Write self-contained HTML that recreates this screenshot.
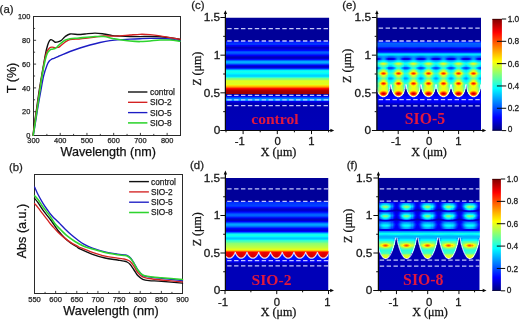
<!DOCTYPE html>
<html><head><meta charset="utf-8"><style>
html,body{margin:0;padding:0;background:#fff;width:520px;height:320px;overflow:hidden}
svg{display:block;filter:blur(0.3px)}
</style></head><body>
<svg width="520" height="320" viewBox="0 0 520 320">
<defs><linearGradient id="g1" gradientUnits="userSpaceOnUse" x1="0" y1="17.5" x2="0" y2="130.5"><stop offset="0%" stop-color="#000099"/><stop offset="19.91%" stop-color="#000099"/><stop offset="20.35%" stop-color="#00009f"/><stop offset="20.8%" stop-color="#0000d2"/><stop offset="21.24%" stop-color="#000dff"/><stop offset="23.45%" stop-color="#003dff"/><stop offset="23.89%" stop-color="#0033ff"/><stop offset="24.78%" stop-color="#0000f9"/><stop offset="25.22%" stop-color="#0000e7"/><stop offset="25.66%" stop-color="#0000e2"/><stop offset="26.55%" stop-color="#0000b9"/><stop offset="26.99%" stop-color="#0000b3"/><stop offset="27.88%" stop-color="#0000d7"/><stop offset="28.76%" stop-color="#0000ec"/><stop offset="29.2%" stop-color="#0005ff"/><stop offset="30.09%" stop-color="#0048ff"/><stop offset="30.53%" stop-color="#005dff"/><stop offset="30.97%" stop-color="#0060ff"/><stop offset="31.86%" stop-color="#004eff"/><stop offset="33.19%" stop-color="#000fff"/><stop offset="33.63%" stop-color="#0000f6"/><stop offset="34.51%" stop-color="#0000ce"/><stop offset="35.4%" stop-color="#0000b9"/><stop offset="35.84%" stop-color="#0000b9"/><stop offset="36.28%" stop-color="#0000c8"/><stop offset="36.73%" stop-color="#0000e5"/><stop offset="37.17%" stop-color="#000dff"/><stop offset="38.5%" stop-color="#008cff"/><stop offset="38.94%" stop-color="#00a7ff"/><stop offset="39.38%" stop-color="#00b2ff"/><stop offset="39.82%" stop-color="#00aeff"/><stop offset="40.27%" stop-color="#009eff"/><stop offset="40.71%" stop-color="#0083ff"/><stop offset="42.04%" stop-color="#0013ff"/><stop offset="42.48%" stop-color="#0000f0"/><stop offset="43.36%" stop-color="#0000c9"/><stop offset="43.81%" stop-color="#0000c8"/><stop offset="44.25%" stop-color="#0000d9"/><stop offset="44.69%" stop-color="#0000fa"/><stop offset="45.13%" stop-color="#0029ff"/><stop offset="46.46%" stop-color="#00cbff"/><stop offset="46.9%" stop-color="#00f4ff"/><stop offset="47.35%" stop-color="#10ffef"/><stop offset="48.23%" stop-color="#17ffe8"/><stop offset="49.56%" stop-color="#00fbff"/><stop offset="50.88%" stop-color="#00d9ff"/><stop offset="51.77%" stop-color="#00d1ff"/><stop offset="52.21%" stop-color="#00deff"/><stop offset="52.65%" stop-color="#00ffff"/><stop offset="53.54%" stop-color="#59ffa6"/><stop offset="53.98%" stop-color="#77ff88"/><stop offset="54.87%" stop-color="#90ff6f"/><stop offset="55.75%" stop-color="#d0ff2f"/><stop offset="56.19%" stop-color="#e4ff1b"/><stop offset="58.85%" stop-color="#dbff24"/><stop offset="59.29%" stop-color="#e5ff1a"/><stop offset="59.73%" stop-color="#fffe00"/><stop offset="60.62%" stop-color="#ffc100"/><stop offset="61.5%" stop-color="#ffa300"/><stop offset="62.39%" stop-color="#ff3100"/><stop offset="62.83%" stop-color="#ff1000"/><stop offset="63.27%" stop-color="#ff0300"/><stop offset="64.16%" stop-color="#b90000"/><stop offset="65.93%" stop-color="#9e0000"/><stop offset="67.7%" stop-color="#9e0000"/><stop offset="68.14%" stop-color="#00009e"/><stop offset="69.47%" stop-color="#0000cd"/><stop offset="69.91%" stop-color="#0005ff"/><stop offset="70.35%" stop-color="#003cff"/><stop offset="71.24%" stop-color="#005aff"/><stop offset="72.57%" stop-color="#00acff"/><stop offset="73.01%" stop-color="#00b1ff"/><stop offset="73.45%" stop-color="#0082ff"/><stop offset="73.89%" stop-color="#002fff"/><stop offset="74.34%" stop-color="#0000ef"/><stop offset="76.11%" stop-color="#0000b3"/><stop offset="100%" stop-color="#0000b8"/></linearGradient>
<linearGradient id="g2" gradientUnits="userSpaceOnUse" x1="0" y1="178" x2="0" y2="290.5"><stop offset="0%" stop-color="#000099"/><stop offset="20%" stop-color="#000099"/><stop offset="20.44%" stop-color="#00009f"/><stop offset="20.89%" stop-color="#0000db"/><stop offset="21.33%" stop-color="#0020ff"/><stop offset="21.78%" stop-color="#002eff"/><stop offset="24.44%" stop-color="#0042ff"/><stop offset="25.33%" stop-color="#0031ff"/><stop offset="26.22%" stop-color="#0007ff"/><stop offset="27.56%" stop-color="#0000c8"/><stop offset="28.44%" stop-color="#0000bd"/><stop offset="29.33%" stop-color="#0000d2"/><stop offset="30.22%" stop-color="#0000fd"/><stop offset="32%" stop-color="#0059ff"/><stop offset="32.89%" stop-color="#006bff"/><stop offset="33.78%" stop-color="#005cff"/><stop offset="35.56%" stop-color="#0000f8"/><stop offset="36.44%" stop-color="#0000cb"/><stop offset="37.33%" stop-color="#0000bd"/><stop offset="37.78%" stop-color="#0000c6"/><stop offset="38.67%" stop-color="#0000f7"/><stop offset="40.44%" stop-color="#0086ff"/><stop offset="41.33%" stop-color="#00a7ff"/><stop offset="41.78%" stop-color="#00a7ff"/><stop offset="42.67%" stop-color="#008dff"/><stop offset="44.89%" stop-color="#0004ff"/><stop offset="46.22%" stop-color="#0000d3"/><stop offset="46.67%" stop-color="#0000d3"/><stop offset="47.11%" stop-color="#0000e3"/><stop offset="47.56%" stop-color="#0004ff"/><stop offset="49.33%" stop-color="#00cdff"/><stop offset="49.78%" stop-color="#00f5ff"/><stop offset="50.22%" stop-color="#10ffef"/><stop offset="50.67%" stop-color="#1affe5"/><stop offset="51.11%" stop-color="#16ffe9"/><stop offset="52%" stop-color="#00fdff"/><stop offset="52.89%" stop-color="#00dcff"/><stop offset="53.78%" stop-color="#00c8ff"/><stop offset="54.22%" stop-color="#00c9ff"/><stop offset="54.67%" stop-color="#00e3ff"/><stop offset="55.11%" stop-color="#0efff1"/><stop offset="55.56%" stop-color="#33ffcc"/><stop offset="56.89%" stop-color="#57ffa8"/><stop offset="58.22%" stop-color="#8eff71"/><stop offset="61.78%" stop-color="#c1ff3e"/><stop offset="63.56%" stop-color="#e5ff1a"/><stop offset="64%" stop-color="#fff600"/><stop offset="64.89%" stop-color="#ff9d00"/><stop offset="65.33%" stop-color="#ff4f00"/><stop offset="65.78%" stop-color="#ff2e00"/><stop offset="66.22%" stop-color="#0000e7"/><stop offset="68%" stop-color="#0003ff"/><stop offset="69.33%" stop-color="#000fff"/><stop offset="71.56%" stop-color="#000fff"/><stop offset="72.89%" stop-color="#0003ff"/><stop offset="74.67%" stop-color="#0000f0"/><stop offset="76%" stop-color="#0000b8"/><stop offset="100%" stop-color="#0000b8"/></linearGradient>
<linearGradient id="g3" gradientUnits="userSpaceOnUse" x1="0" y1="251" x2="0" y2="259.5"><stop offset="0%" stop-color="#ff9d00"/><stop offset="5.88%" stop-color="#ff4f00"/><stop offset="17.65%" stop-color="#ff0000"/><stop offset="52.94%" stop-color="#ed0000"/><stop offset="58.82%" stop-color="#000fff"/><stop offset="100%" stop-color="#000aff"/></linearGradient>
<linearGradient id="g4" gradientUnits="userSpaceOnUse" x1="0" y1="251" x2="0" y2="259.5"><stop offset="0%" stop-color="#ff9d00"/><stop offset="5.88%" stop-color="#ff4f00"/><stop offset="17.65%" stop-color="#f80000"/><stop offset="64.71%" stop-color="#df0000"/><stop offset="70.59%" stop-color="#000fff"/><stop offset="100%" stop-color="#000aff"/></linearGradient>
<linearGradient id="g5" gradientUnits="userSpaceOnUse" x1="0" y1="251" x2="0" y2="259.5"><stop offset="0%" stop-color="#ff9d00"/><stop offset="5.88%" stop-color="#ff4f00"/><stop offset="11.76%" stop-color="#ff1b00"/><stop offset="17.65%" stop-color="#f00000"/><stop offset="76.47%" stop-color="#d20000"/><stop offset="82.35%" stop-color="#000fff"/><stop offset="100%" stop-color="#000aff"/></linearGradient>
<linearGradient id="g6" gradientUnits="userSpaceOnUse" x1="0" y1="251" x2="0" y2="259.5"><stop offset="0%" stop-color="#ff9d00"/><stop offset="5.88%" stop-color="#ff4f00"/><stop offset="11.76%" stop-color="#ff1300"/><stop offset="17.65%" stop-color="#e90000"/><stop offset="82.35%" stop-color="#ca0000"/><stop offset="88.24%" stop-color="#000fff"/><stop offset="100%" stop-color="#000aff"/></linearGradient>
<linearGradient id="g7" gradientUnits="userSpaceOnUse" x1="0" y1="251" x2="0" y2="259.5"><stop offset="0%" stop-color="#ff9d00"/><stop offset="5.88%" stop-color="#ff4f00"/><stop offset="11.76%" stop-color="#ff1000"/><stop offset="17.65%" stop-color="#e50000"/><stop offset="82.35%" stop-color="#c70000"/><stop offset="88.24%" stop-color="#000fff"/><stop offset="100%" stop-color="#000aff"/></linearGradient>
<linearGradient id="g8" gradientUnits="userSpaceOnUse" x1="0" y1="251" x2="0" y2="259.5"><stop offset="0%" stop-color="#ff9d00"/><stop offset="5.88%" stop-color="#ff4f00"/><stop offset="11.76%" stop-color="#ff1300"/><stop offset="17.65%" stop-color="#e90000"/><stop offset="82.35%" stop-color="#ca0000"/><stop offset="88.24%" stop-color="#000fff"/><stop offset="100%" stop-color="#000aff"/></linearGradient>
<linearGradient id="g9" gradientUnits="userSpaceOnUse" x1="0" y1="251" x2="0" y2="259.5"><stop offset="0%" stop-color="#ff9d00"/><stop offset="5.88%" stop-color="#ff4f00"/><stop offset="11.76%" stop-color="#ff1b00"/><stop offset="17.65%" stop-color="#f00000"/><stop offset="76.47%" stop-color="#d20000"/><stop offset="82.35%" stop-color="#000fff"/><stop offset="100%" stop-color="#000aff"/></linearGradient>
<linearGradient id="g10" gradientUnits="userSpaceOnUse" x1="0" y1="251" x2="0" y2="259.5"><stop offset="0%" stop-color="#ff9d00"/><stop offset="5.88%" stop-color="#ff4f00"/><stop offset="17.65%" stop-color="#f80000"/><stop offset="64.71%" stop-color="#df0000"/><stop offset="70.59%" stop-color="#000fff"/><stop offset="100%" stop-color="#000aff"/></linearGradient>
<linearGradient id="g11" gradientUnits="userSpaceOnUse" x1="0" y1="251" x2="0" y2="259.5"><stop offset="0%" stop-color="#ff9d00"/><stop offset="5.88%" stop-color="#ff4f00"/><stop offset="17.65%" stop-color="#ff0000"/><stop offset="52.94%" stop-color="#ed0000"/><stop offset="58.82%" stop-color="#000fff"/><stop offset="100%" stop-color="#000aff"/></linearGradient>
<linearGradient id="g12" gradientUnits="userSpaceOnUse" x1="0" y1="251" x2="0" y2="259.5"><stop offset="0%" stop-color="#ff9d00"/><stop offset="5.88%" stop-color="#ff4f00"/><stop offset="17.65%" stop-color="#ff0300"/><stop offset="35.29%" stop-color="#fd0000"/><stop offset="41.18%" stop-color="#0003ff"/><stop offset="58.82%" stop-color="#000fff"/><stop offset="100%" stop-color="#000aff"/></linearGradient>
<linearGradient id="g13" gradientUnits="userSpaceOnUse" x1="0" y1="251" x2="0" y2="259.5"><stop offset="0%" stop-color="#ff9d00"/><stop offset="5.88%" stop-color="#ff4f00"/><stop offset="11.76%" stop-color="#ff2e00"/><stop offset="17.65%" stop-color="#0000e7"/><stop offset="41.18%" stop-color="#0003ff"/><stop offset="58.82%" stop-color="#000fff"/><stop offset="100%" stop-color="#000aff"/></linearGradient>
<linearGradient id="g14" gradientUnits="userSpaceOnUse" x1="0" y1="251" x2="0" y2="259.5"><stop offset="0%" stop-color="#ff9d00"/><stop offset="5.88%" stop-color="#ff4f00"/><stop offset="17.65%" stop-color="#ff0300"/><stop offset="35.29%" stop-color="#fd0000"/><stop offset="41.18%" stop-color="#0003ff"/><stop offset="58.82%" stop-color="#000fff"/><stop offset="100%" stop-color="#000aff"/></linearGradient>
<linearGradient id="g15" gradientUnits="userSpaceOnUse" x1="0" y1="17.5" x2="0" y2="130.5"><stop offset="0%" stop-color="#000099"/><stop offset="19.91%" stop-color="#000099"/><stop offset="20.35%" stop-color="#00009f"/><stop offset="20.8%" stop-color="#0000d2"/><stop offset="21.24%" stop-color="#000dff"/><stop offset="21.68%" stop-color="#001cff"/><stop offset="22.57%" stop-color="#0053ff"/><stop offset="23.01%" stop-color="#0061ff"/><stop offset="25.66%" stop-color="#004fff"/><stop offset="26.99%" stop-color="#0000fb"/><stop offset="27.88%" stop-color="#0000c9"/><stop offset="28.32%" stop-color="#0000c2"/><stop offset="28.76%" stop-color="#0000cc"/><stop offset="29.65%" stop-color="#0000fa"/><stop offset="30.53%" stop-color="#0014ff"/><stop offset="30.97%" stop-color="#003dff"/><stop offset="31.86%" stop-color="#00adff"/><stop offset="32.3%" stop-color="#00d6ff"/><stop offset="32.74%" stop-color="#00e5ff"/><stop offset="33.19%" stop-color="#00d9ff"/><stop offset="34.51%" stop-color="#006eff"/><stop offset="35.4%" stop-color="#0049ff"/><stop offset="35.84%" stop-color="#000fff"/><stop offset="36.28%" stop-color="#0000d5"/><stop offset="36.73%" stop-color="#0000bd"/><stop offset="37.17%" stop-color="#0000e1"/><stop offset="37.61%" stop-color="#0038ff"/><stop offset="38.05%" stop-color="#008fff"/><stop offset="38.5%" stop-color="#00b2ff"/><stop offset="38.94%" stop-color="#00baff"/><stop offset="40.27%" stop-color="#06fff9"/><stop offset="40.71%" stop-color="#17ffe8"/><stop offset="41.15%" stop-color="#18ffe7"/><stop offset="41.59%" stop-color="#09fff6"/><stop offset="42.48%" stop-color="#00daff"/><stop offset="42.92%" stop-color="#00d1ff"/><stop offset="43.36%" stop-color="#00bbff"/><stop offset="44.25%" stop-color="#004fff"/><stop offset="44.69%" stop-color="#0038ff"/><stop offset="45.13%" stop-color="#0044ff"/><stop offset="45.58%" stop-color="#0066ff"/><stop offset="46.46%" stop-color="#00c2ff"/><stop offset="46.9%" stop-color="#00e3ff"/><stop offset="48.23%" stop-color="#06fff9"/><stop offset="49.12%" stop-color="#28ffd7"/><stop offset="49.56%" stop-color="#2effd1"/><stop offset="50%" stop-color="#28ffd7"/><stop offset="50.88%" stop-color="#06fff9"/><stop offset="51.77%" stop-color="#00f0ff"/><stop offset="52.21%" stop-color="#00e7ff"/><stop offset="53.54%" stop-color="#009dff"/><stop offset="53.98%" stop-color="#0094ff"/><stop offset="54.42%" stop-color="#009dff"/><stop offset="55.75%" stop-color="#00e7ff"/><stop offset="57.08%" stop-color="#06fff9"/><stop offset="57.96%" stop-color="#28ffd7"/><stop offset="59.29%" stop-color="#38ffc7"/><stop offset="59.73%" stop-color="#000095"/><stop offset="65.04%" stop-color="#0000ae"/><stop offset="67.7%" stop-color="#0000e0"/><stop offset="69.03%" stop-color="#0000e8"/><stop offset="70.35%" stop-color="#0005ff"/><stop offset="71.24%" stop-color="#000fff"/><stop offset="73.45%" stop-color="#0000fc"/><stop offset="75.22%" stop-color="#0000f0"/><stop offset="76.99%" stop-color="#0000b8"/><stop offset="100%" stop-color="#0000b8"/></linearGradient>
<linearGradient id="g16" gradientUnits="userSpaceOnUse" x1="0" y1="46.5" x2="0" y2="98.5"><stop offset="0%" stop-color="#004fff"/><stop offset="2.88%" stop-color="#0000fc"/><stop offset="4.81%" stop-color="#0000c9"/><stop offset="5.77%" stop-color="#0000c2"/><stop offset="6.73%" stop-color="#0000cc"/><stop offset="8.65%" stop-color="#0000fa"/><stop offset="9.62%" stop-color="#0005ff"/><stop offset="10.58%" stop-color="#0014ff"/><stop offset="11.54%" stop-color="#003dff"/><stop offset="13.46%" stop-color="#00adff"/><stop offset="14.42%" stop-color="#00d6ff"/><stop offset="15.38%" stop-color="#00e5ff"/><stop offset="16.35%" stop-color="#00d9ff"/><stop offset="19.23%" stop-color="#006fff"/><stop offset="21.15%" stop-color="#004aff"/><stop offset="22.12%" stop-color="#0011ff"/><stop offset="23.08%" stop-color="#0000d6"/><stop offset="24.04%" stop-color="#0000be"/><stop offset="25%" stop-color="#0000e2"/><stop offset="25.96%" stop-color="#0039ff"/><stop offset="26.92%" stop-color="#0090ff"/><stop offset="27.88%" stop-color="#00b3ff"/><stop offset="28.85%" stop-color="#00bbff"/><stop offset="30.77%" stop-color="#00eeff"/><stop offset="31.73%" stop-color="#0afff5"/><stop offset="32.69%" stop-color="#1bffe4"/><stop offset="33.65%" stop-color="#1dffe2"/><stop offset="35.58%" stop-color="#00f5ff"/><stop offset="36.54%" stop-color="#00dfff"/><stop offset="37.5%" stop-color="#00d7ff"/><stop offset="38.46%" stop-color="#00c0ff"/><stop offset="40.38%" stop-color="#0053ff"/><stop offset="41.35%" stop-color="#003dff"/><stop offset="42.31%" stop-color="#0049ff"/><stop offset="43.27%" stop-color="#006bff"/><stop offset="45.19%" stop-color="#00c7ff"/><stop offset="46.15%" stop-color="#00e9ff"/><stop offset="48.08%" stop-color="#00fbff"/><stop offset="50.96%" stop-color="#2effd1"/><stop offset="51.92%" stop-color="#34ffcb"/><stop offset="52.88%" stop-color="#2effd1"/><stop offset="55.77%" stop-color="#00fbff"/><stop offset="56.73%" stop-color="#00f5ff"/><stop offset="57.69%" stop-color="#00edff"/><stop offset="60.58%" stop-color="#00a5ff"/><stop offset="61.54%" stop-color="#009cff"/><stop offset="62.5%" stop-color="#00a5ff"/><stop offset="65.38%" stop-color="#00ecff"/><stop offset="67.31%" stop-color="#00faff"/><stop offset="70.19%" stop-color="#2dffd2"/><stop offset="73.08%" stop-color="#3dffc2"/><stop offset="74.04%" stop-color="#00edff"/><stop offset="76.92%" stop-color="#00fcff"/><stop offset="78.85%" stop-color="#1dffe2"/><stop offset="80.77%" stop-color="#1effe1"/><stop offset="81.73%" stop-color="#0000a7"/><stop offset="85.58%" stop-color="#0000ae"/><stop offset="91.35%" stop-color="#0000e0"/><stop offset="94.23%" stop-color="#0000e8"/><stop offset="97.12%" stop-color="#0005ff"/><stop offset="100%" stop-color="#000eff"/></linearGradient>
<linearGradient id="g17" gradientUnits="userSpaceOnUse" x1="0" y1="46.5" x2="0" y2="98.5"><stop offset="0%" stop-color="#004fff"/><stop offset="0.96%" stop-color="#003bff"/><stop offset="2.88%" stop-color="#0000fc"/><stop offset="4.81%" stop-color="#0000cb"/><stop offset="5.77%" stop-color="#0000c3"/><stop offset="6.73%" stop-color="#0000cd"/><stop offset="8.65%" stop-color="#0000fb"/><stop offset="9.62%" stop-color="#0005ff"/><stop offset="10.58%" stop-color="#0014ff"/><stop offset="11.54%" stop-color="#003dff"/><stop offset="13.46%" stop-color="#00adff"/><stop offset="14.42%" stop-color="#00d6ff"/><stop offset="15.38%" stop-color="#00e5ff"/><stop offset="16.35%" stop-color="#00d9ff"/><stop offset="19.23%" stop-color="#0072ff"/><stop offset="21.15%" stop-color="#004eff"/><stop offset="22.12%" stop-color="#0016ff"/><stop offset="23.08%" stop-color="#0000dd"/><stop offset="24.04%" stop-color="#0000c5"/><stop offset="25%" stop-color="#0000e8"/><stop offset="25.96%" stop-color="#003eff"/><stop offset="26.92%" stop-color="#0093ff"/><stop offset="27.88%" stop-color="#00b6ff"/><stop offset="28.85%" stop-color="#00bfff"/><stop offset="30.77%" stop-color="#00f8ff"/><stop offset="31.73%" stop-color="#17ffe8"/><stop offset="32.69%" stop-color="#2affd5"/><stop offset="33.65%" stop-color="#2cffd3"/><stop offset="35.58%" stop-color="#05fffa"/><stop offset="37.5%" stop-color="#00e6ff"/><stop offset="38.46%" stop-color="#00d0ff"/><stop offset="40.38%" stop-color="#0063ff"/><stop offset="41.35%" stop-color="#004dff"/><stop offset="42.31%" stop-color="#0059ff"/><stop offset="43.27%" stop-color="#007bff"/><stop offset="45.19%" stop-color="#00d8ff"/><stop offset="46.15%" stop-color="#00faff"/><stop offset="47.12%" stop-color="#07fff8"/><stop offset="48.08%" stop-color="#0efff1"/><stop offset="50.96%" stop-color="#43ffbc"/><stop offset="51.92%" stop-color="#49ffb6"/><stop offset="52.88%" stop-color="#43ffbc"/><stop offset="55.77%" stop-color="#0efff1"/><stop offset="57.69%" stop-color="#00ffff"/><stop offset="60.58%" stop-color="#00bdff"/><stop offset="61.54%" stop-color="#00b5ff"/><stop offset="62.5%" stop-color="#00bcff"/><stop offset="65.38%" stop-color="#00fdff"/><stop offset="67.31%" stop-color="#0cfff3"/><stop offset="70.19%" stop-color="#41ffbe"/><stop offset="73.08%" stop-color="#4effb1"/><stop offset="74.04%" stop-color="#1fffe0"/><stop offset="76.92%" stop-color="#2cffd3"/><stop offset="78.85%" stop-color="#4cffb3"/><stop offset="79.81%" stop-color="#51ffae"/><stop offset="86.54%" stop-color="#41ffbe"/><stop offset="87.5%" stop-color="#0000bd"/><stop offset="91.35%" stop-color="#0000e0"/><stop offset="94.23%" stop-color="#0000e8"/><stop offset="97.12%" stop-color="#0005ff"/><stop offset="100%" stop-color="#000eff"/></linearGradient>
<linearGradient id="g18" gradientUnits="userSpaceOnUse" x1="0" y1="46.5" x2="0" y2="98.5"><stop offset="0%" stop-color="#0050ff"/><stop offset="0.96%" stop-color="#003bff"/><stop offset="2.88%" stop-color="#0000fd"/><stop offset="4.81%" stop-color="#0000cc"/><stop offset="5.77%" stop-color="#0000c5"/><stop offset="6.73%" stop-color="#0000ce"/><stop offset="8.65%" stop-color="#0000fb"/><stop offset="9.62%" stop-color="#0005ff"/><stop offset="10.58%" stop-color="#0014ff"/><stop offset="11.54%" stop-color="#003dff"/><stop offset="13.46%" stop-color="#00adff"/><stop offset="14.42%" stop-color="#00d6ff"/><stop offset="15.38%" stop-color="#00e5ff"/><stop offset="16.35%" stop-color="#00daff"/><stop offset="19.23%" stop-color="#0078ff"/><stop offset="21.15%" stop-color="#0057ff"/><stop offset="22.12%" stop-color="#0022ff"/><stop offset="23.08%" stop-color="#0000ed"/><stop offset="24.04%" stop-color="#0000d8"/><stop offset="25%" stop-color="#0000f9"/><stop offset="26.92%" stop-color="#009bff"/><stop offset="27.88%" stop-color="#00bdff"/><stop offset="28.85%" stop-color="#00c7ff"/><stop offset="30.77%" stop-color="#0afff5"/><stop offset="31.73%" stop-color="#2dffd2"/><stop offset="32.69%" stop-color="#43ffbc"/><stop offset="33.65%" stop-color="#46ffb9"/><stop offset="36.54%" stop-color="#07fff8"/><stop offset="37.5%" stop-color="#00fdff"/><stop offset="38.46%" stop-color="#00e8ff"/><stop offset="40.38%" stop-color="#007fff"/><stop offset="41.35%" stop-color="#006aff"/><stop offset="42.31%" stop-color="#0076ff"/><stop offset="43.27%" stop-color="#0098ff"/><stop offset="45.19%" stop-color="#00f5ff"/><stop offset="46.15%" stop-color="#18ffe7"/><stop offset="48.08%" stop-color="#2cffd3"/><stop offset="50.96%" stop-color="#6dff92"/><stop offset="51.92%" stop-color="#75ff8a"/><stop offset="52.88%" stop-color="#6dff92"/><stop offset="55.77%" stop-color="#2cffd3"/><stop offset="57.69%" stop-color="#1dffe2"/><stop offset="58.65%" stop-color="#0bfff4"/><stop offset="59.62%" stop-color="#00f3ff"/><stop offset="61.54%" stop-color="#00d9ff"/><stop offset="63.46%" stop-color="#00f2ff"/><stop offset="64.42%" stop-color="#09fff6"/><stop offset="65.38%" stop-color="#1bffe4"/><stop offset="67.31%" stop-color="#2affd5"/><stop offset="70.19%" stop-color="#6bff94"/><stop offset="71.15%" stop-color="#73ff8c"/><stop offset="73.08%" stop-color="#73ff8c"/><stop offset="74.04%" stop-color="#60ff9f"/><stop offset="75.96%" stop-color="#5effa1"/><stop offset="79.81%" stop-color="#85ff7a"/><stop offset="84.62%" stop-color="#7fff80"/><stop offset="88.46%" stop-color="#9cff63"/><stop offset="90.38%" stop-color="#99ff66"/><stop offset="91.35%" stop-color="#0000e0"/><stop offset="94.23%" stop-color="#0000e8"/><stop offset="97.12%" stop-color="#0005ff"/><stop offset="100%" stop-color="#000eff"/></linearGradient>
<linearGradient id="g19" gradientUnits="userSpaceOnUse" x1="0" y1="46.5" x2="0" y2="98.5"><stop offset="0%" stop-color="#0050ff"/><stop offset="0.96%" stop-color="#003cff"/><stop offset="2.88%" stop-color="#0000fe"/><stop offset="4.81%" stop-color="#0000ce"/><stop offset="5.77%" stop-color="#0000c7"/><stop offset="6.73%" stop-color="#0000d0"/><stop offset="8.65%" stop-color="#0000fb"/><stop offset="9.62%" stop-color="#0005ff"/><stop offset="10.58%" stop-color="#0014ff"/><stop offset="11.54%" stop-color="#003dff"/><stop offset="13.46%" stop-color="#00adff"/><stop offset="14.42%" stop-color="#00d6ff"/><stop offset="15.38%" stop-color="#00e5ff"/><stop offset="16.35%" stop-color="#00dbff"/><stop offset="19.23%" stop-color="#0080ff"/><stop offset="21.15%" stop-color="#0063ff"/><stop offset="23.08%" stop-color="#000dff"/><stop offset="24.04%" stop-color="#0000fa"/><stop offset="25%" stop-color="#0019ff"/><stop offset="26.92%" stop-color="#00a9ff"/><stop offset="27.88%" stop-color="#00c7ff"/><stop offset="28.85%" stop-color="#00d3ff"/><stop offset="29.81%" stop-color="#00f5ff"/><stop offset="30.77%" stop-color="#23ffdc"/><stop offset="31.73%" stop-color="#4cffb3"/><stop offset="32.69%" stop-color="#67ff98"/><stop offset="33.65%" stop-color="#69ff96"/><stop offset="34.62%" stop-color="#58ffa7"/><stop offset="36.54%" stop-color="#23ffdc"/><stop offset="38.46%" stop-color="#06fff9"/><stop offset="40.38%" stop-color="#00a7ff"/><stop offset="41.35%" stop-color="#0094ff"/><stop offset="42.31%" stop-color="#00a0ff"/><stop offset="43.27%" stop-color="#00c2ff"/><stop offset="44.23%" stop-color="#00f0ff"/><stop offset="45.19%" stop-color="#1fffe0"/><stop offset="46.15%" stop-color="#40ffbf"/><stop offset="48.08%" stop-color="#57ffa8"/><stop offset="50.96%" stop-color="#b2ff4d"/><stop offset="51.92%" stop-color="#bdff42"/><stop offset="52.88%" stop-color="#b2ff4d"/><stop offset="55.77%" stop-color="#57ffa8"/><stop offset="57.69%" stop-color="#46ffb9"/><stop offset="60.58%" stop-color="#0cfff3"/><stop offset="61.54%" stop-color="#05fffa"/><stop offset="62.5%" stop-color="#0cfff3"/><stop offset="65.38%" stop-color="#46ffb9"/><stop offset="67.31%" stop-color="#57ffa8"/><stop offset="70.19%" stop-color="#b2ff4d"/><stop offset="71.15%" stop-color="#bdff42"/><stop offset="75.96%" stop-color="#94ff6b"/><stop offset="78.85%" stop-color="#aeff51"/><stop offset="84.62%" stop-color="#c0ff3f"/><stop offset="88.46%" stop-color="#fff800"/><stop offset="89.42%" stop-color="#ffe900"/><stop offset="90.38%" stop-color="#ffe800"/><stop offset="91.35%" stop-color="#fff900"/><stop offset="92.31%" stop-color="#e0ff1f"/><stop offset="93.27%" stop-color="#0000e6"/><stop offset="97.12%" stop-color="#0005ff"/><stop offset="100%" stop-color="#000eff"/></linearGradient>
<linearGradient id="g20" gradientUnits="userSpaceOnUse" x1="0" y1="46.5" x2="0" y2="98.5"><stop offset="0%" stop-color="#0050ff"/><stop offset="0.96%" stop-color="#003cff"/><stop offset="2.88%" stop-color="#0001ff"/><stop offset="4.81%" stop-color="#0000d0"/><stop offset="5.77%" stop-color="#0000c9"/><stop offset="6.73%" stop-color="#0000d2"/><stop offset="8.65%" stop-color="#0000fb"/><stop offset="9.62%" stop-color="#0005ff"/><stop offset="10.58%" stop-color="#0014ff"/><stop offset="11.54%" stop-color="#003dff"/><stop offset="13.46%" stop-color="#00adff"/><stop offset="14.42%" stop-color="#00d6ff"/><stop offset="15.38%" stop-color="#00e5ff"/><stop offset="16.35%" stop-color="#00dcff"/><stop offset="19.23%" stop-color="#008aff"/><stop offset="21.15%" stop-color="#0073ff"/><stop offset="23.08%" stop-color="#0037ff"/><stop offset="24.04%" stop-color="#002bff"/><stop offset="25%" stop-color="#0043ff"/><stop offset="26.92%" stop-color="#00bbff"/><stop offset="28.85%" stop-color="#00e3ff"/><stop offset="29.81%" stop-color="#0bfff4"/><stop offset="31.73%" stop-color="#71ff8e"/><stop offset="32.69%" stop-color="#90ff6f"/><stop offset="33.65%" stop-color="#93ff6c"/><stop offset="34.62%" stop-color="#7fff80"/><stop offset="36.54%" stop-color="#41ffbe"/><stop offset="38.46%" stop-color="#25ffda"/><stop offset="39.42%" stop-color="#00feff"/><stop offset="40.38%" stop-color="#00d7ff"/><stop offset="41.35%" stop-color="#00c7ff"/><stop offset="42.31%" stop-color="#00d3ff"/><stop offset="43.27%" stop-color="#00f4ff"/><stop offset="44.23%" stop-color="#21ffde"/><stop offset="46.15%" stop-color="#6eff91"/><stop offset="48.08%" stop-color="#8aff75"/><stop offset="50%" stop-color="#e2ff1d"/><stop offset="50.96%" stop-color="#fff400"/><stop offset="51.92%" stop-color="#ffe500"/><stop offset="52.88%" stop-color="#fff400"/><stop offset="53.85%" stop-color="#e2ff1d"/><stop offset="55.77%" stop-color="#8aff75"/><stop offset="57.69%" stop-color="#73ff8c"/><stop offset="60.58%" stop-color="#37ffc8"/><stop offset="61.54%" stop-color="#30ffcf"/><stop offset="62.5%" stop-color="#38ffc7"/><stop offset="65.38%" stop-color="#78ff87"/><stop offset="67.31%" stop-color="#8fff70"/><stop offset="69.23%" stop-color="#e8ff17"/><stop offset="70.19%" stop-color="#ffef00"/><stop offset="71.15%" stop-color="#ffdf00"/><stop offset="72.12%" stop-color="#ffe900"/><stop offset="73.08%" stop-color="#fdff02"/><stop offset="75%" stop-color="#c6ff39"/><stop offset="75.96%" stop-color="#bdff42"/><stop offset="82.69%" stop-color="#ccff33"/><stop offset="84.62%" stop-color="#e0ff1f"/><stop offset="85.58%" stop-color="#f6ff09"/><stop offset="86.54%" stop-color="#ffe900"/><stop offset="89.42%" stop-color="#ff7600"/><stop offset="90.38%" stop-color="#ff6300"/><stop offset="91.35%" stop-color="#ff7000"/><stop offset="92.31%" stop-color="#ff9700"/><stop offset="93.27%" stop-color="#ffd200"/><stop offset="94.23%" stop-color="#dfff20"/><stop offset="95.19%" stop-color="#0000f0"/><stop offset="97.12%" stop-color="#0005ff"/><stop offset="100%" stop-color="#000eff"/></linearGradient>
<linearGradient id="g21" gradientUnits="userSpaceOnUse" x1="0" y1="46.5" x2="0" y2="98.5"><stop offset="0%" stop-color="#0050ff"/><stop offset="0.96%" stop-color="#003cff"/><stop offset="2.88%" stop-color="#0002ff"/><stop offset="4.81%" stop-color="#0000d1"/><stop offset="5.77%" stop-color="#0000cb"/><stop offset="6.73%" stop-color="#0000d3"/><stop offset="8.65%" stop-color="#0000fc"/><stop offset="9.62%" stop-color="#0005ff"/><stop offset="10.58%" stop-color="#0014ff"/><stop offset="11.54%" stop-color="#003dff"/><stop offset="13.46%" stop-color="#00adff"/><stop offset="14.42%" stop-color="#00d6ff"/><stop offset="15.38%" stop-color="#00e5ff"/><stop offset="16.35%" stop-color="#00ddff"/><stop offset="19.23%" stop-color="#0093ff"/><stop offset="24.04%" stop-color="#005eff"/><stop offset="25%" stop-color="#0071ff"/><stop offset="26.92%" stop-color="#00ceff"/><stop offset="28.85%" stop-color="#00f2ff"/><stop offset="29.81%" stop-color="#21ffde"/><stop offset="31.73%" stop-color="#94ff6b"/><stop offset="32.69%" stop-color="#b7ff48"/><stop offset="33.65%" stop-color="#bbff44"/><stop offset="34.62%" stop-color="#a3ff5c"/><stop offset="36.54%" stop-color="#5affa5"/><stop offset="38.46%" stop-color="#40ffbf"/><stop offset="40.38%" stop-color="#07fff8"/><stop offset="41.35%" stop-color="#00faff"/><stop offset="42.31%" stop-color="#06fff9"/><stop offset="46.15%" stop-color="#9bff64"/><stop offset="48.08%" stop-color="#baff45"/><stop offset="49.04%" stop-color="#efff10"/><stop offset="50%" stop-color="#ffcf00"/><stop offset="50.96%" stop-color="#ff9a00"/><stop offset="51.92%" stop-color="#ff8600"/><stop offset="52.88%" stop-color="#ff9a00"/><stop offset="53.85%" stop-color="#ffcf00"/><stop offset="54.81%" stop-color="#efff10"/><stop offset="55.77%" stop-color="#baff45"/><stop offset="56.73%" stop-color="#a6ff59"/><stop offset="57.69%" stop-color="#9eff61"/><stop offset="60.58%" stop-color="#5cffa3"/><stop offset="61.54%" stop-color="#54ffab"/><stop offset="62.5%" stop-color="#5dffa2"/><stop offset="65.38%" stop-color="#a9ff56"/><stop offset="67.31%" stop-color="#c6ff39"/><stop offset="68.27%" stop-color="#fbff04"/><stop offset="70.19%" stop-color="#ff8e00"/><stop offset="71.15%" stop-color="#ff7a00"/><stop offset="72.12%" stop-color="#ff8900"/><stop offset="74.04%" stop-color="#ffe200"/><stop offset="75%" stop-color="#f4ff0b"/><stop offset="75.96%" stop-color="#e5ff1a"/><stop offset="79.81%" stop-color="#d7ff28"/><stop offset="82.69%" stop-color="#deff21"/><stop offset="84.62%" stop-color="#f8ff07"/><stop offset="85.58%" stop-color="#ffea00"/><stop offset="86.54%" stop-color="#ffc200"/><stop offset="89.42%" stop-color="#ff2f00"/><stop offset="90.38%" stop-color="#ff1600"/><stop offset="91.35%" stop-color="#ff1900"/><stop offset="92.31%" stop-color="#ff3600"/><stop offset="94.23%" stop-color="#ffa000"/><stop offset="95.19%" stop-color="#ffff00"/><stop offset="96.15%" stop-color="#0000fa"/><stop offset="100%" stop-color="#000eff"/></linearGradient>
<linearGradient id="g22" gradientUnits="userSpaceOnUse" x1="0" y1="46.5" x2="0" y2="98.5"><stop offset="0%" stop-color="#0050ff"/><stop offset="0.96%" stop-color="#003dff"/><stop offset="2.88%" stop-color="#0002ff"/><stop offset="4.81%" stop-color="#0000d2"/><stop offset="5.77%" stop-color="#0000cc"/><stop offset="6.73%" stop-color="#0000d4"/><stop offset="8.65%" stop-color="#0000fc"/><stop offset="9.62%" stop-color="#0005ff"/><stop offset="10.58%" stop-color="#0014ff"/><stop offset="11.54%" stop-color="#003dff"/><stop offset="13.46%" stop-color="#00adff"/><stop offset="14.42%" stop-color="#00d6ff"/><stop offset="15.38%" stop-color="#00e5ff"/><stop offset="16.35%" stop-color="#00ddff"/><stop offset="19.23%" stop-color="#0099ff"/><stop offset="24.04%" stop-color="#0085ff"/><stop offset="25%" stop-color="#0094ff"/><stop offset="26.92%" stop-color="#00ddff"/><stop offset="28.85%" stop-color="#00feff"/><stop offset="29.81%" stop-color="#30ffcf"/><stop offset="31.73%" stop-color="#aeff51"/><stop offset="32.69%" stop-color="#d4ff2b"/><stop offset="33.65%" stop-color="#d8ff27"/><stop offset="34.62%" stop-color="#beff41"/><stop offset="36.54%" stop-color="#6bff94"/><stop offset="38.46%" stop-color="#53ffac"/><stop offset="40.38%" stop-color="#29ffd6"/><stop offset="41.35%" stop-color="#20ffdf"/><stop offset="42.31%" stop-color="#2bffd4"/><stop offset="43.27%" stop-color="#49ffb6"/><stop offset="45.19%" stop-color="#9cff63"/><stop offset="46.15%" stop-color="#baff45"/><stop offset="47.12%" stop-color="#c6ff39"/><stop offset="48.08%" stop-color="#ddff22"/><stop offset="49.04%" stop-color="#ffe200"/><stop offset="50%" stop-color="#ff9500"/><stop offset="50.96%" stop-color="#ff5600"/><stop offset="51.92%" stop-color="#ff3e00"/><stop offset="52.88%" stop-color="#ff5600"/><stop offset="53.85%" stop-color="#ff9500"/><stop offset="54.81%" stop-color="#ffe200"/><stop offset="55.77%" stop-color="#ddff22"/><stop offset="56.73%" stop-color="#c6ff39"/><stop offset="57.69%" stop-color="#bdff42"/><stop offset="60.58%" stop-color="#75ff8a"/><stop offset="61.54%" stop-color="#6dff92"/><stop offset="62.5%" stop-color="#77ff88"/><stop offset="65.38%" stop-color="#cdff32"/><stop offset="66.35%" stop-color="#d8ff27"/><stop offset="67.31%" stop-color="#f0ff0f"/><stop offset="68.27%" stop-color="#ffd000"/><stop offset="69.23%" stop-color="#ff8300"/><stop offset="70.19%" stop-color="#ff4400"/><stop offset="71.15%" stop-color="#ff2c00"/><stop offset="72.12%" stop-color="#ff4000"/><stop offset="75%" stop-color="#ffe700"/><stop offset="75.96%" stop-color="#fffb00"/><stop offset="76.92%" stop-color="#feff01"/><stop offset="79.81%" stop-color="#e2ff1d"/><stop offset="81.73%" stop-color="#e5ff1a"/><stop offset="83.65%" stop-color="#f5ff0a"/><stop offset="84.62%" stop-color="#fff600"/><stop offset="85.58%" stop-color="#ffd500"/><stop offset="86.54%" stop-color="#ffa700"/><stop offset="88.46%" stop-color="#ff2f00"/><stop offset="89.42%" stop-color="#fa0000"/><stop offset="90.38%" stop-color="#de0000"/><stop offset="91.35%" stop-color="#e10000"/><stop offset="92.31%" stop-color="#ff0400"/><stop offset="95.19%" stop-color="#ffb100"/><stop offset="96.15%" stop-color="#fcff03"/><stop offset="97.12%" stop-color="#0005ff"/><stop offset="100%" stop-color="#000eff"/></linearGradient>
<linearGradient id="g23" gradientUnits="userSpaceOnUse" x1="0" y1="46.5" x2="0" y2="98.5"><stop offset="0%" stop-color="#0050ff"/><stop offset="0.96%" stop-color="#003dff"/><stop offset="2.88%" stop-color="#0003ff"/><stop offset="4.81%" stop-color="#0000d3"/><stop offset="5.77%" stop-color="#0000cc"/><stop offset="6.73%" stop-color="#0000d4"/><stop offset="8.65%" stop-color="#0000fc"/><stop offset="9.62%" stop-color="#0005ff"/><stop offset="10.58%" stop-color="#0014ff"/><stop offset="11.54%" stop-color="#003dff"/><stop offset="13.46%" stop-color="#00adff"/><stop offset="14.42%" stop-color="#00d6ff"/><stop offset="15.38%" stop-color="#00e5ff"/><stop offset="16.35%" stop-color="#00deff"/><stop offset="19.23%" stop-color="#009cff"/><stop offset="20.19%" stop-color="#0094ff"/><stop offset="24.04%" stop-color="#0094ff"/><stop offset="25%" stop-color="#00a1ff"/><stop offset="26.92%" stop-color="#00e2ff"/><stop offset="28.85%" stop-color="#03fffc"/><stop offset="29.81%" stop-color="#36ffc9"/><stop offset="31.73%" stop-color="#b7ff48"/><stop offset="32.69%" stop-color="#dfff20"/><stop offset="33.65%" stop-color="#e3ff1c"/><stop offset="34.62%" stop-color="#c7ff38"/><stop offset="36.54%" stop-color="#71ff8e"/><stop offset="41.35%" stop-color="#2effd1"/><stop offset="42.31%" stop-color="#39ffc6"/><stop offset="43.27%" stop-color="#57ffa8"/><stop offset="45.19%" stop-color="#a8ff57"/><stop offset="46.15%" stop-color="#c6ff39"/><stop offset="47.12%" stop-color="#d1ff2e"/><stop offset="48.08%" stop-color="#eaff15"/><stop offset="49.04%" stop-color="#ffd100"/><stop offset="50%" stop-color="#ff7f00"/><stop offset="50.96%" stop-color="#ff3d00"/><stop offset="51.92%" stop-color="#ff2400"/><stop offset="52.88%" stop-color="#ff3d00"/><stop offset="53.85%" stop-color="#ff7f00"/><stop offset="54.81%" stop-color="#ffd100"/><stop offset="55.77%" stop-color="#eaff15"/><stop offset="56.73%" stop-color="#d1ff2e"/><stop offset="57.69%" stop-color="#c8ff37"/><stop offset="60.58%" stop-color="#7eff81"/><stop offset="61.54%" stop-color="#75ff8a"/><stop offset="62.5%" stop-color="#80ff7f"/><stop offset="65.38%" stop-color="#dbff24"/><stop offset="66.35%" stop-color="#e5ff1a"/><stop offset="67.31%" stop-color="#ffff00"/><stop offset="70.19%" stop-color="#ff2900"/><stop offset="71.15%" stop-color="#ff0f00"/><stop offset="72.12%" stop-color="#ff2500"/><stop offset="75%" stop-color="#ffda00"/><stop offset="75.96%" stop-color="#fff000"/><stop offset="77.88%" stop-color="#faff05"/><stop offset="79.81%" stop-color="#e6ff19"/><stop offset="81.73%" stop-color="#e9ff16"/><stop offset="83.65%" stop-color="#f9ff06"/><stop offset="84.62%" stop-color="#fff000"/><stop offset="85.58%" stop-color="#ffce00"/><stop offset="86.54%" stop-color="#ff9d00"/><stop offset="88.46%" stop-color="#ff1f00"/><stop offset="89.42%" stop-color="#e70000"/><stop offset="90.38%" stop-color="#ca0000"/><stop offset="91.35%" stop-color="#cd0000"/><stop offset="92.31%" stop-color="#f10000"/><stop offset="93.27%" stop-color="#ff2b00"/><stop offset="95.19%" stop-color="#ffa800"/><stop offset="96.15%" stop-color="#ffd600"/><stop offset="97.12%" stop-color="#0005ff"/><stop offset="100%" stop-color="#000eff"/></linearGradient>
<linearGradient id="g24" gradientUnits="userSpaceOnUse" x1="0" y1="46.5" x2="0" y2="98.5"><stop offset="0%" stop-color="#0050ff"/><stop offset="0.96%" stop-color="#003dff"/><stop offset="2.88%" stop-color="#0002ff"/><stop offset="4.81%" stop-color="#0000d2"/><stop offset="5.77%" stop-color="#0000cc"/><stop offset="6.73%" stop-color="#0000d4"/><stop offset="8.65%" stop-color="#0000fc"/><stop offset="9.62%" stop-color="#0005ff"/><stop offset="10.58%" stop-color="#0014ff"/><stop offset="11.54%" stop-color="#003dff"/><stop offset="13.46%" stop-color="#00adff"/><stop offset="14.42%" stop-color="#00d6ff"/><stop offset="15.38%" stop-color="#00e5ff"/><stop offset="16.35%" stop-color="#00ddff"/><stop offset="19.23%" stop-color="#0099ff"/><stop offset="24.04%" stop-color="#0085ff"/><stop offset="25%" stop-color="#0094ff"/><stop offset="26.92%" stop-color="#00ddff"/><stop offset="28.85%" stop-color="#00feff"/><stop offset="29.81%" stop-color="#30ffcf"/><stop offset="31.73%" stop-color="#aeff51"/><stop offset="32.69%" stop-color="#d4ff2b"/><stop offset="33.65%" stop-color="#d8ff27"/><stop offset="34.62%" stop-color="#beff41"/><stop offset="36.54%" stop-color="#6bff94"/><stop offset="38.46%" stop-color="#53ffac"/><stop offset="40.38%" stop-color="#29ffd6"/><stop offset="41.35%" stop-color="#20ffdf"/><stop offset="42.31%" stop-color="#2bffd4"/><stop offset="43.27%" stop-color="#49ffb6"/><stop offset="45.19%" stop-color="#9cff63"/><stop offset="46.15%" stop-color="#baff45"/><stop offset="47.12%" stop-color="#c6ff39"/><stop offset="48.08%" stop-color="#ddff22"/><stop offset="49.04%" stop-color="#ffe200"/><stop offset="50%" stop-color="#ff9500"/><stop offset="50.96%" stop-color="#ff5600"/><stop offset="51.92%" stop-color="#ff3e00"/><stop offset="52.88%" stop-color="#ff5600"/><stop offset="53.85%" stop-color="#ff9500"/><stop offset="54.81%" stop-color="#ffe200"/><stop offset="55.77%" stop-color="#ddff22"/><stop offset="56.73%" stop-color="#c6ff39"/><stop offset="57.69%" stop-color="#bdff42"/><stop offset="60.58%" stop-color="#75ff8a"/><stop offset="61.54%" stop-color="#6dff92"/><stop offset="62.5%" stop-color="#77ff88"/><stop offset="65.38%" stop-color="#cdff32"/><stop offset="66.35%" stop-color="#d8ff27"/><stop offset="67.31%" stop-color="#f0ff0f"/><stop offset="68.27%" stop-color="#ffd000"/><stop offset="69.23%" stop-color="#ff8300"/><stop offset="70.19%" stop-color="#ff4400"/><stop offset="71.15%" stop-color="#ff2c00"/><stop offset="72.12%" stop-color="#ff4000"/><stop offset="75%" stop-color="#ffe700"/><stop offset="75.96%" stop-color="#fffb00"/><stop offset="76.92%" stop-color="#feff01"/><stop offset="79.81%" stop-color="#e2ff1d"/><stop offset="81.73%" stop-color="#e5ff1a"/><stop offset="83.65%" stop-color="#f5ff0a"/><stop offset="84.62%" stop-color="#fff600"/><stop offset="85.58%" stop-color="#ffd500"/><stop offset="86.54%" stop-color="#ffa700"/><stop offset="88.46%" stop-color="#ff2f00"/><stop offset="89.42%" stop-color="#fa0000"/><stop offset="90.38%" stop-color="#de0000"/><stop offset="91.35%" stop-color="#e10000"/><stop offset="92.31%" stop-color="#ff0400"/><stop offset="95.19%" stop-color="#ffb100"/><stop offset="96.15%" stop-color="#fcff03"/><stop offset="97.12%" stop-color="#0005ff"/><stop offset="100%" stop-color="#000eff"/></linearGradient>
<linearGradient id="g25" gradientUnits="userSpaceOnUse" x1="0" y1="46.5" x2="0" y2="98.5"><stop offset="0%" stop-color="#0050ff"/><stop offset="0.96%" stop-color="#003cff"/><stop offset="2.88%" stop-color="#0002ff"/><stop offset="4.81%" stop-color="#0000d1"/><stop offset="5.77%" stop-color="#0000cb"/><stop offset="6.73%" stop-color="#0000d3"/><stop offset="8.65%" stop-color="#0000fc"/><stop offset="9.62%" stop-color="#0005ff"/><stop offset="10.58%" stop-color="#0014ff"/><stop offset="11.54%" stop-color="#003dff"/><stop offset="13.46%" stop-color="#00adff"/><stop offset="14.42%" stop-color="#00d6ff"/><stop offset="15.38%" stop-color="#00e5ff"/><stop offset="16.35%" stop-color="#00ddff"/><stop offset="19.23%" stop-color="#0093ff"/><stop offset="24.04%" stop-color="#005eff"/><stop offset="25%" stop-color="#0071ff"/><stop offset="26.92%" stop-color="#00ceff"/><stop offset="28.85%" stop-color="#00f2ff"/><stop offset="29.81%" stop-color="#21ffde"/><stop offset="31.73%" stop-color="#94ff6b"/><stop offset="32.69%" stop-color="#b7ff48"/><stop offset="33.65%" stop-color="#bbff44"/><stop offset="34.62%" stop-color="#a3ff5c"/><stop offset="36.54%" stop-color="#5affa5"/><stop offset="38.46%" stop-color="#40ffbf"/><stop offset="40.38%" stop-color="#07fff8"/><stop offset="41.35%" stop-color="#00faff"/><stop offset="42.31%" stop-color="#06fff9"/><stop offset="46.15%" stop-color="#9bff64"/><stop offset="48.08%" stop-color="#baff45"/><stop offset="49.04%" stop-color="#efff10"/><stop offset="50%" stop-color="#ffcf00"/><stop offset="50.96%" stop-color="#ff9a00"/><stop offset="51.92%" stop-color="#ff8600"/><stop offset="52.88%" stop-color="#ff9a00"/><stop offset="53.85%" stop-color="#ffcf00"/><stop offset="54.81%" stop-color="#efff10"/><stop offset="55.77%" stop-color="#baff45"/><stop offset="56.73%" stop-color="#a6ff59"/><stop offset="57.69%" stop-color="#9eff61"/><stop offset="60.58%" stop-color="#5cffa3"/><stop offset="61.54%" stop-color="#54ffab"/><stop offset="62.5%" stop-color="#5dffa2"/><stop offset="65.38%" stop-color="#a9ff56"/><stop offset="67.31%" stop-color="#c6ff39"/><stop offset="68.27%" stop-color="#fbff04"/><stop offset="70.19%" stop-color="#ff8e00"/><stop offset="71.15%" stop-color="#ff7a00"/><stop offset="72.12%" stop-color="#ff8900"/><stop offset="74.04%" stop-color="#ffe200"/><stop offset="75%" stop-color="#f4ff0b"/><stop offset="75.96%" stop-color="#e5ff1a"/><stop offset="79.81%" stop-color="#d7ff28"/><stop offset="82.69%" stop-color="#deff21"/><stop offset="84.62%" stop-color="#f8ff07"/><stop offset="85.58%" stop-color="#ffea00"/><stop offset="86.54%" stop-color="#ffc200"/><stop offset="89.42%" stop-color="#ff2f00"/><stop offset="90.38%" stop-color="#ff1600"/><stop offset="91.35%" stop-color="#ff1900"/><stop offset="92.31%" stop-color="#ff3600"/><stop offset="94.23%" stop-color="#ffa000"/><stop offset="95.19%" stop-color="#ffff00"/><stop offset="96.15%" stop-color="#0000fa"/><stop offset="100%" stop-color="#000eff"/></linearGradient>
<linearGradient id="g26" gradientUnits="userSpaceOnUse" x1="0" y1="46.5" x2="0" y2="98.5"><stop offset="0%" stop-color="#0050ff"/><stop offset="0.96%" stop-color="#003cff"/><stop offset="2.88%" stop-color="#0001ff"/><stop offset="4.81%" stop-color="#0000d0"/><stop offset="5.77%" stop-color="#0000c9"/><stop offset="6.73%" stop-color="#0000d2"/><stop offset="8.65%" stop-color="#0000fb"/><stop offset="9.62%" stop-color="#0005ff"/><stop offset="10.58%" stop-color="#0014ff"/><stop offset="11.54%" stop-color="#003dff"/><stop offset="13.46%" stop-color="#00adff"/><stop offset="14.42%" stop-color="#00d6ff"/><stop offset="15.38%" stop-color="#00e5ff"/><stop offset="16.35%" stop-color="#00dcff"/><stop offset="19.23%" stop-color="#008aff"/><stop offset="21.15%" stop-color="#0073ff"/><stop offset="23.08%" stop-color="#0037ff"/><stop offset="24.04%" stop-color="#002bff"/><stop offset="25%" stop-color="#0043ff"/><stop offset="26.92%" stop-color="#00bbff"/><stop offset="28.85%" stop-color="#00e3ff"/><stop offset="29.81%" stop-color="#0bfff4"/><stop offset="31.73%" stop-color="#71ff8e"/><stop offset="32.69%" stop-color="#90ff6f"/><stop offset="33.65%" stop-color="#93ff6c"/><stop offset="34.62%" stop-color="#7fff80"/><stop offset="36.54%" stop-color="#41ffbe"/><stop offset="38.46%" stop-color="#25ffda"/><stop offset="39.42%" stop-color="#00feff"/><stop offset="40.38%" stop-color="#00d7ff"/><stop offset="41.35%" stop-color="#00c7ff"/><stop offset="42.31%" stop-color="#00d3ff"/><stop offset="43.27%" stop-color="#00f4ff"/><stop offset="44.23%" stop-color="#21ffde"/><stop offset="46.15%" stop-color="#6eff91"/><stop offset="48.08%" stop-color="#8aff75"/><stop offset="50%" stop-color="#e2ff1d"/><stop offset="50.96%" stop-color="#fff400"/><stop offset="51.92%" stop-color="#ffe500"/><stop offset="52.88%" stop-color="#fff400"/><stop offset="53.85%" stop-color="#e2ff1d"/><stop offset="55.77%" stop-color="#8aff75"/><stop offset="57.69%" stop-color="#73ff8c"/><stop offset="60.58%" stop-color="#37ffc8"/><stop offset="61.54%" stop-color="#30ffcf"/><stop offset="62.5%" stop-color="#38ffc7"/><stop offset="65.38%" stop-color="#78ff87"/><stop offset="67.31%" stop-color="#8fff70"/><stop offset="69.23%" stop-color="#e8ff17"/><stop offset="70.19%" stop-color="#ffef00"/><stop offset="71.15%" stop-color="#ffdf00"/><stop offset="72.12%" stop-color="#ffe900"/><stop offset="73.08%" stop-color="#fdff02"/><stop offset="75%" stop-color="#c6ff39"/><stop offset="75.96%" stop-color="#bdff42"/><stop offset="82.69%" stop-color="#ccff33"/><stop offset="84.62%" stop-color="#e0ff1f"/><stop offset="85.58%" stop-color="#f6ff09"/><stop offset="86.54%" stop-color="#ffe900"/><stop offset="89.42%" stop-color="#ff7600"/><stop offset="90.38%" stop-color="#ff6300"/><stop offset="91.35%" stop-color="#ff7000"/><stop offset="92.31%" stop-color="#ff9700"/><stop offset="93.27%" stop-color="#ffd200"/><stop offset="94.23%" stop-color="#dfff20"/><stop offset="95.19%" stop-color="#0000f0"/><stop offset="97.12%" stop-color="#0005ff"/><stop offset="100%" stop-color="#000eff"/></linearGradient>
<linearGradient id="g27" gradientUnits="userSpaceOnUse" x1="0" y1="46.5" x2="0" y2="98.5"><stop offset="0%" stop-color="#0050ff"/><stop offset="0.96%" stop-color="#003cff"/><stop offset="2.88%" stop-color="#0000fe"/><stop offset="4.81%" stop-color="#0000ce"/><stop offset="5.77%" stop-color="#0000c7"/><stop offset="6.73%" stop-color="#0000d0"/><stop offset="8.65%" stop-color="#0000fb"/><stop offset="9.62%" stop-color="#0005ff"/><stop offset="10.58%" stop-color="#0014ff"/><stop offset="11.54%" stop-color="#003dff"/><stop offset="13.46%" stop-color="#00adff"/><stop offset="14.42%" stop-color="#00d6ff"/><stop offset="15.38%" stop-color="#00e5ff"/><stop offset="16.35%" stop-color="#00dbff"/><stop offset="19.23%" stop-color="#0080ff"/><stop offset="21.15%" stop-color="#0063ff"/><stop offset="23.08%" stop-color="#000dff"/><stop offset="24.04%" stop-color="#0000fa"/><stop offset="25%" stop-color="#0019ff"/><stop offset="26.92%" stop-color="#00a9ff"/><stop offset="27.88%" stop-color="#00c7ff"/><stop offset="28.85%" stop-color="#00d3ff"/><stop offset="29.81%" stop-color="#00f5ff"/><stop offset="30.77%" stop-color="#23ffdc"/><stop offset="31.73%" stop-color="#4cffb3"/><stop offset="32.69%" stop-color="#67ff98"/><stop offset="33.65%" stop-color="#69ff96"/><stop offset="34.62%" stop-color="#58ffa7"/><stop offset="36.54%" stop-color="#23ffdc"/><stop offset="38.46%" stop-color="#06fff9"/><stop offset="40.38%" stop-color="#00a7ff"/><stop offset="41.35%" stop-color="#0094ff"/><stop offset="42.31%" stop-color="#00a0ff"/><stop offset="43.27%" stop-color="#00c2ff"/><stop offset="44.23%" stop-color="#00f0ff"/><stop offset="45.19%" stop-color="#1fffe0"/><stop offset="46.15%" stop-color="#40ffbf"/><stop offset="48.08%" stop-color="#57ffa8"/><stop offset="50.96%" stop-color="#b2ff4d"/><stop offset="51.92%" stop-color="#bdff42"/><stop offset="52.88%" stop-color="#b2ff4d"/><stop offset="55.77%" stop-color="#57ffa8"/><stop offset="57.69%" stop-color="#46ffb9"/><stop offset="60.58%" stop-color="#0cfff3"/><stop offset="61.54%" stop-color="#05fffa"/><stop offset="62.5%" stop-color="#0cfff3"/><stop offset="65.38%" stop-color="#46ffb9"/><stop offset="67.31%" stop-color="#57ffa8"/><stop offset="70.19%" stop-color="#b2ff4d"/><stop offset="71.15%" stop-color="#bdff42"/><stop offset="75.96%" stop-color="#94ff6b"/><stop offset="78.85%" stop-color="#aeff51"/><stop offset="84.62%" stop-color="#c0ff3f"/><stop offset="88.46%" stop-color="#fff800"/><stop offset="89.42%" stop-color="#ffe900"/><stop offset="90.38%" stop-color="#ffe800"/><stop offset="91.35%" stop-color="#fff900"/><stop offset="92.31%" stop-color="#e0ff1f"/><stop offset="93.27%" stop-color="#0000e6"/><stop offset="97.12%" stop-color="#0005ff"/><stop offset="100%" stop-color="#000eff"/></linearGradient>
<linearGradient id="g28" gradientUnits="userSpaceOnUse" x1="0" y1="46.5" x2="0" y2="98.5"><stop offset="0%" stop-color="#004fff"/><stop offset="0.96%" stop-color="#003bff"/><stop offset="2.88%" stop-color="#0000fc"/><stop offset="4.81%" stop-color="#0000cb"/><stop offset="5.77%" stop-color="#0000c3"/><stop offset="6.73%" stop-color="#0000cd"/><stop offset="8.65%" stop-color="#0000fb"/><stop offset="9.62%" stop-color="#0005ff"/><stop offset="10.58%" stop-color="#0014ff"/><stop offset="11.54%" stop-color="#003dff"/><stop offset="13.46%" stop-color="#00adff"/><stop offset="14.42%" stop-color="#00d6ff"/><stop offset="15.38%" stop-color="#00e5ff"/><stop offset="16.35%" stop-color="#00d9ff"/><stop offset="19.23%" stop-color="#0072ff"/><stop offset="21.15%" stop-color="#004eff"/><stop offset="22.12%" stop-color="#0016ff"/><stop offset="23.08%" stop-color="#0000dd"/><stop offset="24.04%" stop-color="#0000c5"/><stop offset="25%" stop-color="#0000e8"/><stop offset="25.96%" stop-color="#003eff"/><stop offset="26.92%" stop-color="#0093ff"/><stop offset="27.88%" stop-color="#00b6ff"/><stop offset="28.85%" stop-color="#00bfff"/><stop offset="30.77%" stop-color="#00f8ff"/><stop offset="31.73%" stop-color="#17ffe8"/><stop offset="32.69%" stop-color="#2affd5"/><stop offset="33.65%" stop-color="#2cffd3"/><stop offset="35.58%" stop-color="#05fffa"/><stop offset="37.5%" stop-color="#00e6ff"/><stop offset="38.46%" stop-color="#00d0ff"/><stop offset="40.38%" stop-color="#0063ff"/><stop offset="41.35%" stop-color="#004dff"/><stop offset="42.31%" stop-color="#0059ff"/><stop offset="43.27%" stop-color="#007bff"/><stop offset="45.19%" stop-color="#00d8ff"/><stop offset="46.15%" stop-color="#00faff"/><stop offset="47.12%" stop-color="#07fff8"/><stop offset="48.08%" stop-color="#0efff1"/><stop offset="50.96%" stop-color="#43ffbc"/><stop offset="51.92%" stop-color="#49ffb6"/><stop offset="52.88%" stop-color="#43ffbc"/><stop offset="55.77%" stop-color="#0efff1"/><stop offset="57.69%" stop-color="#00ffff"/><stop offset="60.58%" stop-color="#00bdff"/><stop offset="61.54%" stop-color="#00b5ff"/><stop offset="62.5%" stop-color="#00bcff"/><stop offset="65.38%" stop-color="#00fdff"/><stop offset="67.31%" stop-color="#0cfff3"/><stop offset="70.19%" stop-color="#41ffbe"/><stop offset="73.08%" stop-color="#4effb1"/><stop offset="74.04%" stop-color="#1fffe0"/><stop offset="76.92%" stop-color="#2cffd3"/><stop offset="78.85%" stop-color="#4cffb3"/><stop offset="79.81%" stop-color="#51ffae"/><stop offset="86.54%" stop-color="#41ffbe"/><stop offset="87.5%" stop-color="#0000bd"/><stop offset="91.35%" stop-color="#0000e0"/><stop offset="94.23%" stop-color="#0000e8"/><stop offset="97.12%" stop-color="#0005ff"/><stop offset="100%" stop-color="#000eff"/></linearGradient>
<linearGradient id="g29" gradientUnits="userSpaceOnUse" x1="0" y1="46.5" x2="0" y2="98.5"><stop offset="0%" stop-color="#004fff"/><stop offset="2.88%" stop-color="#0000fc"/><stop offset="4.81%" stop-color="#0000c9"/><stop offset="5.77%" stop-color="#0000c2"/><stop offset="6.73%" stop-color="#0000cc"/><stop offset="8.65%" stop-color="#0000fa"/><stop offset="9.62%" stop-color="#0005ff"/><stop offset="10.58%" stop-color="#0014ff"/><stop offset="11.54%" stop-color="#003dff"/><stop offset="13.46%" stop-color="#00adff"/><stop offset="14.42%" stop-color="#00d6ff"/><stop offset="15.38%" stop-color="#00e5ff"/><stop offset="16.35%" stop-color="#00d9ff"/><stop offset="19.23%" stop-color="#006fff"/><stop offset="21.15%" stop-color="#004aff"/><stop offset="22.12%" stop-color="#0011ff"/><stop offset="23.08%" stop-color="#0000d6"/><stop offset="24.04%" stop-color="#0000be"/><stop offset="25%" stop-color="#0000e2"/><stop offset="25.96%" stop-color="#0039ff"/><stop offset="26.92%" stop-color="#0090ff"/><stop offset="27.88%" stop-color="#00b3ff"/><stop offset="28.85%" stop-color="#00bbff"/><stop offset="30.77%" stop-color="#00eeff"/><stop offset="31.73%" stop-color="#0afff5"/><stop offset="32.69%" stop-color="#1bffe4"/><stop offset="33.65%" stop-color="#1dffe2"/><stop offset="35.58%" stop-color="#00f5ff"/><stop offset="36.54%" stop-color="#00dfff"/><stop offset="37.5%" stop-color="#00d7ff"/><stop offset="38.46%" stop-color="#00c0ff"/><stop offset="40.38%" stop-color="#0053ff"/><stop offset="41.35%" stop-color="#003dff"/><stop offset="42.31%" stop-color="#0049ff"/><stop offset="43.27%" stop-color="#006bff"/><stop offset="45.19%" stop-color="#00c7ff"/><stop offset="46.15%" stop-color="#00e9ff"/><stop offset="48.08%" stop-color="#00fbff"/><stop offset="50.96%" stop-color="#2effd1"/><stop offset="51.92%" stop-color="#34ffcb"/><stop offset="52.88%" stop-color="#2effd1"/><stop offset="55.77%" stop-color="#00fbff"/><stop offset="56.73%" stop-color="#00f5ff"/><stop offset="57.69%" stop-color="#00edff"/><stop offset="60.58%" stop-color="#00a5ff"/><stop offset="61.54%" stop-color="#009cff"/><stop offset="62.5%" stop-color="#00a5ff"/><stop offset="65.38%" stop-color="#00ecff"/><stop offset="67.31%" stop-color="#00faff"/><stop offset="70.19%" stop-color="#2dffd2"/><stop offset="73.08%" stop-color="#3dffc2"/><stop offset="74.04%" stop-color="#00edff"/><stop offset="76.92%" stop-color="#00fcff"/><stop offset="78.85%" stop-color="#1dffe2"/><stop offset="80.77%" stop-color="#1effe1"/><stop offset="81.73%" stop-color="#0000a7"/><stop offset="85.58%" stop-color="#0000ae"/><stop offset="91.35%" stop-color="#0000e0"/><stop offset="94.23%" stop-color="#0000e8"/><stop offset="97.12%" stop-color="#0005ff"/><stop offset="100%" stop-color="#000eff"/></linearGradient>
<linearGradient id="g30" gradientUnits="userSpaceOnUse" x1="0" y1="46.5" x2="0" y2="98.5"><stop offset="0%" stop-color="#004fff"/><stop offset="2.88%" stop-color="#0000fb"/><stop offset="4.81%" stop-color="#0000c9"/><stop offset="5.77%" stop-color="#0000c2"/><stop offset="6.73%" stop-color="#0000cc"/><stop offset="8.65%" stop-color="#0000fa"/><stop offset="9.62%" stop-color="#0005ff"/><stop offset="10.58%" stop-color="#0014ff"/><stop offset="11.54%" stop-color="#003dff"/><stop offset="13.46%" stop-color="#00adff"/><stop offset="14.42%" stop-color="#00d6ff"/><stop offset="15.38%" stop-color="#00e5ff"/><stop offset="16.35%" stop-color="#00d9ff"/><stop offset="19.23%" stop-color="#006eff"/><stop offset="21.15%" stop-color="#0049ff"/><stop offset="22.12%" stop-color="#000fff"/><stop offset="23.08%" stop-color="#0000d5"/><stop offset="24.04%" stop-color="#0000bd"/><stop offset="25%" stop-color="#0000e1"/><stop offset="25.96%" stop-color="#0038ff"/><stop offset="26.92%" stop-color="#008fff"/><stop offset="27.88%" stop-color="#00b2ff"/><stop offset="28.85%" stop-color="#00baff"/><stop offset="31.73%" stop-color="#06fff9"/><stop offset="32.69%" stop-color="#17ffe8"/><stop offset="33.65%" stop-color="#18ffe7"/><stop offset="34.62%" stop-color="#09fff6"/><stop offset="36.54%" stop-color="#00daff"/><stop offset="37.5%" stop-color="#00d1ff"/><stop offset="38.46%" stop-color="#00bbff"/><stop offset="40.38%" stop-color="#004fff"/><stop offset="41.35%" stop-color="#0038ff"/><stop offset="42.31%" stop-color="#0044ff"/><stop offset="43.27%" stop-color="#0066ff"/><stop offset="45.19%" stop-color="#00c2ff"/><stop offset="46.15%" stop-color="#00e3ff"/><stop offset="49.04%" stop-color="#06fff9"/><stop offset="50.96%" stop-color="#28ffd7"/><stop offset="51.92%" stop-color="#2effd1"/><stop offset="52.88%" stop-color="#28ffd7"/><stop offset="54.81%" stop-color="#06fff9"/><stop offset="56.73%" stop-color="#00f0ff"/><stop offset="57.69%" stop-color="#00e7ff"/><stop offset="60.58%" stop-color="#009dff"/><stop offset="61.54%" stop-color="#0094ff"/><stop offset="62.5%" stop-color="#009dff"/><stop offset="65.38%" stop-color="#00e7ff"/><stop offset="68.27%" stop-color="#06fff9"/><stop offset="70.19%" stop-color="#28ffd7"/><stop offset="73.08%" stop-color="#38ffc7"/><stop offset="74.04%" stop-color="#000095"/><stop offset="84.62%" stop-color="#0000aa"/><stop offset="91.35%" stop-color="#0000e0"/><stop offset="94.23%" stop-color="#0000e8"/><stop offset="97.12%" stop-color="#0005ff"/><stop offset="100%" stop-color="#000eff"/></linearGradient>
<linearGradient id="g31" gradientUnits="userSpaceOnUse" x1="0" y1="46.5" x2="0" y2="98.5"><stop offset="0%" stop-color="#0050ff"/><stop offset="0.96%" stop-color="#003bff"/><stop offset="2.88%" stop-color="#0000fd"/><stop offset="4.81%" stop-color="#0000cc"/><stop offset="5.77%" stop-color="#0000c5"/><stop offset="6.73%" stop-color="#0000ce"/><stop offset="8.65%" stop-color="#0000fb"/><stop offset="9.62%" stop-color="#0005ff"/><stop offset="10.58%" stop-color="#0014ff"/><stop offset="11.54%" stop-color="#003dff"/><stop offset="13.46%" stop-color="#00adff"/><stop offset="14.42%" stop-color="#00d6ff"/><stop offset="15.38%" stop-color="#00e5ff"/><stop offset="16.35%" stop-color="#00daff"/><stop offset="19.23%" stop-color="#0078ff"/><stop offset="21.15%" stop-color="#0057ff"/><stop offset="22.12%" stop-color="#0022ff"/><stop offset="23.08%" stop-color="#0000ed"/><stop offset="24.04%" stop-color="#0000d8"/><stop offset="25%" stop-color="#0000f9"/><stop offset="26.92%" stop-color="#009bff"/><stop offset="27.88%" stop-color="#00bdff"/><stop offset="28.85%" stop-color="#00c7ff"/><stop offset="30.77%" stop-color="#0afff5"/><stop offset="31.73%" stop-color="#2dffd2"/><stop offset="32.69%" stop-color="#43ffbc"/><stop offset="33.65%" stop-color="#46ffb9"/><stop offset="36.54%" stop-color="#07fff8"/><stop offset="37.5%" stop-color="#00fdff"/><stop offset="38.46%" stop-color="#00e8ff"/><stop offset="40.38%" stop-color="#007fff"/><stop offset="41.35%" stop-color="#006aff"/><stop offset="42.31%" stop-color="#0076ff"/><stop offset="43.27%" stop-color="#0098ff"/><stop offset="45.19%" stop-color="#00f5ff"/><stop offset="46.15%" stop-color="#18ffe7"/><stop offset="48.08%" stop-color="#2cffd3"/><stop offset="50.96%" stop-color="#6dff92"/><stop offset="51.92%" stop-color="#75ff8a"/><stop offset="52.88%" stop-color="#6dff92"/><stop offset="55.77%" stop-color="#2cffd3"/><stop offset="57.69%" stop-color="#1dffe2"/><stop offset="58.65%" stop-color="#0bfff4"/><stop offset="59.62%" stop-color="#00f3ff"/><stop offset="61.54%" stop-color="#00d9ff"/><stop offset="63.46%" stop-color="#00f2ff"/><stop offset="64.42%" stop-color="#09fff6"/><stop offset="65.38%" stop-color="#1bffe4"/><stop offset="67.31%" stop-color="#2affd5"/><stop offset="70.19%" stop-color="#6bff94"/><stop offset="71.15%" stop-color="#73ff8c"/><stop offset="73.08%" stop-color="#73ff8c"/><stop offset="74.04%" stop-color="#60ff9f"/><stop offset="75.96%" stop-color="#5effa1"/><stop offset="79.81%" stop-color="#85ff7a"/><stop offset="84.62%" stop-color="#7fff80"/><stop offset="88.46%" stop-color="#9cff63"/><stop offset="90.38%" stop-color="#99ff66"/><stop offset="91.35%" stop-color="#0000e0"/><stop offset="94.23%" stop-color="#0000e8"/><stop offset="97.12%" stop-color="#0005ff"/><stop offset="100%" stop-color="#000eff"/></linearGradient>
<linearGradient id="cb32" x1="0" y1="0" x2="0" y2="1"><stop offset="0" stop-color="#800000"/><stop offset="0.12" stop-color="#ff0000"/><stop offset="0.38" stop-color="#ffff00"/><stop offset="0.62" stop-color="#00ffff"/><stop offset="0.88" stop-color="#0000ff"/><stop offset="1" stop-color="#000080"/></linearGradient>
<linearGradient id="g33" gradientUnits="userSpaceOnUse" x1="0" y1="177.8" x2="0" y2="290.5"><stop offset="0%" stop-color="#000099"/><stop offset="19.52%" stop-color="#000099"/><stop offset="21.74%" stop-color="#0000db"/><stop offset="24.84%" stop-color="#0000f0"/><stop offset="27.06%" stop-color="#0000db"/><stop offset="28.39%" stop-color="#0000b5"/><stop offset="28.84%" stop-color="#0000b4"/><stop offset="30.17%" stop-color="#0000db"/><stop offset="33.27%" stop-color="#0000ef"/><stop offset="35.49%" stop-color="#0000da"/><stop offset="36.82%" stop-color="#0000b3"/><stop offset="37.27%" stop-color="#0000b8"/><stop offset="38.15%" stop-color="#0000e0"/><stop offset="40.82%" stop-color="#0003ff"/><stop offset="42.15%" stop-color="#0000ff"/><stop offset="45.7%" stop-color="#0000e6"/><stop offset="46.58%" stop-color="#0000f2"/><stop offset="47.03%" stop-color="#0032ff"/><stop offset="47.47%" stop-color="#007dff"/><stop offset="48.36%" stop-color="#00b6ff"/><stop offset="48.8%" stop-color="#00ecff"/><stop offset="49.25%" stop-color="#15ffea"/><stop offset="49.69%" stop-color="#17ffe8"/><stop offset="50.13%" stop-color="#0afff5"/><stop offset="50.58%" stop-color="#00f3ff"/><stop offset="51.91%" stop-color="#00afff"/><stop offset="52.35%" stop-color="#00a8ff"/><stop offset="52.8%" stop-color="#00b0ff"/><stop offset="53.24%" stop-color="#000094"/><stop offset="70.54%" stop-color="#0000b7"/><stop offset="99.82%" stop-color="#0000b8"/></linearGradient>
<linearGradient id="g34" gradientUnits="userSpaceOnUse" x1="0" y1="202" x2="0" y2="260"><stop offset="0%" stop-color="#0000c7"/><stop offset="0.86%" stop-color="#0000fc"/><stop offset="1.72%" stop-color="#0019ff"/><stop offset="6.9%" stop-color="#004fff"/><stop offset="7.76%" stop-color="#004eff"/><stop offset="10.34%" stop-color="#0027ff"/><stop offset="12.07%" stop-color="#0018ff"/><stop offset="12.93%" stop-color="#0000f9"/><stop offset="13.79%" stop-color="#0000d0"/><stop offset="14.66%" stop-color="#0000b7"/><stop offset="15.52%" stop-color="#0000bf"/><stop offset="17.24%" stop-color="#000bff"/><stop offset="23.28%" stop-color="#004dff"/><stop offset="28.45%" stop-color="#0015ff"/><stop offset="29.31%" stop-color="#0000ee"/><stop offset="30.17%" stop-color="#0000c4"/><stop offset="31.03%" stop-color="#0000b6"/><stop offset="31.9%" stop-color="#0000cc"/><stop offset="32.76%" stop-color="#0000f9"/><stop offset="33.62%" stop-color="#001cff"/><stop offset="35.34%" stop-color="#0028ff"/><stop offset="37.93%" stop-color="#004dff"/><stop offset="39.66%" stop-color="#0058ff"/><stop offset="43.1%" stop-color="#0031ff"/><stop offset="44.83%" stop-color="#0027ff"/><stop offset="45.69%" stop-color="#0015ff"/><stop offset="46.55%" stop-color="#0000fa"/><stop offset="48.28%" stop-color="#0000dc"/><stop offset="49.14%" stop-color="#0000fe"/><stop offset="50.86%" stop-color="#0091ff"/><stop offset="51.72%" stop-color="#00a2ff"/><stop offset="52.59%" stop-color="#00c9ff"/><stop offset="53.45%" stop-color="#00fdff"/><stop offset="54.31%" stop-color="#15ffea"/><stop offset="56.03%" stop-color="#00feff"/><stop offset="58.62%" stop-color="#00b7ff"/><stop offset="60.34%" stop-color="#00aaff"/><stop offset="61.21%" stop-color="#00b7ff"/><stop offset="62.07%" stop-color="#00aeff"/><stop offset="62.93%" stop-color="#00b6ff"/><stop offset="64.66%" stop-color="#00deff"/><stop offset="66.38%" stop-color="#00efff"/><stop offset="67.24%" stop-color="#0cfff3"/><stop offset="68.1%" stop-color="#28ffd7"/><stop offset="70.69%" stop-color="#42ffbd"/><stop offset="73.28%" stop-color="#72ff8d"/><stop offset="75%" stop-color="#7dff82"/><stop offset="76.72%" stop-color="#5cffa3"/><stop offset="79.31%" stop-color="#0efff1"/><stop offset="80.17%" stop-color="#0000a8"/><stop offset="100%" stop-color="#0000b8"/></linearGradient>
<linearGradient id="g35" gradientUnits="userSpaceOnUse" x1="0" y1="202" x2="0" y2="260"><stop offset="0%" stop-color="#0000bf"/><stop offset="0.86%" stop-color="#0000fc"/><stop offset="1.72%" stop-color="#003bff"/><stop offset="3.45%" stop-color="#004bff"/><stop offset="6.03%" stop-color="#0080ff"/><stop offset="7.76%" stop-color="#008eff"/><stop offset="8.62%" stop-color="#0084ff"/><stop offset="11.21%" stop-color="#004cff"/><stop offset="12.07%" stop-color="#0046ff"/><stop offset="12.93%" stop-color="#0028ff"/><stop offset="13.79%" stop-color="#0000ef"/><stop offset="14.66%" stop-color="#0000c1"/><stop offset="15.52%" stop-color="#0000bc"/><stop offset="16.38%" stop-color="#0000e3"/><stop offset="17.24%" stop-color="#001cff"/><stop offset="18.1%" stop-color="#003cff"/><stop offset="19.83%" stop-color="#004cff"/><stop offset="22.41%" stop-color="#007fff"/><stop offset="23.28%" stop-color="#0087ff"/><stop offset="24.14%" stop-color="#0086ff"/><stop offset="26.72%" stop-color="#0057ff"/><stop offset="28.45%" stop-color="#0045ff"/><stop offset="29.31%" stop-color="#001bff"/><stop offset="30.17%" stop-color="#0000dd"/><stop offset="31.03%" stop-color="#0000ba"/><stop offset="31.9%" stop-color="#0000c8"/><stop offset="32.76%" stop-color="#0000fc"/><stop offset="33.62%" stop-color="#0031ff"/><stop offset="38.79%" stop-color="#0081ff"/><stop offset="39.66%" stop-color="#0087ff"/><stop offset="40.52%" stop-color="#0084ff"/><stop offset="43.1%" stop-color="#0059ff"/><stop offset="44.83%" stop-color="#004aff"/><stop offset="45.69%" stop-color="#0037ff"/><stop offset="46.55%" stop-color="#0011ff"/><stop offset="47.41%" stop-color="#0000e4"/><stop offset="48.28%" stop-color="#0000d6"/><stop offset="49.14%" stop-color="#0000fa"/><stop offset="50.86%" stop-color="#0091ff"/><stop offset="51.72%" stop-color="#00a2ff"/><stop offset="52.59%" stop-color="#00c8ff"/><stop offset="53.45%" stop-color="#00fbff"/><stop offset="54.31%" stop-color="#12ffed"/><stop offset="56.03%" stop-color="#00fbff"/><stop offset="58.62%" stop-color="#00b7ff"/><stop offset="60.34%" stop-color="#00aaff"/><stop offset="62.93%" stop-color="#00c6ff"/><stop offset="64.66%" stop-color="#00f1ff"/><stop offset="65.52%" stop-color="#00fbff"/><stop offset="66.38%" stop-color="#08fff7"/><stop offset="68.1%" stop-color="#46ffb9"/><stop offset="70.69%" stop-color="#68ff97"/><stop offset="73.28%" stop-color="#a1ff5e"/><stop offset="75%" stop-color="#afff50"/><stop offset="75.86%" stop-color="#a5ff5a"/><stop offset="79.31%" stop-color="#3bffc4"/><stop offset="81.9%" stop-color="#01fffe"/><stop offset="83.62%" stop-color="#00dcff"/><stop offset="84.48%" stop-color="#00d6ff"/><stop offset="85.34%" stop-color="#0000b2"/><stop offset="100%" stop-color="#0000b8"/></linearGradient>
<linearGradient id="g36" gradientUnits="userSpaceOnUse" x1="0" y1="202" x2="0" y2="260"><stop offset="0%" stop-color="#0000bd"/><stop offset="0.86%" stop-color="#0000ef"/><stop offset="1.72%" stop-color="#0050ff"/><stop offset="3.45%" stop-color="#006fff"/><stop offset="6.03%" stop-color="#00b7ff"/><stop offset="7.76%" stop-color="#00d1ff"/><stop offset="8.62%" stop-color="#00caff"/><stop offset="11.21%" stop-color="#0080ff"/><stop offset="12.07%" stop-color="#0075ff"/><stop offset="12.93%" stop-color="#005dff"/><stop offset="13.79%" stop-color="#0019ff"/><stop offset="14.66%" stop-color="#0000d5"/><stop offset="15.52%" stop-color="#0000bd"/><stop offset="16.38%" stop-color="#0000e0"/><stop offset="17.24%" stop-color="#0025ff"/><stop offset="18.1%" stop-color="#0059ff"/><stop offset="19.83%" stop-color="#006fff"/><stop offset="22.41%" stop-color="#00b5ff"/><stop offset="23.28%" stop-color="#00c4ff"/><stop offset="24.14%" stop-color="#00c6ff"/><stop offset="25%" stop-color="#00bbff"/><stop offset="27.59%" stop-color="#007bff"/><stop offset="28.45%" stop-color="#0075ff"/><stop offset="29.31%" stop-color="#004eff"/><stop offset="30.17%" stop-color="#0002ff"/><stop offset="31.03%" stop-color="#0000c5"/><stop offset="31.9%" stop-color="#0000c4"/><stop offset="32.76%" stop-color="#0000f9"/><stop offset="33.62%" stop-color="#003eff"/><stop offset="34.48%" stop-color="#0061ff"/><stop offset="36.21%" stop-color="#0071ff"/><stop offset="38.79%" stop-color="#00a8ff"/><stop offset="39.66%" stop-color="#00b1ff"/><stop offset="41.38%" stop-color="#00a7ff"/><stop offset="43.97%" stop-color="#0072ff"/><stop offset="45.69%" stop-color="#005cff"/><stop offset="46.55%" stop-color="#002fff"/><stop offset="47.41%" stop-color="#0000e4"/><stop offset="48.28%" stop-color="#0000d1"/><stop offset="49.14%" stop-color="#0000f6"/><stop offset="50.86%" stop-color="#0090ff"/><stop offset="51.72%" stop-color="#00a2ff"/><stop offset="52.59%" stop-color="#00c7ff"/><stop offset="53.45%" stop-color="#00f8ff"/><stop offset="54.31%" stop-color="#0ffff0"/><stop offset="56.03%" stop-color="#00f9ff"/><stop offset="58.62%" stop-color="#00b6ff"/><stop offset="60.34%" stop-color="#00aaff"/><stop offset="62.93%" stop-color="#00c6ff"/><stop offset="64.66%" stop-color="#00f1ff"/><stop offset="65.52%" stop-color="#00fbff"/><stop offset="66.38%" stop-color="#09fff6"/><stop offset="68.1%" stop-color="#47ffb8"/><stop offset="70.69%" stop-color="#74ff8b"/><stop offset="73.28%" stop-color="#c0ff3f"/><stop offset="75%" stop-color="#daff25"/><stop offset="75.86%" stop-color="#d3ff2c"/><stop offset="76.72%" stop-color="#bdff42"/><stop offset="79.31%" stop-color="#6aff95"/><stop offset="82.76%" stop-color="#17ffe8"/><stop offset="84.48%" stop-color="#05fffa"/><stop offset="87.93%" stop-color="#00faff"/><stop offset="88.79%" stop-color="#0000b3"/><stop offset="100%" stop-color="#0000b8"/></linearGradient>
<linearGradient id="g37" gradientUnits="userSpaceOnUse" x1="0" y1="202" x2="0" y2="260"><stop offset="0%" stop-color="#0000bc"/><stop offset="0.86%" stop-color="#0000df"/><stop offset="1.72%" stop-color="#0055ff"/><stop offset="2.59%" stop-color="#0080ff"/><stop offset="3.45%" stop-color="#008cff"/><stop offset="6.03%" stop-color="#00e9ff"/><stop offset="6.9%" stop-color="#05fffa"/><stop offset="7.76%" stop-color="#12ffed"/><stop offset="9.48%" stop-color="#00f7ff"/><stop offset="11.21%" stop-color="#00b5ff"/><stop offset="12.93%" stop-color="#0092ff"/><stop offset="13.79%" stop-color="#0049ff"/><stop offset="14.66%" stop-color="#0000f0"/><stop offset="15.52%" stop-color="#0000c3"/><stop offset="16.38%" stop-color="#0000db"/><stop offset="17.24%" stop-color="#0026ff"/><stop offset="18.1%" stop-color="#006cff"/><stop offset="19.83%" stop-color="#008cff"/><stop offset="23.28%" stop-color="#00fcff"/><stop offset="25%" stop-color="#00f9ff"/><stop offset="27.59%" stop-color="#00aaff"/><stop offset="28.45%" stop-color="#009fff"/><stop offset="29.31%" stop-color="#0081ff"/><stop offset="30.17%" stop-color="#002bff"/><stop offset="31.03%" stop-color="#0000d8"/><stop offset="31.9%" stop-color="#0000c4"/><stop offset="32.76%" stop-color="#0000f4"/><stop offset="33.62%" stop-color="#0042ff"/><stop offset="34.48%" stop-color="#0076ff"/><stop offset="36.21%" stop-color="#0089ff"/><stop offset="38.79%" stop-color="#00c6ff"/><stop offset="40.52%" stop-color="#00d5ff"/><stop offset="41.38%" stop-color="#00ccff"/><stop offset="43.97%" stop-color="#0091ff"/><stop offset="45.69%" stop-color="#007dff"/><stop offset="46.55%" stop-color="#004dff"/><stop offset="47.41%" stop-color="#0000e3"/><stop offset="48.28%" stop-color="#0000cd"/><stop offset="49.14%" stop-color="#0000f2"/><stop offset="50%" stop-color="#0048ff"/><stop offset="50.86%" stop-color="#0090ff"/><stop offset="51.72%" stop-color="#00a2ff"/><stop offset="53.45%" stop-color="#00f5ff"/><stop offset="54.31%" stop-color="#0cfff3"/><stop offset="56.03%" stop-color="#00f6ff"/><stop offset="58.62%" stop-color="#00b6ff"/><stop offset="60.34%" stop-color="#00aaff"/><stop offset="62.93%" stop-color="#00c6ff"/><stop offset="64.66%" stop-color="#00f2ff"/><stop offset="66.38%" stop-color="#0afff5"/><stop offset="68.1%" stop-color="#49ffb6"/><stop offset="70.69%" stop-color="#7dff82"/><stop offset="73.28%" stop-color="#dbff24"/><stop offset="74.14%" stop-color="#f2ff0d"/><stop offset="75%" stop-color="#fcff03"/><stop offset="75.86%" stop-color="#f4ff0b"/><stop offset="76.72%" stop-color="#daff25"/><stop offset="79.31%" stop-color="#77ff88"/><stop offset="82.76%" stop-color="#2fffd0"/><stop offset="83.62%" stop-color="#27ffd8"/><stop offset="86.21%" stop-color="#35ffca"/><stop offset="88.79%" stop-color="#34ffcb"/><stop offset="91.38%" stop-color="#7fff80"/><stop offset="92.24%" stop-color="#0000b5"/><stop offset="100%" stop-color="#0000b8"/></linearGradient>
<linearGradient id="g38" gradientUnits="userSpaceOnUse" x1="0" y1="202" x2="0" y2="260"><stop offset="0%" stop-color="#0000ba"/><stop offset="0.86%" stop-color="#0000d0"/><stop offset="1.72%" stop-color="#004fff"/><stop offset="2.59%" stop-color="#0097ff"/><stop offset="3.45%" stop-color="#00a2ff"/><stop offset="5.17%" stop-color="#00e7ff"/><stop offset="6.03%" stop-color="#12ffed"/><stop offset="6.9%" stop-color="#35ffca"/><stop offset="7.76%" stop-color="#4affb5"/><stop offset="8.62%" stop-color="#4affb5"/><stop offset="9.48%" stop-color="#33ffcc"/><stop offset="10.34%" stop-color="#0efff1"/><stop offset="11.21%" stop-color="#00e6ff"/><stop offset="12.93%" stop-color="#00c1ff"/><stop offset="13.79%" stop-color="#0077ff"/><stop offset="14.66%" stop-color="#0010ff"/><stop offset="15.52%" stop-color="#0000cc"/><stop offset="16.38%" stop-color="#0000d8"/><stop offset="17.24%" stop-color="#0023ff"/><stop offset="18.1%" stop-color="#0076ff"/><stop offset="18.97%" stop-color="#0097ff"/><stop offset="19.83%" stop-color="#00a2ff"/><stop offset="21.55%" stop-color="#00e5ff"/><stop offset="22.41%" stop-color="#0dfff2"/><stop offset="23.28%" stop-color="#2bffd4"/><stop offset="24.14%" stop-color="#37ffc8"/><stop offset="25%" stop-color="#30ffcf"/><stop offset="25.86%" stop-color="#16ffe9"/><stop offset="26.72%" stop-color="#00f2ff"/><stop offset="27.59%" stop-color="#00d3ff"/><stop offset="29.31%" stop-color="#00adff"/><stop offset="30.17%" stop-color="#0054ff"/><stop offset="31.03%" stop-color="#0000ef"/><stop offset="31.9%" stop-color="#0000c8"/><stop offset="32.76%" stop-color="#0000ef"/><stop offset="33.62%" stop-color="#0041ff"/><stop offset="34.48%" stop-color="#0082ff"/><stop offset="36.21%" stop-color="#0098ff"/><stop offset="39.66%" stop-color="#00e9ff"/><stop offset="40.52%" stop-color="#00eeff"/><stop offset="41.38%" stop-color="#00e6ff"/><stop offset="43.97%" stop-color="#00aaff"/><stop offset="45.69%" stop-color="#0096ff"/><stop offset="46.55%" stop-color="#0067ff"/><stop offset="47.41%" stop-color="#0000e3"/><stop offset="48.28%" stop-color="#0000ca"/><stop offset="49.14%" stop-color="#0000f0"/><stop offset="50%" stop-color="#0047ff"/><stop offset="50.86%" stop-color="#0090ff"/><stop offset="51.72%" stop-color="#00a2ff"/><stop offset="53.45%" stop-color="#00f3ff"/><stop offset="54.31%" stop-color="#09fff6"/><stop offset="55.17%" stop-color="#04fffb"/><stop offset="56.03%" stop-color="#00f4ff"/><stop offset="58.62%" stop-color="#00b6ff"/><stop offset="60.34%" stop-color="#00aaff"/><stop offset="62.93%" stop-color="#00c6ff"/><stop offset="64.66%" stop-color="#00f2ff"/><stop offset="65.52%" stop-color="#00fcff"/><stop offset="66.38%" stop-color="#0afff5"/><stop offset="68.1%" stop-color="#4bffb4"/><stop offset="69.83%" stop-color="#6dff92"/><stop offset="70.69%" stop-color="#87ff78"/><stop offset="73.28%" stop-color="#ffff00"/><stop offset="74.14%" stop-color="#ffde00"/><stop offset="75%" stop-color="#ffd000"/><stop offset="75.86%" stop-color="#ffda00"/><stop offset="76.72%" stop-color="#fffb00"/><stop offset="79.31%" stop-color="#84ff7b"/><stop offset="81.9%" stop-color="#43ffbc"/><stop offset="83.62%" stop-color="#28ffd7"/><stop offset="87.93%" stop-color="#42ffbd"/><stop offset="88.79%" stop-color="#50ffaf"/><stop offset="91.38%" stop-color="#bfff40"/><stop offset="92.24%" stop-color="#beff41"/><stop offset="93.97%" stop-color="#9bff64"/><stop offset="94.83%" stop-color="#0000b7"/><stop offset="100%" stop-color="#0000b8"/></linearGradient>
<linearGradient id="g39" gradientUnits="userSpaceOnUse" x1="0" y1="202" x2="0" y2="260"><stop offset="0%" stop-color="#0000b8"/><stop offset="0.86%" stop-color="#0000c7"/><stop offset="1.72%" stop-color="#0044ff"/><stop offset="2.59%" stop-color="#00a6ff"/><stop offset="3.45%" stop-color="#00b1ff"/><stop offset="4.31%" stop-color="#00cfff"/><stop offset="5.17%" stop-color="#00fcff"/><stop offset="6.03%" stop-color="#2fffd0"/><stop offset="6.9%" stop-color="#59ffa6"/><stop offset="7.76%" stop-color="#73ff8c"/><stop offset="8.62%" stop-color="#77ff88"/><stop offset="9.48%" stop-color="#62ff9d"/><stop offset="11.21%" stop-color="#0ffff0"/><stop offset="12.07%" stop-color="#00f0ff"/><stop offset="12.93%" stop-color="#00e5ff"/><stop offset="13.79%" stop-color="#009dff"/><stop offset="14.66%" stop-color="#002bff"/><stop offset="15.52%" stop-color="#0000d8"/><stop offset="16.38%" stop-color="#0000d7"/><stop offset="17.24%" stop-color="#0020ff"/><stop offset="18.1%" stop-color="#007aff"/><stop offset="18.97%" stop-color="#00a7ff"/><stop offset="19.83%" stop-color="#00b1ff"/><stop offset="20.69%" stop-color="#00cfff"/><stop offset="21.55%" stop-color="#00faff"/><stop offset="22.41%" stop-color="#28ffd7"/><stop offset="23.28%" stop-color="#4cffb3"/><stop offset="24.14%" stop-color="#5effa1"/><stop offset="25%" stop-color="#59ffa6"/><stop offset="26.72%" stop-color="#19ffe6"/><stop offset="27.59%" stop-color="#00f3ff"/><stop offset="29.31%" stop-color="#00cdff"/><stop offset="30.17%" stop-color="#0075ff"/><stop offset="31.03%" stop-color="#0005ff"/><stop offset="31.9%" stop-color="#0000cd"/><stop offset="32.76%" stop-color="#0000eb"/><stop offset="33.62%" stop-color="#003dff"/><stop offset="34.48%" stop-color="#0086ff"/><stop offset="36.21%" stop-color="#00a1ff"/><stop offset="39.66%" stop-color="#00f5ff"/><stop offset="40.52%" stop-color="#00fcff"/><stop offset="41.38%" stop-color="#00f6ff"/><stop offset="43.97%" stop-color="#00baff"/><stop offset="45.69%" stop-color="#00a6ff"/><stop offset="46.55%" stop-color="#007bff"/><stop offset="47.41%" stop-color="#0000e3"/><stop offset="48.28%" stop-color="#0000c8"/><stop offset="49.14%" stop-color="#0000ee"/><stop offset="50%" stop-color="#0046ff"/><stop offset="50.86%" stop-color="#0090ff"/><stop offset="51.72%" stop-color="#00a2ff"/><stop offset="53.45%" stop-color="#00f1ff"/><stop offset="54.31%" stop-color="#07fff8"/><stop offset="55.17%" stop-color="#02fffd"/><stop offset="56.03%" stop-color="#00f2ff"/><stop offset="58.62%" stop-color="#00b5ff"/><stop offset="60.34%" stop-color="#00aaff"/><stop offset="62.93%" stop-color="#00c6ff"/><stop offset="64.66%" stop-color="#00f2ff"/><stop offset="65.52%" stop-color="#00fcff"/><stop offset="66.38%" stop-color="#0bfff4"/><stop offset="68.1%" stop-color="#4dffb2"/><stop offset="69.83%" stop-color="#73ff8c"/><stop offset="70.69%" stop-color="#93ff6c"/><stop offset="72.41%" stop-color="#f4ff0b"/><stop offset="74.14%" stop-color="#ffa800"/><stop offset="75%" stop-color="#ff9500"/><stop offset="75.86%" stop-color="#ffa200"/><stop offset="76.72%" stop-color="#ffcc00"/><stop offset="77.59%" stop-color="#f8ff07"/><stop offset="78.45%" stop-color="#bfff40"/><stop offset="79.31%" stop-color="#92ff6d"/><stop offset="81.9%" stop-color="#45ffba"/><stop offset="83.62%" stop-color="#28ffd7"/><stop offset="87.93%" stop-color="#42ffbd"/><stop offset="88.79%" stop-color="#50ffaf"/><stop offset="91.38%" stop-color="#c3ff3c"/><stop offset="92.24%" stop-color="#d1ff2e"/><stop offset="94.83%" stop-color="#e1ff1e"/><stop offset="95.69%" stop-color="#c4ff3b"/><stop offset="96.55%" stop-color="#0000b7"/><stop offset="100%" stop-color="#0000b8"/></linearGradient>
<linearGradient id="g40" gradientUnits="userSpaceOnUse" x1="0" y1="202" x2="0" y2="260"><stop offset="0%" stop-color="#0000b7"/><stop offset="0.86%" stop-color="#0000c2"/><stop offset="1.72%" stop-color="#003bff"/><stop offset="2.59%" stop-color="#00adff"/><stop offset="3.45%" stop-color="#00b8ff"/><stop offset="5.17%" stop-color="#09fff6"/><stop offset="6.9%" stop-color="#6eff91"/><stop offset="7.76%" stop-color="#8dff72"/><stop offset="8.62%" stop-color="#94ff6b"/><stop offset="9.48%" stop-color="#7fff80"/><stop offset="11.21%" stop-color="#28ffd7"/><stop offset="12.07%" stop-color="#07fff8"/><stop offset="12.93%" stop-color="#00fbff"/><stop offset="13.79%" stop-color="#00b6ff"/><stop offset="14.66%" stop-color="#003fff"/><stop offset="15.52%" stop-color="#0000e0"/><stop offset="16.38%" stop-color="#0000d8"/><stop offset="17.24%" stop-color="#001dff"/><stop offset="18.1%" stop-color="#007aff"/><stop offset="18.97%" stop-color="#00aeff"/><stop offset="19.83%" stop-color="#00b8ff"/><stop offset="21.55%" stop-color="#06fff9"/><stop offset="23.28%" stop-color="#60ff9f"/><stop offset="24.14%" stop-color="#75ff8a"/><stop offset="25%" stop-color="#72ff8d"/><stop offset="25.86%" stop-color="#58ffa7"/><stop offset="27.59%" stop-color="#09fff6"/><stop offset="29.31%" stop-color="#00e1ff"/><stop offset="30.17%" stop-color="#008aff"/><stop offset="31.03%" stop-color="#0014ff"/><stop offset="31.9%" stop-color="#0000d1"/><stop offset="32.76%" stop-color="#0000e9"/><stop offset="33.62%" stop-color="#0039ff"/><stop offset="34.48%" stop-color="#0086ff"/><stop offset="37.07%" stop-color="#00b8ff"/><stop offset="39.66%" stop-color="#00faff"/><stop offset="40.52%" stop-color="#03fffc"/><stop offset="41.38%" stop-color="#00feff"/><stop offset="43.97%" stop-color="#00c3ff"/><stop offset="45.69%" stop-color="#00afff"/><stop offset="46.55%" stop-color="#0086ff"/><stop offset="47.41%" stop-color="#0000e3"/><stop offset="48.28%" stop-color="#0000c7"/><stop offset="49.14%" stop-color="#0000ed"/><stop offset="50%" stop-color="#0046ff"/><stop offset="50.86%" stop-color="#0090ff"/><stop offset="51.72%" stop-color="#00a2ff"/><stop offset="53.45%" stop-color="#00f0ff"/><stop offset="54.31%" stop-color="#06fff9"/><stop offset="55.17%" stop-color="#00ffff"/><stop offset="56.03%" stop-color="#00f1ff"/><stop offset="58.62%" stop-color="#00b5ff"/><stop offset="60.34%" stop-color="#00aaff"/><stop offset="62.93%" stop-color="#00c6ff"/><stop offset="64.66%" stop-color="#00f2ff"/><stop offset="65.52%" stop-color="#00fcff"/><stop offset="66.38%" stop-color="#0bfff4"/><stop offset="68.1%" stop-color="#4effb1"/><stop offset="69.83%" stop-color="#78ff87"/><stop offset="70.69%" stop-color="#9bff64"/><stop offset="71.55%" stop-color="#ceff31"/><stop offset="72.41%" stop-color="#fff000"/><stop offset="73.28%" stop-color="#ffaf00"/><stop offset="74.14%" stop-color="#ff7a00"/><stop offset="75%" stop-color="#ff6200"/><stop offset="75.86%" stop-color="#ff7000"/><stop offset="76.72%" stop-color="#ffa300"/><stop offset="77.59%" stop-color="#ffe800"/><stop offset="78.45%" stop-color="#d2ff2d"/><stop offset="79.31%" stop-color="#9dff62"/><stop offset="80.17%" stop-color="#7dff82"/><stop offset="81.9%" stop-color="#46ffb9"/><stop offset="83.62%" stop-color="#29ffd6"/><stop offset="87.93%" stop-color="#42ffbd"/><stop offset="88.79%" stop-color="#50ffaf"/><stop offset="91.38%" stop-color="#c3ff3c"/><stop offset="96.55%" stop-color="#f6ff09"/><stop offset="97.41%" stop-color="#0000b8"/><stop offset="100%" stop-color="#0000b8"/></linearGradient>
<linearGradient id="g41" gradientUnits="userSpaceOnUse" x1="0" y1="202" x2="0" y2="260"><stop offset="0%" stop-color="#0000b7"/><stop offset="0.86%" stop-color="#0000c1"/><stop offset="1.72%" stop-color="#0038ff"/><stop offset="2.59%" stop-color="#00aeff"/><stop offset="3.45%" stop-color="#00bbff"/><stop offset="4.31%" stop-color="#00dbff"/><stop offset="5.17%" stop-color="#0dfff2"/><stop offset="6.9%" stop-color="#76ff89"/><stop offset="7.76%" stop-color="#96ff69"/><stop offset="8.62%" stop-color="#9dff62"/><stop offset="9.48%" stop-color="#89ff76"/><stop offset="11.21%" stop-color="#31ffce"/><stop offset="12.07%" stop-color="#0ffff0"/><stop offset="12.93%" stop-color="#03fffc"/><stop offset="13.79%" stop-color="#00bfff"/><stop offset="14.66%" stop-color="#0046ff"/><stop offset="15.52%" stop-color="#0000e4"/><stop offset="16.38%" stop-color="#0000d8"/><stop offset="17.24%" stop-color="#001cff"/><stop offset="18.1%" stop-color="#007aff"/><stop offset="18.97%" stop-color="#00b1ff"/><stop offset="19.83%" stop-color="#00bbff"/><stop offset="21.55%" stop-color="#0afff5"/><stop offset="23.28%" stop-color="#67ff98"/><stop offset="24.14%" stop-color="#7dff82"/><stop offset="25%" stop-color="#7bff84"/><stop offset="25.86%" stop-color="#61ff9e"/><stop offset="27.59%" stop-color="#10ffef"/><stop offset="28.45%" stop-color="#00f4ff"/><stop offset="29.31%" stop-color="#00e7ff"/><stop offset="30.17%" stop-color="#0092ff"/><stop offset="31.03%" stop-color="#0019ff"/><stop offset="31.9%" stop-color="#0000d3"/><stop offset="32.76%" stop-color="#0000e9"/><stop offset="33.62%" stop-color="#0038ff"/><stop offset="34.48%" stop-color="#0086ff"/><stop offset="35.34%" stop-color="#009eff"/><stop offset="37.07%" stop-color="#00b9ff"/><stop offset="39.66%" stop-color="#00fcff"/><stop offset="41.38%" stop-color="#01fffe"/><stop offset="43.97%" stop-color="#00c6ff"/><stop offset="45.69%" stop-color="#00b1ff"/><stop offset="46.55%" stop-color="#008aff"/><stop offset="47.41%" stop-color="#0000e4"/><stop offset="48.28%" stop-color="#0000c7"/><stop offset="49.14%" stop-color="#0000ed"/><stop offset="50%" stop-color="#0046ff"/><stop offset="50.86%" stop-color="#0090ff"/><stop offset="51.72%" stop-color="#00a2ff"/><stop offset="53.45%" stop-color="#00f0ff"/><stop offset="54.31%" stop-color="#05fffa"/><stop offset="55.17%" stop-color="#00ffff"/><stop offset="56.03%" stop-color="#00f1ff"/><stop offset="58.62%" stop-color="#00b5ff"/><stop offset="60.34%" stop-color="#00aaff"/><stop offset="62.93%" stop-color="#00c6ff"/><stop offset="64.66%" stop-color="#00f2ff"/><stop offset="65.52%" stop-color="#00fcff"/><stop offset="66.38%" stop-color="#0bfff4"/><stop offset="68.1%" stop-color="#4fffb0"/><stop offset="69.83%" stop-color="#7aff85"/><stop offset="70.69%" stop-color="#9fff60"/><stop offset="71.55%" stop-color="#d5ff2a"/><stop offset="72.41%" stop-color="#ffe600"/><stop offset="73.28%" stop-color="#ffa000"/><stop offset="74.14%" stop-color="#ff6700"/><stop offset="75%" stop-color="#ff4d00"/><stop offset="75.86%" stop-color="#ff5d00"/><stop offset="76.72%" stop-color="#ff9200"/><stop offset="77.59%" stop-color="#ffdc00"/><stop offset="78.45%" stop-color="#daff25"/><stop offset="79.31%" stop-color="#a2ff5d"/><stop offset="80.17%" stop-color="#7fff80"/><stop offset="81.9%" stop-color="#47ffb8"/><stop offset="83.62%" stop-color="#29ffd6"/><stop offset="87.93%" stop-color="#42ffbd"/><stop offset="88.79%" stop-color="#50ffaf"/><stop offset="91.38%" stop-color="#c3ff3c"/><stop offset="97.41%" stop-color="#faff05"/><stop offset="98.28%" stop-color="#0000b8"/><stop offset="100%" stop-color="#0000b8"/></linearGradient>
<linearGradient id="g42" gradientUnits="userSpaceOnUse" x1="0" y1="202" x2="0" y2="260"><stop offset="0%" stop-color="#0000b7"/><stop offset="0.86%" stop-color="#0000c2"/><stop offset="1.72%" stop-color="#003bff"/><stop offset="2.59%" stop-color="#00adff"/><stop offset="3.45%" stop-color="#00b8ff"/><stop offset="5.17%" stop-color="#09fff6"/><stop offset="6.9%" stop-color="#6eff91"/><stop offset="7.76%" stop-color="#8dff72"/><stop offset="8.62%" stop-color="#94ff6b"/><stop offset="9.48%" stop-color="#7fff80"/><stop offset="11.21%" stop-color="#28ffd7"/><stop offset="12.07%" stop-color="#07fff8"/><stop offset="12.93%" stop-color="#00fbff"/><stop offset="13.79%" stop-color="#00b6ff"/><stop offset="14.66%" stop-color="#003fff"/><stop offset="15.52%" stop-color="#0000e0"/><stop offset="16.38%" stop-color="#0000d8"/><stop offset="17.24%" stop-color="#001dff"/><stop offset="18.1%" stop-color="#007aff"/><stop offset="18.97%" stop-color="#00aeff"/><stop offset="19.83%" stop-color="#00b8ff"/><stop offset="21.55%" stop-color="#06fff9"/><stop offset="23.28%" stop-color="#60ff9f"/><stop offset="24.14%" stop-color="#75ff8a"/><stop offset="25%" stop-color="#72ff8d"/><stop offset="25.86%" stop-color="#58ffa7"/><stop offset="27.59%" stop-color="#09fff6"/><stop offset="29.31%" stop-color="#00e1ff"/><stop offset="30.17%" stop-color="#008aff"/><stop offset="31.03%" stop-color="#0014ff"/><stop offset="31.9%" stop-color="#0000d1"/><stop offset="32.76%" stop-color="#0000e9"/><stop offset="33.62%" stop-color="#0039ff"/><stop offset="34.48%" stop-color="#0086ff"/><stop offset="37.07%" stop-color="#00b8ff"/><stop offset="39.66%" stop-color="#00faff"/><stop offset="40.52%" stop-color="#03fffc"/><stop offset="41.38%" stop-color="#00feff"/><stop offset="43.97%" stop-color="#00c3ff"/><stop offset="45.69%" stop-color="#00afff"/><stop offset="46.55%" stop-color="#0086ff"/><stop offset="47.41%" stop-color="#0000e3"/><stop offset="48.28%" stop-color="#0000c7"/><stop offset="49.14%" stop-color="#0000ed"/><stop offset="50%" stop-color="#0046ff"/><stop offset="50.86%" stop-color="#0090ff"/><stop offset="51.72%" stop-color="#00a2ff"/><stop offset="53.45%" stop-color="#00f0ff"/><stop offset="54.31%" stop-color="#06fff9"/><stop offset="55.17%" stop-color="#00ffff"/><stop offset="56.03%" stop-color="#00f1ff"/><stop offset="58.62%" stop-color="#00b5ff"/><stop offset="60.34%" stop-color="#00aaff"/><stop offset="62.93%" stop-color="#00c6ff"/><stop offset="64.66%" stop-color="#00f2ff"/><stop offset="65.52%" stop-color="#00fcff"/><stop offset="66.38%" stop-color="#0bfff4"/><stop offset="68.1%" stop-color="#4effb1"/><stop offset="69.83%" stop-color="#78ff87"/><stop offset="70.69%" stop-color="#9bff64"/><stop offset="71.55%" stop-color="#ceff31"/><stop offset="72.41%" stop-color="#fff000"/><stop offset="73.28%" stop-color="#ffaf00"/><stop offset="74.14%" stop-color="#ff7a00"/><stop offset="75%" stop-color="#ff6200"/><stop offset="75.86%" stop-color="#ff7000"/><stop offset="76.72%" stop-color="#ffa300"/><stop offset="77.59%" stop-color="#ffe800"/><stop offset="78.45%" stop-color="#d2ff2d"/><stop offset="79.31%" stop-color="#9dff62"/><stop offset="80.17%" stop-color="#7dff82"/><stop offset="81.9%" stop-color="#46ffb9"/><stop offset="83.62%" stop-color="#29ffd6"/><stop offset="87.93%" stop-color="#42ffbd"/><stop offset="88.79%" stop-color="#50ffaf"/><stop offset="91.38%" stop-color="#c3ff3c"/><stop offset="96.55%" stop-color="#f6ff09"/><stop offset="97.41%" stop-color="#0000b8"/><stop offset="100%" stop-color="#0000b8"/></linearGradient>
<linearGradient id="g43" gradientUnits="userSpaceOnUse" x1="0" y1="202" x2="0" y2="260"><stop offset="0%" stop-color="#0000b8"/><stop offset="0.86%" stop-color="#0000c7"/><stop offset="1.72%" stop-color="#0044ff"/><stop offset="2.59%" stop-color="#00a6ff"/><stop offset="3.45%" stop-color="#00b1ff"/><stop offset="4.31%" stop-color="#00cfff"/><stop offset="5.17%" stop-color="#00fcff"/><stop offset="6.03%" stop-color="#2fffd0"/><stop offset="6.9%" stop-color="#59ffa6"/><stop offset="7.76%" stop-color="#73ff8c"/><stop offset="8.62%" stop-color="#77ff88"/><stop offset="9.48%" stop-color="#62ff9d"/><stop offset="11.21%" stop-color="#0ffff0"/><stop offset="12.07%" stop-color="#00f0ff"/><stop offset="12.93%" stop-color="#00e5ff"/><stop offset="13.79%" stop-color="#009dff"/><stop offset="14.66%" stop-color="#002bff"/><stop offset="15.52%" stop-color="#0000d8"/><stop offset="16.38%" stop-color="#0000d7"/><stop offset="17.24%" stop-color="#0020ff"/><stop offset="18.1%" stop-color="#007aff"/><stop offset="18.97%" stop-color="#00a7ff"/><stop offset="19.83%" stop-color="#00b1ff"/><stop offset="20.69%" stop-color="#00cfff"/><stop offset="21.55%" stop-color="#00faff"/><stop offset="22.41%" stop-color="#28ffd7"/><stop offset="23.28%" stop-color="#4cffb3"/><stop offset="24.14%" stop-color="#5effa1"/><stop offset="25%" stop-color="#59ffa6"/><stop offset="26.72%" stop-color="#19ffe6"/><stop offset="27.59%" stop-color="#00f3ff"/><stop offset="29.31%" stop-color="#00cdff"/><stop offset="30.17%" stop-color="#0075ff"/><stop offset="31.03%" stop-color="#0005ff"/><stop offset="31.9%" stop-color="#0000cd"/><stop offset="32.76%" stop-color="#0000eb"/><stop offset="33.62%" stop-color="#003dff"/><stop offset="34.48%" stop-color="#0086ff"/><stop offset="36.21%" stop-color="#00a1ff"/><stop offset="39.66%" stop-color="#00f5ff"/><stop offset="40.52%" stop-color="#00fcff"/><stop offset="41.38%" stop-color="#00f6ff"/><stop offset="43.97%" stop-color="#00baff"/><stop offset="45.69%" stop-color="#00a6ff"/><stop offset="46.55%" stop-color="#007bff"/><stop offset="47.41%" stop-color="#0000e3"/><stop offset="48.28%" stop-color="#0000c8"/><stop offset="49.14%" stop-color="#0000ee"/><stop offset="50%" stop-color="#0046ff"/><stop offset="50.86%" stop-color="#0090ff"/><stop offset="51.72%" stop-color="#00a2ff"/><stop offset="53.45%" stop-color="#00f1ff"/><stop offset="54.31%" stop-color="#07fff8"/><stop offset="55.17%" stop-color="#02fffd"/><stop offset="56.03%" stop-color="#00f2ff"/><stop offset="58.62%" stop-color="#00b5ff"/><stop offset="60.34%" stop-color="#00aaff"/><stop offset="62.93%" stop-color="#00c6ff"/><stop offset="64.66%" stop-color="#00f2ff"/><stop offset="65.52%" stop-color="#00fcff"/><stop offset="66.38%" stop-color="#0bfff4"/><stop offset="68.1%" stop-color="#4dffb2"/><stop offset="69.83%" stop-color="#73ff8c"/><stop offset="70.69%" stop-color="#93ff6c"/><stop offset="72.41%" stop-color="#f4ff0b"/><stop offset="74.14%" stop-color="#ffa800"/><stop offset="75%" stop-color="#ff9500"/><stop offset="75.86%" stop-color="#ffa200"/><stop offset="76.72%" stop-color="#ffcc00"/><stop offset="77.59%" stop-color="#f8ff07"/><stop offset="78.45%" stop-color="#bfff40"/><stop offset="79.31%" stop-color="#92ff6d"/><stop offset="81.9%" stop-color="#45ffba"/><stop offset="83.62%" stop-color="#28ffd7"/><stop offset="87.93%" stop-color="#42ffbd"/><stop offset="88.79%" stop-color="#50ffaf"/><stop offset="91.38%" stop-color="#c3ff3c"/><stop offset="92.24%" stop-color="#d1ff2e"/><stop offset="94.83%" stop-color="#e1ff1e"/><stop offset="95.69%" stop-color="#c4ff3b"/><stop offset="96.55%" stop-color="#0000b7"/><stop offset="100%" stop-color="#0000b8"/></linearGradient>
<linearGradient id="g44" gradientUnits="userSpaceOnUse" x1="0" y1="202" x2="0" y2="260"><stop offset="0%" stop-color="#0000ba"/><stop offset="0.86%" stop-color="#0000d0"/><stop offset="1.72%" stop-color="#004fff"/><stop offset="2.59%" stop-color="#0097ff"/><stop offset="3.45%" stop-color="#00a2ff"/><stop offset="5.17%" stop-color="#00e7ff"/><stop offset="6.03%" stop-color="#12ffed"/><stop offset="6.9%" stop-color="#35ffca"/><stop offset="7.76%" stop-color="#4affb5"/><stop offset="8.62%" stop-color="#4affb5"/><stop offset="9.48%" stop-color="#33ffcc"/><stop offset="10.34%" stop-color="#0efff1"/><stop offset="11.21%" stop-color="#00e6ff"/><stop offset="12.93%" stop-color="#00c1ff"/><stop offset="13.79%" stop-color="#0077ff"/><stop offset="14.66%" stop-color="#0010ff"/><stop offset="15.52%" stop-color="#0000cc"/><stop offset="16.38%" stop-color="#0000d8"/><stop offset="17.24%" stop-color="#0023ff"/><stop offset="18.1%" stop-color="#0076ff"/><stop offset="18.97%" stop-color="#0097ff"/><stop offset="19.83%" stop-color="#00a2ff"/><stop offset="21.55%" stop-color="#00e5ff"/><stop offset="22.41%" stop-color="#0dfff2"/><stop offset="23.28%" stop-color="#2bffd4"/><stop offset="24.14%" stop-color="#37ffc8"/><stop offset="25%" stop-color="#30ffcf"/><stop offset="25.86%" stop-color="#16ffe9"/><stop offset="26.72%" stop-color="#00f2ff"/><stop offset="27.59%" stop-color="#00d3ff"/><stop offset="29.31%" stop-color="#00adff"/><stop offset="30.17%" stop-color="#0054ff"/><stop offset="31.03%" stop-color="#0000ef"/><stop offset="31.9%" stop-color="#0000c8"/><stop offset="32.76%" stop-color="#0000ef"/><stop offset="33.62%" stop-color="#0041ff"/><stop offset="34.48%" stop-color="#0082ff"/><stop offset="36.21%" stop-color="#0098ff"/><stop offset="39.66%" stop-color="#00e9ff"/><stop offset="40.52%" stop-color="#00eeff"/><stop offset="41.38%" stop-color="#00e6ff"/><stop offset="43.97%" stop-color="#00aaff"/><stop offset="45.69%" stop-color="#0096ff"/><stop offset="46.55%" stop-color="#0067ff"/><stop offset="47.41%" stop-color="#0000e3"/><stop offset="48.28%" stop-color="#0000ca"/><stop offset="49.14%" stop-color="#0000f0"/><stop offset="50%" stop-color="#0047ff"/><stop offset="50.86%" stop-color="#0090ff"/><stop offset="51.72%" stop-color="#00a2ff"/><stop offset="53.45%" stop-color="#00f3ff"/><stop offset="54.31%" stop-color="#09fff6"/><stop offset="55.17%" stop-color="#04fffb"/><stop offset="56.03%" stop-color="#00f4ff"/><stop offset="58.62%" stop-color="#00b6ff"/><stop offset="60.34%" stop-color="#00aaff"/><stop offset="62.93%" stop-color="#00c6ff"/><stop offset="64.66%" stop-color="#00f2ff"/><stop offset="65.52%" stop-color="#00fcff"/><stop offset="66.38%" stop-color="#0afff5"/><stop offset="68.1%" stop-color="#4bffb4"/><stop offset="69.83%" stop-color="#6dff92"/><stop offset="70.69%" stop-color="#87ff78"/><stop offset="73.28%" stop-color="#ffff00"/><stop offset="74.14%" stop-color="#ffde00"/><stop offset="75%" stop-color="#ffd000"/><stop offset="75.86%" stop-color="#ffda00"/><stop offset="76.72%" stop-color="#fffb00"/><stop offset="79.31%" stop-color="#84ff7b"/><stop offset="81.9%" stop-color="#43ffbc"/><stop offset="83.62%" stop-color="#28ffd7"/><stop offset="87.93%" stop-color="#42ffbd"/><stop offset="88.79%" stop-color="#50ffaf"/><stop offset="91.38%" stop-color="#bfff40"/><stop offset="92.24%" stop-color="#beff41"/><stop offset="93.97%" stop-color="#9bff64"/><stop offset="94.83%" stop-color="#0000b7"/><stop offset="100%" stop-color="#0000b8"/></linearGradient>
<linearGradient id="g45" gradientUnits="userSpaceOnUse" x1="0" y1="202" x2="0" y2="260"><stop offset="0%" stop-color="#0000bc"/><stop offset="0.86%" stop-color="#0000df"/><stop offset="1.72%" stop-color="#0055ff"/><stop offset="2.59%" stop-color="#0080ff"/><stop offset="3.45%" stop-color="#008cff"/><stop offset="6.03%" stop-color="#00e9ff"/><stop offset="6.9%" stop-color="#05fffa"/><stop offset="7.76%" stop-color="#12ffed"/><stop offset="9.48%" stop-color="#00f7ff"/><stop offset="11.21%" stop-color="#00b5ff"/><stop offset="12.93%" stop-color="#0092ff"/><stop offset="13.79%" stop-color="#0049ff"/><stop offset="14.66%" stop-color="#0000f0"/><stop offset="15.52%" stop-color="#0000c3"/><stop offset="16.38%" stop-color="#0000db"/><stop offset="17.24%" stop-color="#0026ff"/><stop offset="18.1%" stop-color="#006cff"/><stop offset="19.83%" stop-color="#008cff"/><stop offset="23.28%" stop-color="#00fcff"/><stop offset="25%" stop-color="#00f9ff"/><stop offset="27.59%" stop-color="#00aaff"/><stop offset="28.45%" stop-color="#009fff"/><stop offset="29.31%" stop-color="#0081ff"/><stop offset="30.17%" stop-color="#002bff"/><stop offset="31.03%" stop-color="#0000d8"/><stop offset="31.9%" stop-color="#0000c4"/><stop offset="32.76%" stop-color="#0000f4"/><stop offset="33.62%" stop-color="#0042ff"/><stop offset="34.48%" stop-color="#0076ff"/><stop offset="36.21%" stop-color="#0089ff"/><stop offset="38.79%" stop-color="#00c6ff"/><stop offset="40.52%" stop-color="#00d5ff"/><stop offset="41.38%" stop-color="#00ccff"/><stop offset="43.97%" stop-color="#0091ff"/><stop offset="45.69%" stop-color="#007dff"/><stop offset="46.55%" stop-color="#004dff"/><stop offset="47.41%" stop-color="#0000e3"/><stop offset="48.28%" stop-color="#0000cd"/><stop offset="49.14%" stop-color="#0000f2"/><stop offset="50%" stop-color="#0048ff"/><stop offset="50.86%" stop-color="#0090ff"/><stop offset="51.72%" stop-color="#00a2ff"/><stop offset="53.45%" stop-color="#00f5ff"/><stop offset="54.31%" stop-color="#0cfff3"/><stop offset="56.03%" stop-color="#00f6ff"/><stop offset="58.62%" stop-color="#00b6ff"/><stop offset="60.34%" stop-color="#00aaff"/><stop offset="62.93%" stop-color="#00c6ff"/><stop offset="64.66%" stop-color="#00f2ff"/><stop offset="66.38%" stop-color="#0afff5"/><stop offset="68.1%" stop-color="#49ffb6"/><stop offset="70.69%" stop-color="#7dff82"/><stop offset="73.28%" stop-color="#dbff24"/><stop offset="74.14%" stop-color="#f2ff0d"/><stop offset="75%" stop-color="#fcff03"/><stop offset="75.86%" stop-color="#f4ff0b"/><stop offset="76.72%" stop-color="#daff25"/><stop offset="79.31%" stop-color="#77ff88"/><stop offset="82.76%" stop-color="#2fffd0"/><stop offset="83.62%" stop-color="#27ffd8"/><stop offset="86.21%" stop-color="#35ffca"/><stop offset="88.79%" stop-color="#34ffcb"/><stop offset="91.38%" stop-color="#7fff80"/><stop offset="92.24%" stop-color="#0000b5"/><stop offset="100%" stop-color="#0000b8"/></linearGradient>
<linearGradient id="g46" gradientUnits="userSpaceOnUse" x1="0" y1="202" x2="0" y2="260"><stop offset="0%" stop-color="#0000bd"/><stop offset="0.86%" stop-color="#0000ef"/><stop offset="1.72%" stop-color="#0050ff"/><stop offset="3.45%" stop-color="#006fff"/><stop offset="6.03%" stop-color="#00b7ff"/><stop offset="7.76%" stop-color="#00d1ff"/><stop offset="8.62%" stop-color="#00caff"/><stop offset="11.21%" stop-color="#0080ff"/><stop offset="12.07%" stop-color="#0075ff"/><stop offset="12.93%" stop-color="#005dff"/><stop offset="13.79%" stop-color="#0019ff"/><stop offset="14.66%" stop-color="#0000d5"/><stop offset="15.52%" stop-color="#0000bd"/><stop offset="16.38%" stop-color="#0000e0"/><stop offset="17.24%" stop-color="#0025ff"/><stop offset="18.1%" stop-color="#0059ff"/><stop offset="19.83%" stop-color="#006fff"/><stop offset="22.41%" stop-color="#00b5ff"/><stop offset="23.28%" stop-color="#00c4ff"/><stop offset="24.14%" stop-color="#00c6ff"/><stop offset="25%" stop-color="#00bbff"/><stop offset="27.59%" stop-color="#007bff"/><stop offset="28.45%" stop-color="#0075ff"/><stop offset="29.31%" stop-color="#004eff"/><stop offset="30.17%" stop-color="#0002ff"/><stop offset="31.03%" stop-color="#0000c5"/><stop offset="31.9%" stop-color="#0000c4"/><stop offset="32.76%" stop-color="#0000f9"/><stop offset="33.62%" stop-color="#003eff"/><stop offset="34.48%" stop-color="#0061ff"/><stop offset="36.21%" stop-color="#0071ff"/><stop offset="38.79%" stop-color="#00a8ff"/><stop offset="39.66%" stop-color="#00b1ff"/><stop offset="41.38%" stop-color="#00a7ff"/><stop offset="43.97%" stop-color="#0072ff"/><stop offset="45.69%" stop-color="#005cff"/><stop offset="46.55%" stop-color="#002fff"/><stop offset="47.41%" stop-color="#0000e4"/><stop offset="48.28%" stop-color="#0000d1"/><stop offset="49.14%" stop-color="#0000f6"/><stop offset="50.86%" stop-color="#0090ff"/><stop offset="51.72%" stop-color="#00a2ff"/><stop offset="52.59%" stop-color="#00c7ff"/><stop offset="53.45%" stop-color="#00f8ff"/><stop offset="54.31%" stop-color="#0ffff0"/><stop offset="56.03%" stop-color="#00f9ff"/><stop offset="58.62%" stop-color="#00b6ff"/><stop offset="60.34%" stop-color="#00aaff"/><stop offset="62.93%" stop-color="#00c6ff"/><stop offset="64.66%" stop-color="#00f1ff"/><stop offset="65.52%" stop-color="#00fbff"/><stop offset="66.38%" stop-color="#09fff6"/><stop offset="68.1%" stop-color="#47ffb8"/><stop offset="70.69%" stop-color="#74ff8b"/><stop offset="73.28%" stop-color="#c0ff3f"/><stop offset="75%" stop-color="#daff25"/><stop offset="75.86%" stop-color="#d3ff2c"/><stop offset="76.72%" stop-color="#bdff42"/><stop offset="79.31%" stop-color="#6aff95"/><stop offset="82.76%" stop-color="#17ffe8"/><stop offset="84.48%" stop-color="#05fffa"/><stop offset="87.93%" stop-color="#00faff"/><stop offset="88.79%" stop-color="#0000b3"/><stop offset="100%" stop-color="#0000b8"/></linearGradient>
<linearGradient id="g47" gradientUnits="userSpaceOnUse" x1="0" y1="202" x2="0" y2="260"><stop offset="0%" stop-color="#0000bf"/><stop offset="0.86%" stop-color="#0000fc"/><stop offset="1.72%" stop-color="#003bff"/><stop offset="3.45%" stop-color="#004bff"/><stop offset="6.03%" stop-color="#0080ff"/><stop offset="7.76%" stop-color="#008eff"/><stop offset="8.62%" stop-color="#0084ff"/><stop offset="11.21%" stop-color="#004cff"/><stop offset="12.07%" stop-color="#0046ff"/><stop offset="12.93%" stop-color="#0028ff"/><stop offset="13.79%" stop-color="#0000ef"/><stop offset="14.66%" stop-color="#0000c1"/><stop offset="15.52%" stop-color="#0000bc"/><stop offset="16.38%" stop-color="#0000e3"/><stop offset="17.24%" stop-color="#001cff"/><stop offset="18.1%" stop-color="#003cff"/><stop offset="19.83%" stop-color="#004cff"/><stop offset="22.41%" stop-color="#007fff"/><stop offset="23.28%" stop-color="#0087ff"/><stop offset="24.14%" stop-color="#0086ff"/><stop offset="26.72%" stop-color="#0057ff"/><stop offset="28.45%" stop-color="#0045ff"/><stop offset="29.31%" stop-color="#001bff"/><stop offset="30.17%" stop-color="#0000dd"/><stop offset="31.03%" stop-color="#0000ba"/><stop offset="31.9%" stop-color="#0000c8"/><stop offset="32.76%" stop-color="#0000fc"/><stop offset="33.62%" stop-color="#0031ff"/><stop offset="38.79%" stop-color="#0081ff"/><stop offset="39.66%" stop-color="#0087ff"/><stop offset="40.52%" stop-color="#0084ff"/><stop offset="43.1%" stop-color="#0059ff"/><stop offset="44.83%" stop-color="#004aff"/><stop offset="45.69%" stop-color="#0037ff"/><stop offset="46.55%" stop-color="#0011ff"/><stop offset="47.41%" stop-color="#0000e4"/><stop offset="48.28%" stop-color="#0000d6"/><stop offset="49.14%" stop-color="#0000fa"/><stop offset="50.86%" stop-color="#0091ff"/><stop offset="51.72%" stop-color="#00a2ff"/><stop offset="52.59%" stop-color="#00c8ff"/><stop offset="53.45%" stop-color="#00fbff"/><stop offset="54.31%" stop-color="#12ffed"/><stop offset="56.03%" stop-color="#00fbff"/><stop offset="58.62%" stop-color="#00b7ff"/><stop offset="60.34%" stop-color="#00aaff"/><stop offset="62.93%" stop-color="#00c6ff"/><stop offset="64.66%" stop-color="#00f1ff"/><stop offset="65.52%" stop-color="#00fbff"/><stop offset="66.38%" stop-color="#08fff7"/><stop offset="68.1%" stop-color="#46ffb9"/><stop offset="70.69%" stop-color="#68ff97"/><stop offset="73.28%" stop-color="#a1ff5e"/><stop offset="75%" stop-color="#afff50"/><stop offset="75.86%" stop-color="#a5ff5a"/><stop offset="79.31%" stop-color="#3bffc4"/><stop offset="81.9%" stop-color="#01fffe"/><stop offset="83.62%" stop-color="#00dcff"/><stop offset="84.48%" stop-color="#00d6ff"/><stop offset="85.34%" stop-color="#0000b2"/><stop offset="100%" stop-color="#0000b8"/></linearGradient>
<linearGradient id="g48" gradientUnits="userSpaceOnUse" x1="0" y1="202" x2="0" y2="260"><stop offset="0%" stop-color="#0000c7"/><stop offset="0.86%" stop-color="#0000fc"/><stop offset="1.72%" stop-color="#0019ff"/><stop offset="6.9%" stop-color="#004fff"/><stop offset="7.76%" stop-color="#004eff"/><stop offset="10.34%" stop-color="#0027ff"/><stop offset="12.07%" stop-color="#0018ff"/><stop offset="12.93%" stop-color="#0000f9"/><stop offset="13.79%" stop-color="#0000d0"/><stop offset="14.66%" stop-color="#0000b7"/><stop offset="15.52%" stop-color="#0000bf"/><stop offset="17.24%" stop-color="#000bff"/><stop offset="23.28%" stop-color="#004dff"/><stop offset="28.45%" stop-color="#0015ff"/><stop offset="29.31%" stop-color="#0000ee"/><stop offset="30.17%" stop-color="#0000c4"/><stop offset="31.03%" stop-color="#0000b6"/><stop offset="31.9%" stop-color="#0000cc"/><stop offset="32.76%" stop-color="#0000f9"/><stop offset="33.62%" stop-color="#001cff"/><stop offset="35.34%" stop-color="#0028ff"/><stop offset="37.93%" stop-color="#004dff"/><stop offset="39.66%" stop-color="#0058ff"/><stop offset="43.1%" stop-color="#0031ff"/><stop offset="44.83%" stop-color="#0027ff"/><stop offset="45.69%" stop-color="#0015ff"/><stop offset="46.55%" stop-color="#0000fa"/><stop offset="48.28%" stop-color="#0000dc"/><stop offset="49.14%" stop-color="#0000fe"/><stop offset="50.86%" stop-color="#0091ff"/><stop offset="51.72%" stop-color="#00a2ff"/><stop offset="52.59%" stop-color="#00c9ff"/><stop offset="53.45%" stop-color="#00fdff"/><stop offset="54.31%" stop-color="#15ffea"/><stop offset="56.03%" stop-color="#00feff"/><stop offset="58.62%" stop-color="#00b7ff"/><stop offset="60.34%" stop-color="#00aaff"/><stop offset="61.21%" stop-color="#00b7ff"/><stop offset="62.07%" stop-color="#00aeff"/><stop offset="62.93%" stop-color="#00b6ff"/><stop offset="64.66%" stop-color="#00deff"/><stop offset="66.38%" stop-color="#00efff"/><stop offset="67.24%" stop-color="#0cfff3"/><stop offset="68.1%" stop-color="#28ffd7"/><stop offset="70.69%" stop-color="#42ffbd"/><stop offset="73.28%" stop-color="#72ff8d"/><stop offset="75%" stop-color="#7dff82"/><stop offset="76.72%" stop-color="#5cffa3"/><stop offset="79.31%" stop-color="#0efff1"/><stop offset="80.17%" stop-color="#0000a8"/><stop offset="100%" stop-color="#0000b8"/></linearGradient>
<linearGradient id="g49" gradientUnits="userSpaceOnUse" x1="0" y1="202" x2="0" y2="260"><stop offset="0%" stop-color="#0000ce"/><stop offset="0.86%" stop-color="#0000f1"/><stop offset="1.72%" stop-color="#0000f9"/><stop offset="6.9%" stop-color="#001dff"/><stop offset="10.34%" stop-color="#0000fe"/><stop offset="12.07%" stop-color="#0000f1"/><stop offset="13.79%" stop-color="#0000be"/><stop offset="14.66%" stop-color="#0000b4"/><stop offset="15.52%" stop-color="#0000c1"/><stop offset="17.24%" stop-color="#0000f5"/><stop offset="18.97%" stop-color="#0000fd"/><stop offset="23.28%" stop-color="#001cff"/><stop offset="25.86%" stop-color="#0006ff"/><stop offset="27.59%" stop-color="#0000fb"/><stop offset="28.45%" stop-color="#0000ed"/><stop offset="30.17%" stop-color="#0000b8"/><stop offset="31.03%" stop-color="#0000b7"/><stop offset="32.76%" stop-color="#0000f0"/><stop offset="33.62%" stop-color="#0002ff"/><stop offset="35.34%" stop-color="#000bff"/><stop offset="37.93%" stop-color="#0027ff"/><stop offset="39.66%" stop-color="#002dff"/><stop offset="44.83%" stop-color="#0008ff"/><stop offset="45.69%" stop-color="#0000fb"/><stop offset="48.28%" stop-color="#0000e1"/><stop offset="49.14%" stop-color="#0003ff"/><stop offset="50.86%" stop-color="#0091ff"/><stop offset="51.72%" stop-color="#00a2ff"/><stop offset="52.59%" stop-color="#00caff"/><stop offset="53.45%" stop-color="#00ffff"/><stop offset="54.31%" stop-color="#18ffe7"/><stop offset="56.03%" stop-color="#00ffff"/><stop offset="58.62%" stop-color="#00b8ff"/><stop offset="59.48%" stop-color="#00abff"/><stop offset="60.34%" stop-color="#00aaff"/><stop offset="61.21%" stop-color="#00b7ff"/><stop offset="62.07%" stop-color="#0091ff"/><stop offset="62.93%" stop-color="#0098ff"/><stop offset="64.66%" stop-color="#00c0ff"/><stop offset="66.38%" stop-color="#00d0ff"/><stop offset="68.1%" stop-color="#07fff8"/><stop offset="70.69%" stop-color="#1dffe2"/><stop offset="73.28%" stop-color="#47ffb8"/><stop offset="74.14%" stop-color="#00009e"/><stop offset="84.48%" stop-color="#0000b1"/><stop offset="100%" stop-color="#0000b8"/></linearGradient>
<linearGradient id="g50" gradientUnits="userSpaceOnUse" x1="0" y1="202" x2="0" y2="260"><stop offset="0%" stop-color="#0000d0"/><stop offset="0.86%" stop-color="#0000e2"/><stop offset="6.9%" stop-color="#0000fb"/><stop offset="11.21%" stop-color="#0000e3"/><stop offset="13.79%" stop-color="#0000b5"/><stop offset="14.66%" stop-color="#0000b4"/><stop offset="17.24%" stop-color="#0000e3"/><stop offset="23.28%" stop-color="#0000fa"/><stop offset="27.59%" stop-color="#0000e2"/><stop offset="30.17%" stop-color="#0000b3"/><stop offset="31.03%" stop-color="#0000ba"/><stop offset="32.76%" stop-color="#0000e7"/><stop offset="36.21%" stop-color="#0000fe"/><stop offset="38.79%" stop-color="#0010ff"/><stop offset="42.24%" stop-color="#0000fc"/><stop offset="48.28%" stop-color="#0000e4"/><stop offset="49.14%" stop-color="#0006ff"/><stop offset="50.86%" stop-color="#0092ff"/><stop offset="51.72%" stop-color="#00a2ff"/><stop offset="52.59%" stop-color="#00caff"/><stop offset="53.45%" stop-color="#01fffe"/><stop offset="54.31%" stop-color="#19ffe6"/><stop offset="56.03%" stop-color="#02fffd"/><stop offset="58.62%" stop-color="#00b8ff"/><stop offset="59.48%" stop-color="#00abff"/><stop offset="60.34%" stop-color="#00aaff"/><stop offset="61.21%" stop-color="#00b7ff"/><stop offset="62.07%" stop-color="#0074ff"/><stop offset="62.93%" stop-color="#007bff"/><stop offset="64.66%" stop-color="#00a2ff"/><stop offset="65.52%" stop-color="#000096"/><stop offset="84.48%" stop-color="#0000b1"/><stop offset="100%" stop-color="#0000b8"/></linearGradient>
<linearGradient id="g51" gradientUnits="userSpaceOnUse" x1="0" y1="202" x2="0" y2="260"><stop offset="0%" stop-color="#0000d4"/><stop offset="6.9%" stop-color="#0000ef"/><stop offset="11.21%" stop-color="#0000d9"/><stop offset="13.79%" stop-color="#0000b3"/><stop offset="14.66%" stop-color="#0000b7"/><stop offset="16.38%" stop-color="#0000d7"/><stop offset="22.41%" stop-color="#0000f0"/><stop offset="27.59%" stop-color="#0000d7"/><stop offset="29.31%" stop-color="#0000b7"/><stop offset="30.17%" stop-color="#0000b3"/><stop offset="32.76%" stop-color="#0000e4"/><stop offset="37.07%" stop-color="#0000ff"/><stop offset="40.52%" stop-color="#0000fd"/><stop offset="48.28%" stop-color="#0000e6"/><stop offset="49.14%" stop-color="#0007ff"/><stop offset="50.86%" stop-color="#0092ff"/><stop offset="51.72%" stop-color="#00a2ff"/><stop offset="52.59%" stop-color="#00cbff"/><stop offset="53.45%" stop-color="#01fffe"/><stop offset="54.31%" stop-color="#1affe5"/><stop offset="56.03%" stop-color="#02fffd"/><stop offset="58.62%" stop-color="#00b8ff"/><stop offset="59.48%" stop-color="#00abff"/><stop offset="60.34%" stop-color="#00aaff"/><stop offset="61.21%" stop-color="#00b7ff"/><stop offset="62.07%" stop-color="#000094"/><stop offset="75.86%" stop-color="#00009f"/><stop offset="84.48%" stop-color="#0000b1"/><stop offset="100%" stop-color="#0000b8"/></linearGradient>
<linearGradient id="g52" gradientUnits="userSpaceOnUse" x1="0" y1="202" x2="0" y2="260"><stop offset="0%" stop-color="#0000d0"/><stop offset="0.86%" stop-color="#0000e2"/><stop offset="6.9%" stop-color="#0000fb"/><stop offset="11.21%" stop-color="#0000e3"/><stop offset="13.79%" stop-color="#0000b5"/><stop offset="14.66%" stop-color="#0000b4"/><stop offset="17.24%" stop-color="#0000e3"/><stop offset="23.28%" stop-color="#0000fa"/><stop offset="27.59%" stop-color="#0000e2"/><stop offset="30.17%" stop-color="#0000b3"/><stop offset="31.03%" stop-color="#0000ba"/><stop offset="32.76%" stop-color="#0000e7"/><stop offset="36.21%" stop-color="#0000fe"/><stop offset="38.79%" stop-color="#0010ff"/><stop offset="42.24%" stop-color="#0000fc"/><stop offset="48.28%" stop-color="#0000e4"/><stop offset="49.14%" stop-color="#0006ff"/><stop offset="50.86%" stop-color="#0092ff"/><stop offset="51.72%" stop-color="#00a2ff"/><stop offset="52.59%" stop-color="#00caff"/><stop offset="53.45%" stop-color="#01fffe"/><stop offset="54.31%" stop-color="#19ffe6"/><stop offset="56.03%" stop-color="#02fffd"/><stop offset="58.62%" stop-color="#00b8ff"/><stop offset="59.48%" stop-color="#00abff"/><stop offset="60.34%" stop-color="#00aaff"/><stop offset="61.21%" stop-color="#00b7ff"/><stop offset="62.07%" stop-color="#0074ff"/><stop offset="62.93%" stop-color="#007bff"/><stop offset="64.66%" stop-color="#00a2ff"/><stop offset="65.52%" stop-color="#000096"/><stop offset="84.48%" stop-color="#0000b1"/><stop offset="100%" stop-color="#0000b8"/></linearGradient>
<linearGradient id="g53" gradientUnits="userSpaceOnUse" x1="0" y1="202" x2="0" y2="260"><stop offset="0%" stop-color="#0000ce"/><stop offset="0.86%" stop-color="#0000f1"/><stop offset="1.72%" stop-color="#0000f9"/><stop offset="6.9%" stop-color="#001dff"/><stop offset="10.34%" stop-color="#0000fe"/><stop offset="12.07%" stop-color="#0000f1"/><stop offset="13.79%" stop-color="#0000be"/><stop offset="14.66%" stop-color="#0000b4"/><stop offset="15.52%" stop-color="#0000c1"/><stop offset="17.24%" stop-color="#0000f5"/><stop offset="18.97%" stop-color="#0000fd"/><stop offset="23.28%" stop-color="#001cff"/><stop offset="25.86%" stop-color="#0006ff"/><stop offset="27.59%" stop-color="#0000fb"/><stop offset="28.45%" stop-color="#0000ed"/><stop offset="30.17%" stop-color="#0000b8"/><stop offset="31.03%" stop-color="#0000b7"/><stop offset="32.76%" stop-color="#0000f0"/><stop offset="33.62%" stop-color="#0002ff"/><stop offset="35.34%" stop-color="#000bff"/><stop offset="37.93%" stop-color="#0027ff"/><stop offset="39.66%" stop-color="#002dff"/><stop offset="44.83%" stop-color="#0008ff"/><stop offset="45.69%" stop-color="#0000fb"/><stop offset="48.28%" stop-color="#0000e1"/><stop offset="49.14%" stop-color="#0003ff"/><stop offset="50.86%" stop-color="#0091ff"/><stop offset="51.72%" stop-color="#00a2ff"/><stop offset="52.59%" stop-color="#00caff"/><stop offset="53.45%" stop-color="#00ffff"/><stop offset="54.31%" stop-color="#18ffe7"/><stop offset="56.03%" stop-color="#00ffff"/><stop offset="58.62%" stop-color="#00b8ff"/><stop offset="59.48%" stop-color="#00abff"/><stop offset="60.34%" stop-color="#00aaff"/><stop offset="61.21%" stop-color="#00b7ff"/><stop offset="62.07%" stop-color="#0091ff"/><stop offset="62.93%" stop-color="#0098ff"/><stop offset="64.66%" stop-color="#00c0ff"/><stop offset="66.38%" stop-color="#00d0ff"/><stop offset="68.1%" stop-color="#07fff8"/><stop offset="70.69%" stop-color="#1dffe2"/><stop offset="73.28%" stop-color="#47ffb8"/><stop offset="74.14%" stop-color="#00009e"/><stop offset="84.48%" stop-color="#0000b1"/><stop offset="100%" stop-color="#0000b8"/></linearGradient>
<linearGradient id="cb54" x1="0" y1="0" x2="0" y2="1"><stop offset="0" stop-color="#800000"/><stop offset="0.12" stop-color="#ff0000"/><stop offset="0.38" stop-color="#ffff00"/><stop offset="0.62" stop-color="#00ffff"/><stop offset="0.88" stop-color="#0000ff"/><stop offset="1" stop-color="#000080"/></linearGradient></defs>
<rect width="520" height="320" fill="#fff"/>
<rect x="33.5" y="16.5" width="147" height="119" fill="none" stroke="#2a2a2a" stroke-width="1"/>
<line x1="46.86" y1="135.5" x2="46.86" y2="133.9" stroke="#2a2a2a" stroke-width="0.9" />
<line x1="60.23" y1="135.5" x2="60.23" y2="132.9" stroke="#2a2a2a" stroke-width="0.9" />
<line x1="73.59" y1="135.5" x2="73.59" y2="133.9" stroke="#2a2a2a" stroke-width="0.9" />
<line x1="86.95" y1="135.5" x2="86.95" y2="132.9" stroke="#2a2a2a" stroke-width="0.9" />
<line x1="100.32" y1="135.5" x2="100.32" y2="133.9" stroke="#2a2a2a" stroke-width="0.9" />
<line x1="113.68" y1="135.5" x2="113.68" y2="132.9" stroke="#2a2a2a" stroke-width="0.9" />
<line x1="127.05" y1="135.5" x2="127.05" y2="133.9" stroke="#2a2a2a" stroke-width="0.9" />
<line x1="140.41" y1="135.5" x2="140.41" y2="132.9" stroke="#2a2a2a" stroke-width="0.9" />
<line x1="153.77" y1="135.5" x2="153.77" y2="133.9" stroke="#2a2a2a" stroke-width="0.9" />
<line x1="167.14" y1="135.5" x2="167.14" y2="132.9" stroke="#2a2a2a" stroke-width="0.9" />
<line x1="33.5" y1="123.6" x2="35.1" y2="123.6" stroke="#2a2a2a" stroke-width="0.9" />
<line x1="33.5" y1="111.7" x2="36.1" y2="111.7" stroke="#2a2a2a" stroke-width="0.9" />
<line x1="33.5" y1="99.8" x2="35.1" y2="99.8" stroke="#2a2a2a" stroke-width="0.9" />
<line x1="33.5" y1="87.9" x2="36.1" y2="87.9" stroke="#2a2a2a" stroke-width="0.9" />
<line x1="33.5" y1="76" x2="35.1" y2="76" stroke="#2a2a2a" stroke-width="0.9" />
<line x1="33.5" y1="64.1" x2="36.1" y2="64.1" stroke="#2a2a2a" stroke-width="0.9" />
<line x1="33.5" y1="52.2" x2="35.1" y2="52.2" stroke="#2a2a2a" stroke-width="0.9" />
<line x1="33.5" y1="40.3" x2="36.1" y2="40.3" stroke="#2a2a2a" stroke-width="0.9" />
<line x1="33.5" y1="28.4" x2="35.1" y2="28.4" stroke="#2a2a2a" stroke-width="0.9" />
<text x="33.5" y="143.4" font-size="7.4" text-anchor="middle" font-family='"Liberation Sans", sans-serif' font-weight="normal" fill="#222"  stroke="#222" stroke-width="0.25">300</text>
<text x="60.23" y="143.4" font-size="7.4" text-anchor="middle" font-family='"Liberation Sans", sans-serif' font-weight="normal" fill="#222"  stroke="#222" stroke-width="0.25">400</text>
<text x="86.95" y="143.4" font-size="7.4" text-anchor="middle" font-family='"Liberation Sans", sans-serif' font-weight="normal" fill="#222"  stroke="#222" stroke-width="0.25">500</text>
<text x="113.68" y="143.4" font-size="7.4" text-anchor="middle" font-family='"Liberation Sans", sans-serif' font-weight="normal" fill="#222"  stroke="#222" stroke-width="0.25">600</text>
<text x="140.41" y="143.4" font-size="7.4" text-anchor="middle" font-family='"Liberation Sans", sans-serif' font-weight="normal" fill="#222"  stroke="#222" stroke-width="0.25">700</text>
<text x="167.14" y="143.4" font-size="7.4" text-anchor="middle" font-family='"Liberation Sans", sans-serif' font-weight="normal" fill="#222"  stroke="#222" stroke-width="0.25">800</text>
<text x="30.3" y="138.1" font-size="7.4" text-anchor="end" font-family='"Liberation Sans", sans-serif' font-weight="normal" fill="#222"  stroke="#222" stroke-width="0.25">0</text>
<text x="30.3" y="114.3" font-size="7.4" text-anchor="end" font-family='"Liberation Sans", sans-serif' font-weight="normal" fill="#222"  stroke="#222" stroke-width="0.25">20</text>
<text x="30.3" y="90.5" font-size="7.4" text-anchor="end" font-family='"Liberation Sans", sans-serif' font-weight="normal" fill="#222"  stroke="#222" stroke-width="0.25">40</text>
<text x="30.3" y="66.7" font-size="7.4" text-anchor="end" font-family='"Liberation Sans", sans-serif' font-weight="normal" fill="#222"  stroke="#222" stroke-width="0.25">60</text>
<text x="30.3" y="42.9" font-size="7.4" text-anchor="end" font-family='"Liberation Sans", sans-serif' font-weight="normal" fill="#222"  stroke="#222" stroke-width="0.25">80</text>
<text x="30.3" y="19.1" font-size="7.4" text-anchor="end" font-family='"Liberation Sans", sans-serif' font-weight="normal" fill="#222"  stroke="#222" stroke-width="0.25">100</text>
<text x="-0.4" y="12.5" font-size="11.4" text-anchor="start" font-family='"Liberation Sans", sans-serif' font-weight="normal" fill="#222"  stroke="#222" stroke-width="0.25">(a)</text>
<text x="108.2" y="155.7" font-size="12.6" text-anchor="middle" font-family='"Liberation Sans", sans-serif' font-weight="normal" fill="#111"  stroke="#111" stroke-width="0.25">Wavelength (nm)</text>
<text x="0" y="0" font-size="12.6" font-family='"Liberation Sans", sans-serif' fill="#111" stroke="#111" stroke-width="0.25" text-anchor="middle" transform="translate(15.6 78) rotate(-90)">T (%)</text>
<g fill="none" stroke-linejoin="round" stroke-linecap="round">
<path d="M33 135.3C33.3 132.92 34.13 125.88 34.8 121C35.47 116.12 36.27 111.08 37 106C37.73 100.92 38.43 95.5 39.2 90.5C39.97 85.5 40.73 81.08 41.6 76C42.47 70.92 43.57 64.5 44.4 60C45.23 55.5 45.9 51.92 46.6 49C47.3 46.08 47.91 44.05 48.6 42.5C49.29 40.95 50.02 40.02 50.75 39.7C51.48 39.38 52.27 40.18 53 40.6C53.73 41.02 54.27 42 55.1 42.2C55.93 42.4 56.93 42.13 58 41.8C59.07 41.47 60.33 41.05 61.5 40.2C62.67 39.35 63.58 37.73 65 36.7C66.42 35.67 67.71 34.37 70 34C72.29 33.63 76.25 34.5 78.75 34.5C81.25 34.5 82.29 34.23 85 34C87.71 33.77 91.88 33.1 95 33.1C98.12 33.1 100.83 33.58 103.75 34C106.67 34.42 109.79 35.25 112.5 35.6C115.21 35.95 117.08 35.95 120 36.1C122.92 36.25 126.67 36.42 130 36.5C133.33 36.58 136.67 36.6 140 36.6C143.33 36.6 146.67 36.47 150 36.5C153.33 36.53 156.67 36.62 160 36.8C163.33 36.98 166.67 37.17 170 37.6C173.33 38.03 178.33 39.1 180 39.4" stroke="#101010" stroke-width="1.4"/>
<path d="M33.3 135.3C33.7 132.92 34.9 125.88 35.7 121C36.5 116.12 37.23 111.08 38.1 106C38.97 100.92 39.98 95.5 40.9 90.5C41.82 85.5 42.57 80.25 43.6 76C44.63 71.75 46.15 67.5 47.1 65C48.05 62.5 48.57 61.95 49.3 61C50.03 60.05 50.72 59.75 51.5 59.3C52.28 58.85 52.92 58.75 54 58.3C55.08 57.85 56.67 57.18 58 56.6C59.33 56.02 60 55.65 62 54.8C64 53.95 67 52.63 70 51.5C73 50.37 76.67 49.08 80 48C83.33 46.92 86.67 45.92 90 45C93.33 44.08 96.67 43.23 100 42.5C103.33 41.77 106.67 41.08 110 40.6C113.33 40.12 116.67 39.83 120 39.6C123.33 39.37 126.67 39.34 130 39.2C133.33 39.06 136.67 38.88 140 38.75C143.33 38.62 146.67 38.46 150 38.4C153.33 38.34 156.67 38.3 160 38.4C163.33 38.5 166.67 38.6 170 39C173.33 39.4 178.33 40.5 180 40.8" stroke="#1c1cc4" stroke-width="1.35"/>
<path d="M33.1 135.3C33.43 132.92 34.4 125.88 35.1 121C35.8 116.12 36.55 111.08 37.3 106C38.05 100.92 38.83 95.5 39.6 90.5C40.37 85.5 41.07 81 41.9 76C42.73 71 43.82 64.42 44.6 60.5C45.38 56.58 45.78 54.58 46.6 52.5C47.42 50.42 48.6 48.9 49.5 48C50.4 47.1 51.07 47.13 52 47.1C52.93 47.07 54.1 47.75 55.1 47.8C56.1 47.85 57.18 47.63 58 47.4C58.82 47.17 58.83 47.27 60 46.4C61.17 45.53 63.33 43.33 65 42.2C66.67 41.07 67.71 40.13 70 39.6C72.29 39.07 76.25 39.2 78.75 39C81.25 38.8 82.29 38.72 85 38.4C87.71 38.08 91.88 37.5 95 37.1C98.12 36.7 100.83 36.17 103.75 36C106.67 35.83 109.79 36.13 112.5 36.1C115.21 36.07 117.08 35.98 120 35.8C122.92 35.62 126.67 35.25 130 35C133.33 34.75 136.67 34.37 140 34.3C143.33 34.23 146.67 34.35 150 34.6C153.33 34.85 156.67 35.3 160 35.8C163.33 36.3 166.67 37.03 170 37.6C173.33 38.17 178.33 38.93 180 39.2" stroke="#d42222" stroke-width="1.35"/>
<path d="M33.2 135.3C33.57 132.92 34.67 125.88 35.4 121C36.13 116.12 36.85 111.08 37.6 106C38.35 100.92 39.17 95.5 39.9 90.5C40.63 85.5 41.12 81.08 42 76C42.88 70.92 44.28 63.83 45.2 60C46.12 56.17 46.7 54.67 47.5 53C48.3 51.33 49.25 50.63 50 50C50.75 49.37 51.17 49.45 52 49.2C52.83 48.95 54.08 48.95 55 48.5C55.92 48.05 56.67 47.25 57.5 46.5C58.33 45.75 58.75 45.03 60 44C61.25 42.97 63.33 41.17 65 40.3C66.67 39.43 67.71 39.18 70 38.8C72.29 38.42 74.58 38.37 78.75 38C82.92 37.63 90.83 36.83 95 36.6C99.17 36.37 100.83 36.3 103.75 36.6C106.67 36.9 109.79 37.87 112.5 38.4C115.21 38.93 117.08 39.35 120 39.8C122.92 40.25 126.67 40.8 130 41.1C133.33 41.4 136.67 41.63 140 41.6C143.33 41.57 146.67 41.15 150 40.9C153.33 40.65 156.67 40.25 160 40.1C163.33 39.95 166.67 39.82 170 40C173.33 40.18 178.33 41 180 41.2" stroke="#2ed42e" stroke-width="1.55"/>
</g>
<line x1="128" y1="92" x2="147.4" y2="92" stroke="#101010" stroke-width="1.4" />
<text x="150" y="94.9" font-size="8.3" text-anchor="start" font-family='"Liberation Sans", sans-serif' font-weight="normal" fill="#222"  stroke="#222" stroke-width="0.25">control</text>
<line x1="128" y1="102.3" x2="147.4" y2="102.3" stroke="#d42222" stroke-width="1.35" />
<text x="150" y="105.2" font-size="8.3" text-anchor="start" font-family='"Liberation Sans", sans-serif' font-weight="normal" fill="#222"  stroke="#222" stroke-width="0.25">SIO-2</text>
<line x1="128" y1="112.6" x2="147.4" y2="112.6" stroke="#1c1cc4" stroke-width="1.35" />
<text x="150" y="115.5" font-size="8.3" text-anchor="start" font-family='"Liberation Sans", sans-serif' font-weight="normal" fill="#222"  stroke="#222" stroke-width="0.25">SIO-5</text>
<line x1="128" y1="122.9" x2="147.4" y2="122.9" stroke="#2ed42e" stroke-width="1.55" />
<text x="150" y="125.8" font-size="8.3" text-anchor="start" font-family='"Liberation Sans", sans-serif' font-weight="normal" fill="#222"  stroke="#222" stroke-width="0.25">SIO-8</text>
<rect x="34.5" y="174.5" width="148" height="119" fill="none" stroke="#2a2a2a" stroke-width="1"/>
<line x1="45.07" y1="293.5" x2="45.07" y2="291.9" stroke="#2a2a2a" stroke-width="0.9" />
<line x1="55.64" y1="293.5" x2="55.64" y2="290.9" stroke="#2a2a2a" stroke-width="0.9" />
<line x1="66.21" y1="293.5" x2="66.21" y2="291.9" stroke="#2a2a2a" stroke-width="0.9" />
<line x1="76.79" y1="293.5" x2="76.79" y2="290.9" stroke="#2a2a2a" stroke-width="0.9" />
<line x1="87.36" y1="293.5" x2="87.36" y2="291.9" stroke="#2a2a2a" stroke-width="0.9" />
<line x1="97.93" y1="293.5" x2="97.93" y2="290.9" stroke="#2a2a2a" stroke-width="0.9" />
<line x1="108.5" y1="293.5" x2="108.5" y2="291.9" stroke="#2a2a2a" stroke-width="0.9" />
<line x1="119.07" y1="293.5" x2="119.07" y2="290.9" stroke="#2a2a2a" stroke-width="0.9" />
<line x1="129.64" y1="293.5" x2="129.64" y2="291.9" stroke="#2a2a2a" stroke-width="0.9" />
<line x1="140.21" y1="293.5" x2="140.21" y2="290.9" stroke="#2a2a2a" stroke-width="0.9" />
<line x1="150.79" y1="293.5" x2="150.79" y2="291.9" stroke="#2a2a2a" stroke-width="0.9" />
<line x1="161.36" y1="293.5" x2="161.36" y2="290.9" stroke="#2a2a2a" stroke-width="0.9" />
<line x1="171.93" y1="293.5" x2="171.93" y2="291.9" stroke="#2a2a2a" stroke-width="0.9" />
<text x="34.5" y="301.6" font-size="7.6" text-anchor="middle" font-family='"Liberation Sans", sans-serif' font-weight="normal" fill="#222"  stroke="#222" stroke-width="0.25">550</text>
<text x="55.64" y="301.6" font-size="7.6" text-anchor="middle" font-family='"Liberation Sans", sans-serif' font-weight="normal" fill="#222"  stroke="#222" stroke-width="0.25">600</text>
<text x="76.79" y="301.6" font-size="7.6" text-anchor="middle" font-family='"Liberation Sans", sans-serif' font-weight="normal" fill="#222"  stroke="#222" stroke-width="0.25">650</text>
<text x="97.93" y="301.6" font-size="7.6" text-anchor="middle" font-family='"Liberation Sans", sans-serif' font-weight="normal" fill="#222"  stroke="#222" stroke-width="0.25">700</text>
<text x="119.07" y="301.6" font-size="7.6" text-anchor="middle" font-family='"Liberation Sans", sans-serif' font-weight="normal" fill="#222"  stroke="#222" stroke-width="0.25">750</text>
<text x="140.21" y="301.6" font-size="7.6" text-anchor="middle" font-family='"Liberation Sans", sans-serif' font-weight="normal" fill="#222"  stroke="#222" stroke-width="0.25">800</text>
<text x="161.36" y="301.6" font-size="7.6" text-anchor="middle" font-family='"Liberation Sans", sans-serif' font-weight="normal" fill="#222"  stroke="#222" stroke-width="0.25">850</text>
<text x="182.5" y="301.6" font-size="7.6" text-anchor="middle" font-family='"Liberation Sans", sans-serif' font-weight="normal" fill="#222"  stroke="#222" stroke-width="0.25">900</text>
<text x="8.9" y="171.1" font-size="11.4" text-anchor="start" font-family='"Liberation Sans", sans-serif' font-weight="normal" fill="#222"  stroke="#222" stroke-width="0.25">(b)</text>
<text x="111" y="315.4" font-size="12.6" text-anchor="middle" font-family='"Liberation Sans", sans-serif' font-weight="normal" fill="#111"  stroke="#111" stroke-width="0.25">Wavelength (nm)</text>
<text x="0" y="0" font-size="12.6" font-family='"Liberation Sans", sans-serif' fill="#111" stroke="#111" stroke-width="0.25" text-anchor="middle" transform="translate(26 231) rotate(-90)">Abs (a.u.)</text>
<g fill="none" stroke-linejoin="round" stroke-linecap="round">
<path d="M34.6 198.5C35.17 199.18 36.6 200.67 38 202.6C39.4 204.53 41.12 207.5 43 210.1C44.88 212.7 47.67 216.13 49.25 218.2C50.83 220.27 51.04 220.45 52.5 222.5C53.96 224.55 55.92 227.88 58 230.5C60.08 233.12 62.83 236.08 65 238.2C67.17 240.32 68.92 241.68 71 243.2C73.08 244.72 76 246.35 77.5 247.3C79 248.25 77.5 247.73 80 248.9C82.5 250.07 88.33 252.78 92.5 254.3C96.67 255.82 100.83 257.05 105 258C109.17 258.95 114.33 259.48 117.5 260C120.67 260.52 122.42 260.77 124 261.1C125.58 261.43 125.96 261.43 127 262C128.04 262.57 129.08 263.17 130.25 264.5C131.42 265.83 132.75 268.15 134 270C135.25 271.85 136.29 274.05 137.75 275.6C139.21 277.15 140.88 278.47 142.75 279.3C144.62 280.13 145.88 280.27 149 280.6C152.12 280.93 155.92 280.88 161.5 281.3C167.08 281.72 179 282.8 182.5 283.1" stroke="#101010" stroke-width="1.4"/>
<path d="M34.6 203.6C35.17 204.27 36.6 205.83 38 207.6C39.4 209.37 41.12 211.75 43 214.2C44.88 216.65 47.67 220.3 49.25 222.3C50.83 224.3 51.04 224.53 52.5 226.2C53.96 227.87 55.92 230.27 58 232.3C60.08 234.33 62.83 236.68 65 238.4C67.17 240.12 68.92 241.3 71 242.6C73.08 243.9 76 245.38 77.5 246.2C79 247.02 77.5 246.47 80 247.5C82.5 248.53 88.33 250.95 92.5 252.4C96.67 253.85 100.83 255.25 105 256.2C109.17 257.15 114.33 257.63 117.5 258.1C120.67 258.57 122.42 258.72 124 259C125.58 259.28 125.96 259.38 127 259.8C128.04 260.22 129.08 260.42 130.25 261.5C131.42 262.58 132.75 264.47 134 266.3C135.25 268.13 136.29 270.73 137.75 272.5C139.21 274.27 140.88 275.9 142.75 276.9C144.62 277.9 145.88 277.98 149 278.5C152.12 279.02 155.92 279.43 161.5 280C167.08 280.57 179 281.58 182.5 281.9" stroke="#d42222" stroke-width="1.35"/>
<path d="M34.6 187C35.17 188.25 36.6 191.78 38 194.5C39.4 197.22 41.42 200.72 43 203.3C44.58 205.88 45.98 207.88 47.5 210C49.02 212.12 50.23 213.9 52.1 216C53.98 218.1 56.6 220.43 58.75 222.6C60.9 224.77 62.92 226.97 65 229C67.08 231.03 69.17 233 71.25 234.8C73.33 236.6 75.42 238.23 77.5 239.8C79.58 241.37 81.25 242.8 83.75 244.2C86.25 245.6 88.96 246.92 92.5 248.2C96.04 249.48 100.83 250.92 105 251.9C109.17 252.88 114.33 253.62 117.5 254.1C120.67 254.58 122.33 254.55 124 254.8C125.67 255.05 126.33 254.98 127.5 255.6C128.67 256.22 129.83 257.1 131 258.5C132.17 259.9 133.33 262.05 134.5 264C135.67 265.95 136.62 268.32 138 270.2C139.38 272.08 140.92 274.18 142.75 275.3C144.58 276.42 145.88 276.4 149 276.9C152.12 277.4 155.92 277.7 161.5 278.3C167.08 278.9 179 280.13 182.5 280.5" stroke="#1c1cc4" stroke-width="1.35"/>
<path d="M34.6 195.8C35.17 196.42 36.6 197.63 38 199.5C39.4 201.37 41.12 204.4 43 207C44.88 209.6 47.25 212.32 49.25 215.1C51.25 217.88 53.04 221.22 55 223.7C56.96 226.18 58.92 227.92 61 230C63.08 232.08 65.17 234.28 67.5 236.2C69.83 238.12 72.29 239.83 75 241.5C77.71 243.17 80.83 244.95 83.75 246.2C86.67 247.45 88.96 247.95 92.5 249C96.04 250.05 100.83 251.55 105 252.5C109.17 253.45 114.33 254.22 117.5 254.7C120.67 255.18 122.33 255.13 124 255.4C125.67 255.67 126.33 255.7 127.5 256.3C128.67 256.9 129.83 257.67 131 259C132.17 260.33 133.38 262.47 134.5 264.3C135.62 266.13 136.38 268.22 137.75 270C139.12 271.78 140.88 273.92 142.75 275C144.62 276.08 145.88 276.05 149 276.5C152.12 276.95 155.92 277.22 161.5 277.7C167.08 278.18 179 279.12 182.5 279.4" stroke="#2ed42e" stroke-width="1.55"/>
</g>
<line x1="129.1" y1="181.6" x2="148.9" y2="181.6" stroke="#101010" stroke-width="1.4" />
<text x="151" y="184.5" font-size="8.3" text-anchor="start" font-family='"Liberation Sans", sans-serif' font-weight="normal" fill="#222"  stroke="#222" stroke-width="0.25">control</text>
<line x1="129.1" y1="191.9" x2="148.9" y2="191.9" stroke="#d42222" stroke-width="1.35" />
<text x="151" y="194.8" font-size="8.3" text-anchor="start" font-family='"Liberation Sans", sans-serif' font-weight="normal" fill="#222"  stroke="#222" stroke-width="0.25">SIO-2</text>
<line x1="129.1" y1="202.2" x2="148.9" y2="202.2" stroke="#1c1cc4" stroke-width="1.35" />
<text x="151" y="205.1" font-size="8.3" text-anchor="start" font-family='"Liberation Sans", sans-serif' font-weight="normal" fill="#222"  stroke="#222" stroke-width="0.25">SIO-5</text>
<line x1="129.1" y1="212.5" x2="148.9" y2="212.5" stroke="#2ed42e" stroke-width="1.55" />
<text x="151" y="215.4" font-size="8.3" text-anchor="start" font-family='"Liberation Sans", sans-serif' font-weight="normal" fill="#222"  stroke="#222" stroke-width="0.25">SIO-8</text>
<clipPath id="cc"><rect x="225" y="17.5" width="104.3" height="113"/></clipPath>
<g clip-path="url(#cc)">
<rect x="225" y="17.5" width="104.3" height="113" fill="url(#g1)"/>
</g>
<line x1="225" y1="28.6" x2="329" y2="28.6" stroke="#d4d8ff" stroke-width="1.3" stroke-dasharray="4.4 2.48" stroke-dashoffset="-2.25" opacity="0.92"/>
<line x1="225" y1="41" x2="329" y2="41" stroke="#d4d8ff" stroke-width="1.3" stroke-dasharray="4.4 2.48" stroke-dashoffset="-2.25" opacity="0.92"/>
<line x1="225" y1="95.4" x2="329" y2="95.4" stroke="#d4d8ff" stroke-width="1.3" stroke-dasharray="4.4 2.48" stroke-dashoffset="-2.25" opacity="0.92"/>
<line x1="225" y1="99.9" x2="329" y2="99.9" stroke="#d4d8ff" stroke-width="1.3" stroke-dasharray="4.4 2.48" stroke-dashoffset="-2.25" opacity="0.92"/>
<line x1="225" y1="105.7" x2="329" y2="105.7" stroke="#d4d8ff" stroke-width="1.3" stroke-dasharray="4.4 2.48" stroke-dashoffset="-2.25" opacity="0.92"/>
<line x1="225.4" y1="131.1" x2="225.4" y2="12.7" stroke="#0a0a0a" stroke-width="1.25" />
<path d="M223.7 14.1 L225.4 10.2 L227.1 14.1 Z" fill="#0a0a0a"/>
<line x1="220.5" y1="130.5" x2="331.7" y2="130.5" stroke="#0a0a0a" stroke-width="1.2" />
<path d="M330.4 128.8 L334.2 130.5 L330.4 132.2 Z" fill="#0a0a0a"/>
<line x1="220.4" y1="130.5" x2="225" y2="130.5" stroke="#0a0a0a" stroke-width="1" />
<line x1="223.2" y1="111.67" x2="225" y2="111.67" stroke="#0a0a0a" stroke-width="1" />
<line x1="220.4" y1="92.84" x2="225" y2="92.84" stroke="#0a0a0a" stroke-width="1" />
<line x1="223.2" y1="74" x2="225" y2="74" stroke="#0a0a0a" stroke-width="1" />
<line x1="220.4" y1="55.17" x2="225" y2="55.17" stroke="#0a0a0a" stroke-width="1" />
<line x1="223.2" y1="36.34" x2="225" y2="36.34" stroke="#0a0a0a" stroke-width="1" />
<line x1="220.4" y1="17.5" x2="225" y2="17.5" stroke="#0a0a0a" stroke-width="1" />
<text x="220.2" y="134.3" font-size="11.8" text-anchor="end" font-family='"Liberation Sans", sans-serif' font-weight="normal" fill="#151515"  stroke="#151515" stroke-width="0.28">0</text>
<text x="220.2" y="96.64" font-size="11.8" text-anchor="end" font-family='"Liberation Sans", sans-serif' font-weight="normal" fill="#151515"  stroke="#151515" stroke-width="0.28">0.5</text>
<text x="220.2" y="58.97" font-size="11.8" text-anchor="end" font-family='"Liberation Sans", sans-serif' font-weight="normal" fill="#151515"  stroke="#151515" stroke-width="0.28">1</text>
<text x="220.2" y="21.3" font-size="11.8" text-anchor="end" font-family='"Liberation Sans", sans-serif' font-weight="normal" fill="#151515"  stroke="#151515" stroke-width="0.28">1.5</text>
<line x1="226" y1="130.5" x2="226" y2="132.3" stroke="#0a0a0a" stroke-width="1" />
<line x1="243.1" y1="130.5" x2="243.1" y2="134.1" stroke="#0a0a0a" stroke-width="1" />
<line x1="260.2" y1="130.5" x2="260.2" y2="132.3" stroke="#0a0a0a" stroke-width="1" />
<line x1="277.3" y1="130.5" x2="277.3" y2="134.1" stroke="#0a0a0a" stroke-width="1" />
<line x1="294.4" y1="130.5" x2="294.4" y2="132.3" stroke="#0a0a0a" stroke-width="1" />
<line x1="311.5" y1="130.5" x2="311.5" y2="134.1" stroke="#0a0a0a" stroke-width="1" />
<line x1="328.6" y1="130.5" x2="328.6" y2="132.3" stroke="#0a0a0a" stroke-width="1" />
<text x="239.7" y="145.4" font-size="11.3" text-anchor="middle" font-family='"Liberation Sans", sans-serif' font-weight="normal" fill="#151515"  stroke="#151515" stroke-width="0.28">-1</text>
<text x="277.6" y="145.4" font-size="11.3" text-anchor="middle" font-family='"Liberation Sans", sans-serif' font-weight="normal" fill="#151515"  stroke="#151515" stroke-width="0.28">0</text>
<text x="311.5" y="145.4" font-size="11.3" text-anchor="middle" font-family='"Liberation Sans", sans-serif' font-weight="normal" fill="#151515"  stroke="#151515" stroke-width="0.28">1</text>
<text x="278.5" y="156.3" font-size="12.1" text-anchor="middle" font-family='"Liberation Serif", serif' font-weight="normal" fill="#151515"  stroke="#151515" stroke-width="0.28">X (μm)</text>
<text x="0" y="0" font-size="12" font-family='"Liberation Serif", serif' fill="#151515" stroke="#151515" stroke-width="0.28" text-anchor="middle" transform="translate(200.7 68.7) rotate(-90)">Z (μm)</text>
<text x="191.3" y="8.8" font-size="11.4" text-anchor="start" font-family='"Liberation Sans", sans-serif' font-weight="normal" fill="#222"  stroke="#222" stroke-width="0.28">(c)</text>
<text x="274.9" y="124" font-size="15.6" text-anchor="middle" font-family='"Liberation Serif", serif' font-weight="bold" fill="#e0183e" >control</text>
<clipPath id="cd"><rect x="225" y="178" width="103.5" height="112.5"/></clipPath>
<g clip-path="url(#cd)">
<rect x="225" y="178" width="103.5" height="112.5" fill="url(#g2)"/>
<rect x="225" y="251" width="1.02" height="8.5" fill="url(#g3)"/>
<rect x="226" y="251" width="1.02" height="8.5" fill="url(#g4)"/>
<rect x="227" y="251" width="1.02" height="8.5" fill="url(#g5)"/>
<rect x="228" y="251" width="1.02" height="8.5" fill="url(#g6)"/>
<rect x="229" y="251" width="1.02" height="8.5" fill="url(#g7)"/>
<rect x="230" y="251" width="1.02" height="8.5" fill="url(#g8)"/>
<rect x="231" y="251" width="1.02" height="8.5" fill="url(#g9)"/>
<rect x="232" y="251" width="1.02" height="8.5" fill="url(#g10)"/>
<rect x="233" y="251" width="1.02" height="8.5" fill="url(#g11)"/>
<rect x="234" y="251" width="1.02" height="8.5" fill="url(#g12)"/>
<rect x="235" y="251" width="1.02" height="8.5" fill="url(#g13)"/>
<rect x="236" y="251" width="1.02" height="8.5" fill="url(#g14)"/>
<rect x="237" y="251" width="1.02" height="8.5" fill="url(#g3)"/>
<rect x="238" y="251" width="1.02" height="8.5" fill="url(#g4)"/>
<rect x="239" y="251" width="1.02" height="8.5" fill="url(#g5)"/>
<rect x="240" y="251" width="1.02" height="8.5" fill="url(#g6)"/>
<rect x="241" y="251" width="1.02" height="8.5" fill="url(#g7)"/>
<rect x="242" y="251" width="1.02" height="8.5" fill="url(#g8)"/>
<rect x="243" y="251" width="1.02" height="8.5" fill="url(#g9)"/>
<rect x="244" y="251" width="1.02" height="8.5" fill="url(#g10)"/>
<rect x="245" y="251" width="1.02" height="8.5" fill="url(#g11)"/>
<rect x="246" y="251" width="1.02" height="8.5" fill="url(#g13)"/>
<rect x="247" y="251" width="1.02" height="8.5" fill="url(#g14)"/>
<rect x="248" y="251" width="1.02" height="8.5" fill="url(#g3)"/>
<rect x="249" y="251" width="1.02" height="8.5" fill="url(#g4)"/>
<rect x="250" y="251" width="1.02" height="8.5" fill="url(#g5)"/>
<rect x="251" y="251" width="1.02" height="8.5" fill="url(#g6)"/>
<rect x="252" y="251" width="1.02" height="8.5" fill="url(#g7)"/>
<rect x="253" y="251" width="1.02" height="8.5" fill="url(#g8)"/>
<rect x="254" y="251" width="1.02" height="8.5" fill="url(#g9)"/>
<rect x="255" y="251" width="1.02" height="8.5" fill="url(#g10)"/>
<rect x="256" y="251" width="1.02" height="8.5" fill="url(#g11)"/>
<rect x="257" y="251" width="1.02" height="8.5" fill="url(#g12)"/>
<rect x="258" y="251" width="1.02" height="8.5" fill="url(#g13)"/>
<rect x="259" y="251" width="1.02" height="8.5" fill="url(#g14)"/>
<rect x="260" y="251" width="1.02" height="8.5" fill="url(#g3)"/>
<rect x="261" y="251" width="1.02" height="8.5" fill="url(#g4)"/>
<rect x="262" y="251" width="1.02" height="8.5" fill="url(#g5)"/>
<rect x="263" y="251" width="1.02" height="8.5" fill="url(#g6)"/>
<rect x="264" y="251" width="1.02" height="8.5" fill="url(#g7)"/>
<rect x="265" y="251" width="1.02" height="8.5" fill="url(#g8)"/>
<rect x="266" y="251" width="1.02" height="8.5" fill="url(#g9)"/>
<rect x="267" y="251" width="1.02" height="8.5" fill="url(#g10)"/>
<rect x="268" y="251" width="1.02" height="8.5" fill="url(#g11)"/>
<rect x="269" y="251" width="1.02" height="8.5" fill="url(#g12)"/>
<rect x="270" y="251" width="1.02" height="8.5" fill="url(#g13)"/>
<rect x="271" y="251" width="1.02" height="8.5" fill="url(#g14)"/>
<rect x="272" y="251" width="1.02" height="8.5" fill="url(#g3)"/>
<rect x="273" y="251" width="1.02" height="8.5" fill="url(#g4)"/>
<rect x="274" y="251" width="1.02" height="8.5" fill="url(#g5)"/>
<rect x="275" y="251" width="1.02" height="8.5" fill="url(#g6)"/>
<rect x="276" y="251" width="1.02" height="8.5" fill="url(#g7)"/>
<rect x="277" y="251" width="1.02" height="8.5" fill="url(#g8)"/>
<rect x="278" y="251" width="1.02" height="8.5" fill="url(#g9)"/>
<rect x="279" y="251" width="1.02" height="8.5" fill="url(#g10)"/>
<rect x="280" y="251" width="1.02" height="8.5" fill="url(#g11)"/>
<rect x="281" y="251" width="1.02" height="8.5" fill="url(#g12)"/>
<rect x="282" y="251" width="1.02" height="8.5" fill="url(#g13)"/>
<rect x="283" y="251" width="1.02" height="8.5" fill="url(#g14)"/>
<rect x="284" y="251" width="1.02" height="8.5" fill="url(#g3)"/>
<rect x="285" y="251" width="1.02" height="8.5" fill="url(#g4)"/>
<rect x="286" y="251" width="1.02" height="8.5" fill="url(#g5)"/>
<rect x="287" y="251" width="1.02" height="8.5" fill="url(#g6)"/>
<rect x="288" y="251" width="1.02" height="8.5" fill="url(#g7)"/>
<rect x="289" y="251" width="1.02" height="8.5" fill="url(#g8)"/>
<rect x="290" y="251" width="1.02" height="8.5" fill="url(#g9)"/>
<rect x="291" y="251" width="1.02" height="8.5" fill="url(#g11)"/>
<rect x="292" y="251" width="1.02" height="8.5" fill="url(#g12)"/>
<rect x="293" y="251" width="1.02" height="8.5" fill="url(#g13)"/>
<rect x="294" y="251" width="1.02" height="8.5" fill="url(#g14)"/>
<rect x="295" y="251" width="1.02" height="8.5" fill="url(#g3)"/>
<rect x="296" y="251" width="1.02" height="8.5" fill="url(#g4)"/>
<rect x="297" y="251" width="1.02" height="8.5" fill="url(#g5)"/>
<rect x="298" y="251" width="1.02" height="8.5" fill="url(#g6)"/>
<rect x="299" y="251" width="1.02" height="8.5" fill="url(#g7)"/>
<rect x="300" y="251" width="1.02" height="8.5" fill="url(#g8)"/>
<rect x="301" y="251" width="1.02" height="8.5" fill="url(#g9)"/>
<rect x="302" y="251" width="1.02" height="8.5" fill="url(#g10)"/>
<rect x="303" y="251" width="1.02" height="8.5" fill="url(#g11)"/>
<rect x="304" y="251" width="1.02" height="8.5" fill="url(#g12)"/>
<rect x="305" y="251" width="1.02" height="8.5" fill="url(#g13)"/>
<rect x="306" y="251" width="1.02" height="8.5" fill="url(#g14)"/>
<rect x="307" y="251" width="1.02" height="8.5" fill="url(#g3)"/>
<rect x="308" y="251" width="1.02" height="8.5" fill="url(#g4)"/>
<rect x="309" y="251" width="1.02" height="8.5" fill="url(#g5)"/>
<rect x="310" y="251" width="1.02" height="8.5" fill="url(#g6)"/>
<rect x="311" y="251" width="1.02" height="8.5" fill="url(#g7)"/>
<rect x="312" y="251" width="1.02" height="8.5" fill="url(#g8)"/>
<rect x="313" y="251" width="1.02" height="8.5" fill="url(#g9)"/>
<rect x="314" y="251" width="1.02" height="8.5" fill="url(#g10)"/>
<rect x="315" y="251" width="1.02" height="8.5" fill="url(#g11)"/>
<rect x="316" y="251" width="1.02" height="8.5" fill="url(#g12)"/>
<rect x="317" y="251" width="1.02" height="8.5" fill="url(#g13)"/>
<rect x="318" y="251" width="1.02" height="8.5" fill="url(#g14)"/>
<rect x="319" y="251" width="1.02" height="8.5" fill="url(#g3)"/>
<rect x="320" y="251" width="1.02" height="8.5" fill="url(#g4)"/>
<rect x="321" y="251" width="1.02" height="8.5" fill="url(#g5)"/>
<rect x="322" y="251" width="1.02" height="8.5" fill="url(#g6)"/>
<rect x="323" y="251" width="1.02" height="8.5" fill="url(#g7)"/>
<rect x="324" y="251" width="1.02" height="8.5" fill="url(#g8)"/>
<rect x="325" y="251" width="1.02" height="8.5" fill="url(#g9)"/>
<rect x="326" y="251" width="1.02" height="8.5" fill="url(#g10)"/>
<rect x="327" y="251" width="1.02" height="8.5" fill="url(#g11)"/>
<rect x="328" y="251" width="1.02" height="8.5" fill="url(#g12)"/>
</g>
<g clip-path="url(#cd)"><path d="M211.76 252 L211.89 252.51 L212.06 252.99 L212.26 253.45 L212.47 253.89 L212.69 254.31 L212.92 254.71 L213.15 255.09 L213.4 255.44 L213.64 255.78 L213.89 256.09 L214.15 256.38 L214.4 256.65 L214.66 256.9 L214.93 257.12 L215.19 257.33 L215.46 257.51 L215.73 257.67 L216 257.81 L216.27 257.93 L216.54 258.03 L216.81 258.1 L217.08 258.16 L217.36 258.19 L217.63 258.2 L217.9 258.19 L218.18 258.16 L218.45 258.1 L218.72 258.03 L218.99 257.93 L219.26 257.81 L219.53 257.67 L219.8 257.51 L220.07 257.33 L220.33 257.12 L220.6 256.9 L220.86 256.65 L221.11 256.38 L221.37 256.09 L221.62 255.78 L221.86 255.44 L222.11 255.09 L222.34 254.71 L222.57 254.31 L222.79 253.89 L223 253.45 L223.2 252.99 L223.37 252.51 L223.5 252M223.5 252 L223.63 252.51 L223.8 252.99 L224 253.45 L224.21 253.89 L224.43 254.31 L224.66 254.71 L224.89 255.09 L225.14 255.44 L225.38 255.78 L225.63 256.09 L225.89 256.38 L226.14 256.65 L226.4 256.9 L226.67 257.12 L226.93 257.33 L227.2 257.51 L227.47 257.67 L227.74 257.81 L228.01 257.93 L228.28 258.03 L228.55 258.1 L228.82 258.16 L229.1 258.19 L229.37 258.2 L229.64 258.19 L229.92 258.16 L230.19 258.1 L230.46 258.03 L230.73 257.93 L231 257.81 L231.27 257.67 L231.54 257.51 L231.81 257.33 L232.07 257.12 L232.34 256.9 L232.6 256.65 L232.85 256.38 L233.11 256.09 L233.36 255.78 L233.6 255.44 L233.85 255.09 L234.08 254.71 L234.31 254.31 L234.53 253.89 L234.74 253.45 L234.94 252.99 L235.11 252.51 L235.24 252M235.24 252 L235.37 252.51 L235.54 252.99 L235.74 253.45 L235.95 253.89 L236.17 254.31 L236.4 254.71 L236.63 255.09 L236.88 255.44 L237.12 255.78 L237.37 256.09 L237.63 256.38 L237.88 256.65 L238.14 256.9 L238.41 257.12 L238.67 257.33 L238.94 257.51 L239.21 257.67 L239.48 257.81 L239.75 257.93 L240.02 258.03 L240.29 258.1 L240.56 258.16 L240.84 258.19 L241.11 258.2 L241.38 258.19 L241.66 258.16 L241.93 258.1 L242.2 258.03 L242.47 257.93 L242.74 257.81 L243.01 257.67 L243.28 257.51 L243.55 257.33 L243.81 257.12 L244.08 256.9 L244.34 256.65 L244.59 256.38 L244.85 256.09 L245.1 255.78 L245.34 255.44 L245.59 255.09 L245.82 254.71 L246.05 254.31 L246.27 253.89 L246.48 253.45 L246.68 252.99 L246.85 252.51 L246.98 252M246.98 252 L247.11 252.51 L247.28 252.99 L247.48 253.45 L247.69 253.89 L247.91 254.31 L248.14 254.71 L248.37 255.09 L248.62 255.44 L248.86 255.78 L249.11 256.09 L249.37 256.38 L249.62 256.65 L249.88 256.9 L250.15 257.12 L250.41 257.33 L250.68 257.51 L250.95 257.67 L251.22 257.81 L251.49 257.93 L251.76 258.03 L252.03 258.1 L252.3 258.16 L252.58 258.19 L252.85 258.2 L253.12 258.19 L253.4 258.16 L253.67 258.1 L253.94 258.03 L254.21 257.93 L254.48 257.81 L254.75 257.67 L255.02 257.51 L255.29 257.33 L255.55 257.12 L255.82 256.9 L256.08 256.65 L256.33 256.38 L256.59 256.09 L256.84 255.78 L257.08 255.44 L257.33 255.09 L257.56 254.71 L257.79 254.31 L258.01 253.89 L258.22 253.45 L258.42 252.99 L258.59 252.51 L258.72 252M258.72 252 L258.85 252.51 L259.02 252.99 L259.22 253.45 L259.43 253.89 L259.65 254.31 L259.88 254.71 L260.11 255.09 L260.36 255.44 L260.6 255.78 L260.85 256.09 L261.11 256.38 L261.36 256.65 L261.62 256.9 L261.89 257.12 L262.15 257.33 L262.42 257.51 L262.69 257.67 L262.96 257.81 L263.23 257.93 L263.5 258.03 L263.77 258.1 L264.04 258.16 L264.32 258.19 L264.59 258.2 L264.86 258.19 L265.14 258.16 L265.41 258.1 L265.68 258.03 L265.95 257.93 L266.22 257.81 L266.49 257.67 L266.76 257.51 L267.03 257.33 L267.29 257.12 L267.56 256.9 L267.82 256.65 L268.07 256.38 L268.33 256.09 L268.58 255.78 L268.82 255.44 L269.07 255.09 L269.3 254.71 L269.53 254.31 L269.75 253.89 L269.96 253.45 L270.16 252.99 L270.33 252.51 L270.46 252M270.46 252 L270.59 252.51 L270.76 252.99 L270.96 253.45 L271.17 253.89 L271.39 254.31 L271.62 254.71 L271.85 255.09 L272.1 255.44 L272.34 255.78 L272.59 256.09 L272.85 256.38 L273.1 256.65 L273.36 256.9 L273.63 257.12 L273.89 257.33 L274.16 257.51 L274.43 257.67 L274.7 257.81 L274.97 257.93 L275.24 258.03 L275.51 258.1 L275.78 258.16 L276.06 258.19 L276.33 258.2 L276.6 258.19 L276.88 258.16 L277.15 258.1 L277.42 258.03 L277.69 257.93 L277.96 257.81 L278.23 257.67 L278.5 257.51 L278.77 257.33 L279.03 257.12 L279.3 256.9 L279.56 256.65 L279.81 256.38 L280.07 256.09 L280.32 255.78 L280.56 255.44 L280.81 255.09 L281.04 254.71 L281.27 254.31 L281.49 253.89 L281.7 253.45 L281.9 252.99 L282.07 252.51 L282.2 252M282.2 252 L282.33 252.51 L282.5 252.99 L282.7 253.45 L282.91 253.89 L283.13 254.31 L283.36 254.71 L283.59 255.09 L283.84 255.44 L284.08 255.78 L284.33 256.09 L284.59 256.38 L284.84 256.65 L285.1 256.9 L285.37 257.12 L285.63 257.33 L285.9 257.51 L286.17 257.67 L286.44 257.81 L286.71 257.93 L286.98 258.03 L287.25 258.1 L287.52 258.16 L287.8 258.19 L288.07 258.2 L288.34 258.19 L288.62 258.16 L288.89 258.1 L289.16 258.03 L289.43 257.93 L289.7 257.81 L289.97 257.67 L290.24 257.51 L290.51 257.33 L290.77 257.12 L291.04 256.9 L291.3 256.65 L291.55 256.38 L291.81 256.09 L292.06 255.78 L292.3 255.44 L292.55 255.09 L292.78 254.71 L293.01 254.31 L293.23 253.89 L293.44 253.45 L293.64 252.99 L293.81 252.51 L293.94 252M293.94 252 L294.07 252.51 L294.24 252.99 L294.44 253.45 L294.65 253.89 L294.87 254.31 L295.1 254.71 L295.33 255.09 L295.58 255.44 L295.82 255.78 L296.07 256.09 L296.33 256.38 L296.58 256.65 L296.84 256.9 L297.11 257.12 L297.37 257.33 L297.64 257.51 L297.91 257.67 L298.18 257.81 L298.45 257.93 L298.72 258.03 L298.99 258.1 L299.26 258.16 L299.54 258.19 L299.81 258.2 L300.08 258.19 L300.36 258.16 L300.63 258.1 L300.9 258.03 L301.17 257.93 L301.44 257.81 L301.71 257.67 L301.98 257.51 L302.25 257.33 L302.51 257.12 L302.78 256.9 L303.04 256.65 L303.29 256.38 L303.55 256.09 L303.8 255.78 L304.04 255.44 L304.29 255.09 L304.52 254.71 L304.75 254.31 L304.97 253.89 L305.18 253.45 L305.38 252.99 L305.55 252.51 L305.68 252M305.68 252 L305.81 252.51 L305.98 252.99 L306.18 253.45 L306.39 253.89 L306.61 254.31 L306.84 254.71 L307.07 255.09 L307.32 255.44 L307.56 255.78 L307.81 256.09 L308.07 256.38 L308.32 256.65 L308.58 256.9 L308.85 257.12 L309.11 257.33 L309.38 257.51 L309.65 257.67 L309.92 257.81 L310.19 257.93 L310.46 258.03 L310.73 258.1 L311 258.16 L311.28 258.19 L311.55 258.2 L311.82 258.19 L312.1 258.16 L312.37 258.1 L312.64 258.03 L312.91 257.93 L313.18 257.81 L313.45 257.67 L313.72 257.51 L313.99 257.33 L314.25 257.12 L314.52 256.9 L314.78 256.65 L315.03 256.38 L315.29 256.09 L315.54 255.78 L315.78 255.44 L316.03 255.09 L316.26 254.71 L316.49 254.31 L316.71 253.89 L316.92 253.45 L317.12 252.99 L317.29 252.51 L317.42 252M317.42 252 L317.55 252.51 L317.72 252.99 L317.92 253.45 L318.13 253.89 L318.35 254.31 L318.58 254.71 L318.81 255.09 L319.06 255.44 L319.3 255.78 L319.55 256.09 L319.81 256.38 L320.06 256.65 L320.32 256.9 L320.59 257.12 L320.85 257.33 L321.12 257.51 L321.39 257.67 L321.66 257.81 L321.93 257.93 L322.2 258.03 L322.47 258.1 L322.74 258.16 L323.02 258.19 L323.29 258.2 L323.56 258.19 L323.84 258.16 L324.11 258.1 L324.38 258.03 L324.65 257.93 L324.92 257.81 L325.19 257.67 L325.46 257.51 L325.73 257.33 L325.99 257.12 L326.26 256.9 L326.52 256.65 L326.77 256.38 L327.03 256.09 L327.28 255.78 L327.52 255.44 L327.77 255.09 L328 254.71 L328.23 254.31 L328.45 253.89 L328.66 253.45 L328.86 252.99 L329.03 252.51 L329.16 252M329.16 252 L329.29 252.51 L329.46 252.99 L329.66 253.45 L329.87 253.89 L330.09 254.31 L330.32 254.71 L330.55 255.09 L330.8 255.44 L331.04 255.78 L331.29 256.09 L331.55 256.38 L331.8 256.65 L332.06 256.9 L332.33 257.12 L332.59 257.33 L332.86 257.51 L333.13 257.67 L333.4 257.81 L333.67 257.93 L333.94 258.03 L334.21 258.1 L334.48 258.16 L334.76 258.19 L335.03 258.2 L335.3 258.19 L335.58 258.16 L335.85 258.1 L336.12 258.03 L336.39 257.93 L336.66 257.81 L336.93 257.67 L337.2 257.51 L337.47 257.33 L337.73 257.12 L338 256.9 L338.26 256.65 L338.51 256.38 L338.77 256.09 L339.02 255.78 L339.26 255.44 L339.51 255.09 L339.74 254.71 L339.97 254.31 L340.19 253.89 L340.4 253.45 L340.6 252.99 L340.77 252.51 L340.9 252" fill="none" stroke="#fff" stroke-width="1.3" opacity="0.85"/></g>
<line x1="225" y1="188.8" x2="328.2" y2="188.8" stroke="#d4d8ff" stroke-width="1.3" stroke-dasharray="4.4 2.5" stroke-dashoffset="-2.2" opacity="0.92"/>
<line x1="225" y1="201.3" x2="328.2" y2="201.3" stroke="#d4d8ff" stroke-width="1.3" stroke-dasharray="4.4 2.5" stroke-dashoffset="-2.2" opacity="0.92"/>
<line x1="225" y1="260.6" x2="328.2" y2="260.6" stroke="#d4d8ff" stroke-width="1.3" stroke-dasharray="4.4 2.5" stroke-dashoffset="-2.2" opacity="0.92"/>
<line x1="225" y1="265.9" x2="328.2" y2="265.9" stroke="#d4d8ff" stroke-width="1.3" stroke-dasharray="4.4 2.5" stroke-dashoffset="-2.2" opacity="0.92"/>
<line x1="225.4" y1="291.1" x2="225.4" y2="173.1" stroke="#0a0a0a" stroke-width="1.25" />
<path d="M223.7 174.5 L225.4 170.6 L227.1 174.5 Z" fill="#0a0a0a"/>
<line x1="220.5" y1="290.5" x2="331.5" y2="290.5" stroke="#0a0a0a" stroke-width="1.2" />
<path d="M330.2 288.8 L334 290.5 L330.2 292.2 Z" fill="#0a0a0a"/>
<line x1="220.4" y1="290.5" x2="225" y2="290.5" stroke="#0a0a0a" stroke-width="1" />
<line x1="223.2" y1="271.75" x2="225" y2="271.75" stroke="#0a0a0a" stroke-width="1" />
<line x1="220.4" y1="253" x2="225" y2="253" stroke="#0a0a0a" stroke-width="1" />
<line x1="223.2" y1="234.25" x2="225" y2="234.25" stroke="#0a0a0a" stroke-width="1" />
<line x1="220.4" y1="215.5" x2="225" y2="215.5" stroke="#0a0a0a" stroke-width="1" />
<line x1="223.2" y1="196.75" x2="225" y2="196.75" stroke="#0a0a0a" stroke-width="1" />
<line x1="220.4" y1="178" x2="225" y2="178" stroke="#0a0a0a" stroke-width="1" />
<text x="220.2" y="294.3" font-size="11.8" text-anchor="end" font-family='"Liberation Sans", sans-serif' font-weight="normal" fill="#151515"  stroke="#151515" stroke-width="0.28">0</text>
<text x="220.2" y="256.8" font-size="11.8" text-anchor="end" font-family='"Liberation Sans", sans-serif' font-weight="normal" fill="#151515"  stroke="#151515" stroke-width="0.28">0.5</text>
<text x="220.2" y="219.3" font-size="11.8" text-anchor="end" font-family='"Liberation Sans", sans-serif' font-weight="normal" fill="#151515"  stroke="#151515" stroke-width="0.28">1</text>
<text x="220.2" y="181.8" font-size="11.8" text-anchor="end" font-family='"Liberation Sans", sans-serif' font-weight="normal" fill="#151515"  stroke="#151515" stroke-width="0.28">1.5</text>
<line x1="225" y1="290.5" x2="225" y2="294.1" stroke="#0a0a0a" stroke-width="1" />
<line x1="250.88" y1="290.5" x2="250.88" y2="292.3" stroke="#0a0a0a" stroke-width="1" />
<line x1="276.75" y1="290.5" x2="276.75" y2="294.1" stroke="#0a0a0a" stroke-width="1" />
<line x1="302.62" y1="290.5" x2="302.62" y2="292.3" stroke="#0a0a0a" stroke-width="1" />
<line x1="328.5" y1="290.5" x2="328.5" y2="294.1" stroke="#0a0a0a" stroke-width="1" />
<text x="223.1" y="306.2" font-size="11.3" text-anchor="middle" font-family='"Liberation Sans", sans-serif' font-weight="normal" fill="#151515"  stroke="#151515" stroke-width="0.28">-1</text>
<text x="277" y="306.2" font-size="11.3" text-anchor="middle" font-family='"Liberation Sans", sans-serif' font-weight="normal" fill="#151515"  stroke="#151515" stroke-width="0.28">0</text>
<text x="327.4" y="306.2" font-size="11.3" text-anchor="middle" font-family='"Liberation Sans", sans-serif' font-weight="normal" fill="#151515"  stroke="#151515" stroke-width="0.28">1</text>
<text x="278.5" y="316.3" font-size="12.1" text-anchor="middle" font-family='"Liberation Serif", serif' font-weight="normal" fill="#151515"  stroke="#151515" stroke-width="0.28">X (μm)</text>
<text x="0" y="0" font-size="12" font-family='"Liberation Serif", serif' fill="#151515" stroke="#151515" stroke-width="0.28" text-anchor="middle" transform="translate(200.7 229.2) rotate(-90)">Z (μm)</text>
<text x="190" y="169" font-size="11.4" text-anchor="start" font-family='"Liberation Sans", sans-serif' font-weight="normal" fill="#222"  stroke="#222" stroke-width="0.28">(d)</text>
<text x="271.5" y="284.9" font-size="15.6" text-anchor="middle" font-family='"Liberation Serif", serif' font-weight="bold" fill="#e0183e" >SIO-2</text>
<clipPath id="ce"><rect x="376.5" y="17.5" width="104.5" height="113"/></clipPath>
<g clip-path="url(#ce)">
<rect x="376.5" y="17.5" width="104.5" height="113" fill="url(#g15)"/>
<rect x="376" y="46.5" width="1.02" height="52" fill="url(#g16)"/>
<rect x="377" y="46.5" width="1.02" height="52" fill="url(#g17)"/>
<rect x="378" y="46.5" width="1.02" height="52" fill="url(#g18)"/>
<rect x="379" y="46.5" width="1.02" height="52" fill="url(#g19)"/>
<rect x="380" y="46.5" width="1.02" height="52" fill="url(#g20)"/>
<rect x="381" y="46.5" width="1.02" height="52" fill="url(#g21)"/>
<rect x="382" y="46.5" width="1.02" height="52" fill="url(#g22)"/>
<rect x="383" y="46.5" width="1.02" height="52" fill="url(#g23)"/>
<rect x="384" y="46.5" width="1.02" height="52" fill="url(#g24)"/>
<rect x="385" y="46.5" width="1.02" height="52" fill="url(#g25)"/>
<rect x="386" y="46.5" width="1.02" height="52" fill="url(#g26)"/>
<rect x="387" y="46.5" width="1.02" height="52" fill="url(#g27)"/>
<rect x="388" y="46.5" width="1.02" height="52" fill="url(#g28)"/>
<rect x="389" y="46.5" width="1.02" height="52" fill="url(#g29)"/>
<rect x="390" y="46.5" width="1.02" height="52" fill="url(#g30)"/>
<rect x="391" y="46.5" width="1.02" height="52" fill="url(#g16)"/>
<rect x="392" y="46.5" width="1.02" height="52" fill="url(#g17)"/>
<rect x="393" y="46.5" width="1.02" height="52" fill="url(#g18)"/>
<rect x="394" y="46.5" width="1.02" height="52" fill="url(#g19)"/>
<rect x="395" y="46.5" width="1.02" height="52" fill="url(#g20)"/>
<rect x="396" y="46.5" width="1.02" height="52" fill="url(#g21)"/>
<rect x="397" y="46.5" width="1.02" height="52" fill="url(#g22)"/>
<rect x="398" y="46.5" width="1.02" height="52" fill="url(#g23)"/>
<rect x="399" y="46.5" width="1.02" height="52" fill="url(#g24)"/>
<rect x="400" y="46.5" width="1.02" height="52" fill="url(#g25)"/>
<rect x="401" y="46.5" width="1.02" height="52" fill="url(#g26)"/>
<rect x="402" y="46.5" width="1.02" height="52" fill="url(#g27)"/>
<rect x="403" y="46.5" width="1.02" height="52" fill="url(#g31)"/>
<rect x="404" y="46.5" width="1.02" height="52" fill="url(#g29)"/>
<rect x="405" y="46.5" width="1.02" height="52" fill="url(#g30)"/>
<rect x="406" y="46.5" width="1.02" height="52" fill="url(#g16)"/>
<rect x="407" y="46.5" width="1.02" height="52" fill="url(#g17)"/>
<rect x="408" y="46.5" width="1.02" height="52" fill="url(#g18)"/>
<rect x="409" y="46.5" width="1.02" height="52" fill="url(#g19)"/>
<rect x="410" y="46.5" width="1.02" height="52" fill="url(#g20)"/>
<rect x="411" y="46.5" width="1.02" height="52" fill="url(#g21)"/>
<rect x="412" y="46.5" width="1.02" height="52" fill="url(#g22)"/>
<rect x="413" y="46.5" width="1.02" height="52" fill="url(#g23)"/>
<rect x="414" y="46.5" width="1.02" height="52" fill="url(#g24)"/>
<rect x="415" y="46.5" width="1.02" height="52" fill="url(#g25)"/>
<rect x="416" y="46.5" width="1.02" height="52" fill="url(#g26)"/>
<rect x="417" y="46.5" width="1.02" height="52" fill="url(#g27)"/>
<rect x="418" y="46.5" width="1.02" height="52" fill="url(#g31)"/>
<rect x="419" y="46.5" width="1.02" height="52" fill="url(#g28)"/>
<rect x="420" y="46.5" width="1.02" height="52" fill="url(#g30)"/>
<rect x="421" y="46.5" width="1.02" height="52" fill="url(#g16)"/>
<rect x="422" y="46.5" width="1.02" height="52" fill="url(#g17)"/>
<rect x="423" y="46.5" width="1.02" height="52" fill="url(#g18)"/>
<rect x="424" y="46.5" width="1.02" height="52" fill="url(#g19)"/>
<rect x="425" y="46.5" width="1.02" height="52" fill="url(#g20)"/>
<rect x="426" y="46.5" width="1.02" height="52" fill="url(#g21)"/>
<rect x="427" y="46.5" width="1.02" height="52" fill="url(#g22)"/>
<rect x="428" y="46.5" width="1.02" height="52" fill="url(#g23)"/>
<rect x="429" y="46.5" width="1.02" height="52" fill="url(#g24)"/>
<rect x="430" y="46.5" width="1.02" height="52" fill="url(#g25)"/>
<rect x="431" y="46.5" width="1.02" height="52" fill="url(#g26)"/>
<rect x="432" y="46.5" width="1.02" height="52" fill="url(#g27)"/>
<rect x="433" y="46.5" width="1.02" height="52" fill="url(#g31)"/>
<rect x="434" y="46.5" width="1.02" height="52" fill="url(#g28)"/>
<rect x="435" y="46.5" width="1.02" height="52" fill="url(#g29)"/>
<rect x="436" y="46.5" width="1.02" height="52" fill="url(#g16)"/>
<rect x="437" y="46.5" width="1.02" height="52" fill="url(#g17)"/>
<rect x="438" y="46.5" width="1.02" height="52" fill="url(#g18)"/>
<rect x="439" y="46.5" width="1.02" height="52" fill="url(#g19)"/>
<rect x="440" y="46.5" width="1.02" height="52" fill="url(#g20)"/>
<rect x="441" y="46.5" width="1.02" height="52" fill="url(#g21)"/>
<rect x="442" y="46.5" width="1.02" height="52" fill="url(#g22)"/>
<rect x="443" y="46.5" width="1.02" height="52" fill="url(#g23)"/>
<rect x="444" y="46.5" width="1.02" height="52" fill="url(#g24)"/>
<rect x="445" y="46.5" width="1.02" height="52" fill="url(#g25)"/>
<rect x="446" y="46.5" width="1.02" height="52" fill="url(#g26)"/>
<rect x="447" y="46.5" width="1.02" height="52" fill="url(#g27)"/>
<rect x="448" y="46.5" width="1.02" height="52" fill="url(#g31)"/>
<rect x="449" y="46.5" width="1.02" height="52" fill="url(#g28)"/>
<rect x="450" y="46.5" width="1.02" height="52" fill="url(#g29)"/>
<rect x="451" y="46.5" width="1.02" height="52" fill="url(#g16)"/>
<rect x="452" y="46.5" width="1.02" height="52" fill="url(#g17)"/>
<rect x="453" y="46.5" width="1.02" height="52" fill="url(#g18)"/>
<rect x="454" y="46.5" width="1.02" height="52" fill="url(#g19)"/>
<rect x="455" y="46.5" width="1.02" height="52" fill="url(#g20)"/>
<rect x="456" y="46.5" width="1.02" height="52" fill="url(#g21)"/>
<rect x="457" y="46.5" width="1.02" height="52" fill="url(#g22)"/>
<rect x="458" y="46.5" width="1.02" height="52" fill="url(#g23)"/>
<rect x="459" y="46.5" width="1.02" height="52" fill="url(#g24)"/>
<rect x="460" y="46.5" width="1.02" height="52" fill="url(#g25)"/>
<rect x="461" y="46.5" width="1.02" height="52" fill="url(#g26)"/>
<rect x="462" y="46.5" width="1.02" height="52" fill="url(#g27)"/>
<rect x="463" y="46.5" width="1.02" height="52" fill="url(#g31)"/>
<rect x="464" y="46.5" width="1.02" height="52" fill="url(#g28)"/>
<rect x="465" y="46.5" width="1.02" height="52" fill="url(#g29)"/>
<rect x="466" y="46.5" width="1.02" height="52" fill="url(#g30)"/>
<rect x="467" y="46.5" width="1.02" height="52" fill="url(#g17)"/>
<rect x="468" y="46.5" width="1.02" height="52" fill="url(#g18)"/>
<rect x="469" y="46.5" width="1.02" height="52" fill="url(#g19)"/>
<rect x="470" y="46.5" width="1.02" height="52" fill="url(#g20)"/>
<rect x="471" y="46.5" width="1.02" height="52" fill="url(#g21)"/>
<rect x="472" y="46.5" width="1.02" height="52" fill="url(#g22)"/>
<rect x="473" y="46.5" width="1.02" height="52" fill="url(#g23)"/>
<rect x="474" y="46.5" width="1.02" height="52" fill="url(#g24)"/>
<rect x="475" y="46.5" width="1.02" height="52" fill="url(#g25)"/>
<rect x="476" y="46.5" width="1.02" height="52" fill="url(#g26)"/>
<rect x="477" y="46.5" width="1.02" height="52" fill="url(#g27)"/>
<rect x="478" y="46.5" width="1.02" height="52" fill="url(#g31)"/>
<rect x="479" y="46.5" width="1.02" height="52" fill="url(#g28)"/>
<rect x="480" y="46.5" width="1.02" height="52" fill="url(#g29)"/>
</g>
<g clip-path="url(#ce)"><path d="M361.27 84.6 L361.3 85.59 L361.36 86.53 L361.47 87.44 L361.61 88.3 L361.78 89.12 L361.98 89.89 L362.2 90.63 L362.45 91.32 L362.72 91.97 L363.01 92.58 L363.31 93.15 L363.64 93.67 L363.97 94.16 L364.32 94.6 L364.68 95 L365.05 95.36 L365.43 95.67 L365.82 95.94 L366.22 96.17 L366.62 96.36 L367.02 96.51 L367.43 96.62 L367.84 96.68 L368.25 96.7 L368.66 96.68 L369.07 96.62 L369.48 96.51 L369.88 96.36 L370.28 96.17 L370.68 95.94 L371.07 95.67 L371.45 95.36 L371.82 95 L372.18 94.6 L372.53 94.16 L372.86 93.67 L373.19 93.15 L373.49 92.58 L373.78 91.97 L374.05 91.32 L374.3 90.63 L374.52 89.89 L374.72 89.12 L374.89 88.3 L375.03 87.44 L375.14 86.53 L375.2 85.59 L375.23 84.6M376.32 84.6 L376.35 85.59 L376.41 86.53 L376.52 87.44 L376.66 88.3 L376.83 89.12 L377.03 89.89 L377.25 90.63 L377.5 91.32 L377.77 91.97 L378.06 92.58 L378.36 93.15 L378.69 93.67 L379.02 94.16 L379.37 94.6 L379.73 95 L380.1 95.36 L380.48 95.67 L380.87 95.94 L381.27 96.17 L381.67 96.36 L382.07 96.51 L382.48 96.62 L382.89 96.68 L383.3 96.7 L383.71 96.68 L384.12 96.62 L384.53 96.51 L384.93 96.36 L385.33 96.17 L385.73 95.94 L386.12 95.67 L386.5 95.36 L386.87 95 L387.23 94.6 L387.58 94.16 L387.91 93.67 L388.24 93.15 L388.54 92.58 L388.83 91.97 L389.1 91.32 L389.35 90.63 L389.57 89.89 L389.77 89.12 L389.94 88.3 L390.08 87.44 L390.19 86.53 L390.25 85.59 L390.28 84.6M391.38 84.6 L391.4 85.59 L391.46 86.53 L391.57 87.44 L391.71 88.3 L391.88 89.12 L392.08 89.89 L392.3 90.63 L392.55 91.32 L392.82 91.97 L393.11 92.58 L393.41 93.15 L393.74 93.67 L394.07 94.16 L394.42 94.6 L394.78 95 L395.15 95.36 L395.53 95.67 L395.92 95.94 L396.32 96.17 L396.72 96.36 L397.12 96.51 L397.53 96.62 L397.94 96.68 L398.35 96.7 L398.76 96.68 L399.17 96.62 L399.58 96.51 L399.98 96.36 L400.38 96.17 L400.78 95.94 L401.17 95.67 L401.55 95.36 L401.92 95 L402.28 94.6 L402.63 94.16 L402.96 93.67 L403.29 93.15 L403.59 92.58 L403.88 91.97 L404.15 91.32 L404.4 90.63 L404.62 89.89 L404.82 89.12 L404.99 88.3 L405.13 87.44 L405.24 86.53 L405.3 85.59 L405.33 84.6M406.43 84.6 L406.45 85.59 L406.51 86.53 L406.62 87.44 L406.76 88.3 L406.93 89.12 L407.13 89.89 L407.35 90.63 L407.6 91.32 L407.87 91.97 L408.16 92.58 L408.46 93.15 L408.79 93.67 L409.12 94.16 L409.47 94.6 L409.83 95 L410.2 95.36 L410.58 95.67 L410.97 95.94 L411.37 96.17 L411.77 96.36 L412.17 96.51 L412.58 96.62 L412.99 96.68 L413.4 96.7 L413.81 96.68 L414.22 96.62 L414.63 96.51 L415.03 96.36 L415.43 96.17 L415.83 95.94 L416.22 95.67 L416.6 95.36 L416.97 95 L417.33 94.6 L417.68 94.16 L418.01 93.67 L418.34 93.15 L418.64 92.58 L418.93 91.97 L419.2 91.32 L419.45 90.63 L419.67 89.89 L419.87 89.12 L420.04 88.3 L420.18 87.44 L420.29 86.53 L420.35 85.59 L420.38 84.6M421.48 84.6 L421.5 85.59 L421.56 86.53 L421.67 87.44 L421.81 88.3 L421.98 89.12 L422.18 89.89 L422.4 90.63 L422.65 91.32 L422.92 91.97 L423.21 92.58 L423.51 93.15 L423.84 93.67 L424.17 94.16 L424.52 94.6 L424.88 95 L425.25 95.36 L425.63 95.67 L426.02 95.94 L426.42 96.17 L426.82 96.36 L427.22 96.51 L427.63 96.62 L428.04 96.68 L428.45 96.7 L428.86 96.68 L429.27 96.62 L429.68 96.51 L430.08 96.36 L430.48 96.17 L430.88 95.94 L431.27 95.67 L431.65 95.36 L432.02 95 L432.38 94.6 L432.73 94.16 L433.06 93.67 L433.39 93.15 L433.69 92.58 L433.98 91.97 L434.25 91.32 L434.5 90.63 L434.72 89.89 L434.92 89.12 L435.09 88.3 L435.23 87.44 L435.34 86.53 L435.4 85.59 L435.43 84.6M436.52 84.6 L436.55 85.59 L436.61 86.53 L436.72 87.44 L436.86 88.3 L437.03 89.12 L437.23 89.89 L437.45 90.63 L437.7 91.32 L437.97 91.97 L438.26 92.58 L438.56 93.15 L438.89 93.67 L439.22 94.16 L439.57 94.6 L439.93 95 L440.3 95.36 L440.68 95.67 L441.07 95.94 L441.47 96.17 L441.87 96.36 L442.27 96.51 L442.68 96.62 L443.09 96.68 L443.5 96.7 L443.91 96.68 L444.32 96.62 L444.73 96.51 L445.13 96.36 L445.53 96.17 L445.93 95.94 L446.32 95.67 L446.7 95.36 L447.07 95 L447.43 94.6 L447.78 94.16 L448.11 93.67 L448.44 93.15 L448.74 92.58 L449.03 91.97 L449.3 91.32 L449.55 90.63 L449.77 89.89 L449.97 89.12 L450.14 88.3 L450.28 87.44 L450.39 86.53 L450.45 85.59 L450.48 84.6M451.57 84.6 L451.6 85.59 L451.66 86.53 L451.77 87.44 L451.91 88.3 L452.08 89.12 L452.28 89.89 L452.5 90.63 L452.75 91.32 L453.02 91.97 L453.31 92.58 L453.61 93.15 L453.94 93.67 L454.27 94.16 L454.62 94.6 L454.98 95 L455.35 95.36 L455.73 95.67 L456.12 95.94 L456.52 96.17 L456.92 96.36 L457.32 96.51 L457.73 96.62 L458.14 96.68 L458.55 96.7 L458.96 96.68 L459.37 96.62 L459.78 96.51 L460.18 96.36 L460.58 96.17 L460.98 95.94 L461.37 95.67 L461.75 95.36 L462.12 95 L462.48 94.6 L462.83 94.16 L463.16 93.67 L463.49 93.15 L463.79 92.58 L464.08 91.97 L464.35 91.32 L464.6 90.63 L464.82 89.89 L465.02 89.12 L465.19 88.3 L465.33 87.44 L465.44 86.53 L465.5 85.59 L465.53 84.6M466.62 84.6 L466.65 85.59 L466.71 86.53 L466.82 87.44 L466.96 88.3 L467.13 89.12 L467.33 89.89 L467.55 90.63 L467.8 91.32 L468.07 91.97 L468.36 92.58 L468.66 93.15 L468.99 93.67 L469.32 94.16 L469.67 94.6 L470.03 95 L470.4 95.36 L470.78 95.67 L471.17 95.94 L471.57 96.17 L471.97 96.36 L472.37 96.51 L472.78 96.62 L473.19 96.68 L473.6 96.7 L474.01 96.68 L474.42 96.62 L474.83 96.51 L475.23 96.36 L475.63 96.17 L476.03 95.94 L476.42 95.67 L476.8 95.36 L477.17 95 L477.53 94.6 L477.88 94.16 L478.21 93.67 L478.54 93.15 L478.84 92.58 L479.13 91.97 L479.4 91.32 L479.65 90.63 L479.87 89.89 L480.07 89.12 L480.24 88.3 L480.38 87.44 L480.49 86.53 L480.55 85.59 L480.58 84.6M481.68 84.6 L481.7 85.59 L481.76 86.53 L481.87 87.44 L482.01 88.3 L482.18 89.12 L482.38 89.89 L482.6 90.63 L482.85 91.32 L483.12 91.97 L483.41 92.58 L483.71 93.15 L484.04 93.67 L484.37 94.16 L484.72 94.6 L485.08 95 L485.45 95.36 L485.83 95.67 L486.22 95.94 L486.62 96.17 L487.02 96.36 L487.42 96.51 L487.83 96.62 L488.24 96.68 L488.65 96.7 L489.06 96.68 L489.47 96.62 L489.88 96.51 L490.28 96.36 L490.68 96.17 L491.08 95.94 L491.47 95.67 L491.85 95.36 L492.22 95 L492.58 94.6 L492.93 94.16 L493.26 93.67 L493.59 93.15 L493.89 92.58 L494.18 91.97 L494.45 91.32 L494.7 90.63 L494.92 89.89 L495.12 89.12 L495.29 88.3 L495.43 87.44 L495.54 86.53 L495.6 85.59 L495.63 84.6M496.73 84.6 L496.75 85.59 L496.81 86.53 L496.92 87.44 L497.06 88.3 L497.23 89.12 L497.43 89.89 L497.65 90.63 L497.9 91.32 L498.17 91.97 L498.46 92.58 L498.76 93.15 L499.09 93.67 L499.42 94.16 L499.77 94.6 L500.13 95 L500.5 95.36 L500.88 95.67 L501.27 95.94 L501.67 96.17 L502.07 96.36 L502.47 96.51 L502.88 96.62 L503.29 96.68 L503.7 96.7 L504.11 96.68 L504.52 96.62 L504.93 96.51 L505.33 96.36 L505.73 96.17 L506.13 95.94 L506.52 95.67 L506.9 95.36 L507.27 95 L507.63 94.6 L507.98 94.16 L508.31 93.67 L508.64 93.15 L508.94 92.58 L509.23 91.97 L509.5 91.32 L509.75 90.63 L509.97 89.89 L510.17 89.12 L510.34 88.3 L510.48 87.44 L510.59 86.53 L510.65 85.59 L510.68 84.6" fill="none" stroke="#fff" stroke-width="1.1" opacity="0.85"/></g>
<line x1="376.5" y1="28.2" x2="480.7" y2="28.2" stroke="#d4d8ff" stroke-width="1.3" stroke-dasharray="4.4 2.5" stroke-dashoffset="-2.2" opacity="0.92"/>
<line x1="376.5" y1="41" x2="480.7" y2="41" stroke="#d4d8ff" stroke-width="1.3" stroke-dasharray="4.4 2.5" stroke-dashoffset="-2.2" opacity="0.92"/>
<line x1="376.5" y1="99.7" x2="480.7" y2="99.7" stroke="#d4d8ff" stroke-width="1.3" stroke-dasharray="4.4 2.5" stroke-dashoffset="-2.2" opacity="0.92"/>
<line x1="376.5" y1="105.8" x2="480.7" y2="105.8" stroke="#d4d8ff" stroke-width="1.3" stroke-dasharray="4.4 2.5" stroke-dashoffset="-2.2" opacity="0.92"/>
<line x1="376.9" y1="131.1" x2="376.9" y2="12.7" stroke="#0a0a0a" stroke-width="1.25" />
<path d="M375.2 14.1 L376.9 10.2 L378.6 14.1 Z" fill="#0a0a0a"/>
<line x1="372" y1="130.5" x2="483.7" y2="130.5" stroke="#0a0a0a" stroke-width="1.2" />
<path d="M482.4 128.8 L486.2 130.5 L482.4 132.2 Z" fill="#0a0a0a"/>
<line x1="371.9" y1="130.5" x2="376.5" y2="130.5" stroke="#0a0a0a" stroke-width="1" />
<line x1="374.7" y1="111.67" x2="376.5" y2="111.67" stroke="#0a0a0a" stroke-width="1" />
<line x1="371.9" y1="92.84" x2="376.5" y2="92.84" stroke="#0a0a0a" stroke-width="1" />
<line x1="374.7" y1="74" x2="376.5" y2="74" stroke="#0a0a0a" stroke-width="1" />
<line x1="371.9" y1="55.17" x2="376.5" y2="55.17" stroke="#0a0a0a" stroke-width="1" />
<line x1="374.7" y1="36.34" x2="376.5" y2="36.34" stroke="#0a0a0a" stroke-width="1" />
<line x1="371.9" y1="17.5" x2="376.5" y2="17.5" stroke="#0a0a0a" stroke-width="1" />
<text x="371" y="134.3" font-size="11.8" text-anchor="end" font-family='"Liberation Sans", sans-serif' font-weight="normal" fill="#151515"  stroke="#151515" stroke-width="0.28">0</text>
<text x="371" y="96.64" font-size="11.8" text-anchor="end" font-family='"Liberation Sans", sans-serif' font-weight="normal" fill="#151515"  stroke="#151515" stroke-width="0.28">0.5</text>
<text x="371" y="58.97" font-size="11.8" text-anchor="end" font-family='"Liberation Sans", sans-serif' font-weight="normal" fill="#151515"  stroke="#151515" stroke-width="0.28">1</text>
<text x="371" y="21.3" font-size="11.8" text-anchor="end" font-family='"Liberation Sans", sans-serif' font-weight="normal" fill="#151515"  stroke="#151515" stroke-width="0.28">1.5</text>
<line x1="383.1" y1="130.5" x2="383.1" y2="132.3" stroke="#0a0a0a" stroke-width="1" />
<line x1="398.2" y1="130.5" x2="398.2" y2="134.1" stroke="#0a0a0a" stroke-width="1" />
<line x1="413.3" y1="130.5" x2="413.3" y2="132.3" stroke="#0a0a0a" stroke-width="1" />
<line x1="428.4" y1="130.5" x2="428.4" y2="134.1" stroke="#0a0a0a" stroke-width="1" />
<line x1="443.5" y1="130.5" x2="443.5" y2="132.3" stroke="#0a0a0a" stroke-width="1" />
<line x1="458.6" y1="130.5" x2="458.6" y2="134.1" stroke="#0a0a0a" stroke-width="1" />
<line x1="473.7" y1="130.5" x2="473.7" y2="132.3" stroke="#0a0a0a" stroke-width="1" />
<text x="396" y="145.4" font-size="11.3" text-anchor="middle" font-family='"Liberation Sans", sans-serif' font-weight="normal" fill="#151515"  stroke="#151515" stroke-width="0.28">-1</text>
<text x="429.1" y="145.4" font-size="11.3" text-anchor="middle" font-family='"Liberation Sans", sans-serif' font-weight="normal" fill="#151515"  stroke="#151515" stroke-width="0.28">0</text>
<text x="458.4" y="145.4" font-size="11.3" text-anchor="middle" font-family='"Liberation Sans", sans-serif' font-weight="normal" fill="#151515"  stroke="#151515" stroke-width="0.28">1</text>
<text x="429" y="156.3" font-size="12.1" text-anchor="middle" font-family='"Liberation Serif", serif' font-weight="normal" fill="#151515"  stroke="#151515" stroke-width="0.28">X (μm)</text>
<text x="0" y="0" font-size="12" font-family='"Liberation Serif", serif' fill="#151515" stroke="#151515" stroke-width="0.28" text-anchor="middle" transform="translate(351.3 65.9) rotate(-90)">Z (μm)</text>
<text x="342.3" y="9" font-size="11.4" text-anchor="start" font-family='"Liberation Sans", sans-serif' font-weight="normal" fill="#222"  stroke="#222" stroke-width="0.28">(e)</text>
<text x="424.9" y="124.2" font-size="15.8" text-anchor="middle" font-family='"Liberation Serif", serif' font-weight="bold" fill="#e0183e" >SIO-5</text>
<rect x="492.4" y="19" width="9.5" height="111.6" fill="url(#cb32)"/>
<line x1="492.4" y1="19.3" x2="501.9" y2="19.3" stroke="#300000" stroke-width="0.8" />
<line x1="492.4" y1="130.3" x2="501.9" y2="130.3" stroke="#000030" stroke-width="0.8" />
<line x1="501.9" y1="130.6" x2="506.2" y2="130.6" stroke="#0a0a0a" stroke-width="1" />
<text x="507.7" y="132.4" font-size="8.3" text-anchor="start" font-family='"Liberation Sans", sans-serif' font-weight="normal" fill="#202020"  stroke="#202020" stroke-width="0.28">0</text>
<line x1="496.9" y1="108.28" x2="506.2" y2="108.28" stroke="#0a0a0a" stroke-width="1" />
<text x="507.7" y="111.38" font-size="8.3" text-anchor="start" font-family='"Liberation Sans", sans-serif' font-weight="normal" fill="#202020"  stroke="#202020" stroke-width="0.28">0.2</text>
<line x1="496.9" y1="85.96" x2="506.2" y2="85.96" stroke="#0a0a0a" stroke-width="1" />
<text x="507.7" y="89.06" font-size="8.3" text-anchor="start" font-family='"Liberation Sans", sans-serif' font-weight="normal" fill="#202020"  stroke="#202020" stroke-width="0.28">0.4</text>
<line x1="496.9" y1="63.64" x2="506.2" y2="63.64" stroke="#0a0a0a" stroke-width="1" />
<text x="507.7" y="66.74" font-size="8.3" text-anchor="start" font-family='"Liberation Sans", sans-serif' font-weight="normal" fill="#202020"  stroke="#202020" stroke-width="0.28">0.6</text>
<line x1="496.9" y1="41.32" x2="506.2" y2="41.32" stroke="#0a0a0a" stroke-width="1" />
<text x="507.7" y="44.42" font-size="8.3" text-anchor="start" font-family='"Liberation Sans", sans-serif' font-weight="normal" fill="#202020"  stroke="#202020" stroke-width="0.28">0.8</text>
<line x1="501.9" y1="19" x2="506.2" y2="19" stroke="#0a0a0a" stroke-width="1" />
<text x="507.7" y="22.1" font-size="8.3" text-anchor="start" font-family='"Liberation Sans", sans-serif' font-weight="normal" fill="#202020"  stroke="#202020" stroke-width="0.28">1.0</text>
<clipPath id="cf"><rect x="378" y="177.8" width="101.7" height="112.7"/></clipPath>
<g clip-path="url(#cf)">
<rect x="378" y="177.8" width="101.7" height="112.7" fill="url(#g33)"/>
<rect x="378" y="202" width="1.02" height="58" fill="url(#g34)"/>
<rect x="379" y="202" width="1.02" height="58" fill="url(#g35)"/>
<rect x="380" y="202" width="1.02" height="58" fill="url(#g36)"/>
<rect x="381" y="202" width="1.02" height="58" fill="url(#g37)"/>
<rect x="382" y="202" width="1.02" height="58" fill="url(#g38)"/>
<rect x="383" y="202" width="1.02" height="58" fill="url(#g39)"/>
<rect x="384" y="202" width="1.02" height="58" fill="url(#g40)"/>
<rect x="385" y="202" width="1.02" height="58" fill="url(#g41)"/>
<rect x="386" y="202" width="1.02" height="58" fill="url(#g42)"/>
<rect x="387" y="202" width="1.02" height="58" fill="url(#g43)"/>
<rect x="388" y="202" width="1.02" height="58" fill="url(#g44)"/>
<rect x="389" y="202" width="1.02" height="58" fill="url(#g45)"/>
<rect x="390" y="202" width="1.02" height="58" fill="url(#g46)"/>
<rect x="391" y="202" width="1.02" height="58" fill="url(#g47)"/>
<rect x="392" y="202" width="1.02" height="58" fill="url(#g47)"/>
<rect x="393" y="202" width="1.02" height="58" fill="url(#g48)"/>
<rect x="394" y="202" width="1.02" height="58" fill="url(#g49)"/>
<rect x="395" y="202" width="1.02" height="58" fill="url(#g50)"/>
<rect x="396" y="202" width="1.02" height="58" fill="url(#g51)"/>
<rect x="397" y="202" width="1.02" height="58" fill="url(#g52)"/>
<rect x="398" y="202" width="1.02" height="58" fill="url(#g53)"/>
<rect x="399" y="202" width="1.02" height="58" fill="url(#g34)"/>
<rect x="400" y="202" width="1.02" height="58" fill="url(#g35)"/>
<rect x="401" y="202" width="1.02" height="58" fill="url(#g36)"/>
<rect x="402" y="202" width="1.02" height="58" fill="url(#g37)"/>
<rect x="403" y="202" width="1.02" height="58" fill="url(#g38)"/>
<rect x="404" y="202" width="1.02" height="58" fill="url(#g39)"/>
<rect x="405" y="202" width="1.02" height="58" fill="url(#g40)"/>
<rect x="406" y="202" width="1.02" height="58" fill="url(#g41)"/>
<rect x="407" y="202" width="1.02" height="58" fill="url(#g42)"/>
<rect x="408" y="202" width="1.02" height="58" fill="url(#g43)"/>
<rect x="409" y="202" width="1.02" height="58" fill="url(#g44)"/>
<rect x="410" y="202" width="1.02" height="58" fill="url(#g45)"/>
<rect x="411" y="202" width="1.02" height="58" fill="url(#g46)"/>
<rect x="412" y="202" width="1.02" height="58" fill="url(#g46)"/>
<rect x="413" y="202" width="1.02" height="58" fill="url(#g47)"/>
<rect x="414" y="202" width="1.02" height="58" fill="url(#g48)"/>
<rect x="415" y="202" width="1.02" height="58" fill="url(#g49)"/>
<rect x="416" y="202" width="1.02" height="58" fill="url(#g50)"/>
<rect x="417" y="202" width="1.02" height="58" fill="url(#g51)"/>
<rect x="418" y="202" width="1.02" height="58" fill="url(#g52)"/>
<rect x="419" y="202" width="1.02" height="58" fill="url(#g53)"/>
<rect x="420" y="202" width="1.02" height="58" fill="url(#g34)"/>
<rect x="421" y="202" width="1.02" height="58" fill="url(#g35)"/>
<rect x="422" y="202" width="1.02" height="58" fill="url(#g36)"/>
<rect x="423" y="202" width="1.02" height="58" fill="url(#g37)"/>
<rect x="424" y="202" width="1.02" height="58" fill="url(#g38)"/>
<rect x="425" y="202" width="1.02" height="58" fill="url(#g39)"/>
<rect x="426" y="202" width="1.02" height="58" fill="url(#g40)"/>
<rect x="427" y="202" width="1.02" height="58" fill="url(#g41)"/>
<rect x="428" y="202" width="1.02" height="58" fill="url(#g42)"/>
<rect x="429" y="202" width="1.02" height="58" fill="url(#g43)"/>
<rect x="430" y="202" width="1.02" height="58" fill="url(#g44)"/>
<rect x="431" y="202" width="1.02" height="58" fill="url(#g45)"/>
<rect x="432" y="202" width="1.02" height="58" fill="url(#g45)"/>
<rect x="433" y="202" width="1.02" height="58" fill="url(#g46)"/>
<rect x="434" y="202" width="1.02" height="58" fill="url(#g47)"/>
<rect x="435" y="202" width="1.02" height="58" fill="url(#g48)"/>
<rect x="436" y="202" width="1.02" height="58" fill="url(#g49)"/>
<rect x="437" y="202" width="1.02" height="58" fill="url(#g50)"/>
<rect x="438" y="202" width="1.02" height="58" fill="url(#g51)"/>
<rect x="439" y="202" width="1.02" height="58" fill="url(#g52)"/>
<rect x="440" y="202" width="1.02" height="58" fill="url(#g53)"/>
<rect x="441" y="202" width="1.02" height="58" fill="url(#g34)"/>
<rect x="442" y="202" width="1.02" height="58" fill="url(#g35)"/>
<rect x="443" y="202" width="1.02" height="58" fill="url(#g36)"/>
<rect x="444" y="202" width="1.02" height="58" fill="url(#g37)"/>
<rect x="445" y="202" width="1.02" height="58" fill="url(#g38)"/>
<rect x="446" y="202" width="1.02" height="58" fill="url(#g39)"/>
<rect x="447" y="202" width="1.02" height="58" fill="url(#g40)"/>
<rect x="448" y="202" width="1.02" height="58" fill="url(#g41)"/>
<rect x="449" y="202" width="1.02" height="58" fill="url(#g42)"/>
<rect x="450" y="202" width="1.02" height="58" fill="url(#g43)"/>
<rect x="451" y="202" width="1.02" height="58" fill="url(#g44)"/>
<rect x="452" y="202" width="1.02" height="58" fill="url(#g44)"/>
<rect x="453" y="202" width="1.02" height="58" fill="url(#g45)"/>
<rect x="454" y="202" width="1.02" height="58" fill="url(#g46)"/>
<rect x="455" y="202" width="1.02" height="58" fill="url(#g47)"/>
<rect x="456" y="202" width="1.02" height="58" fill="url(#g48)"/>
<rect x="457" y="202" width="1.02" height="58" fill="url(#g49)"/>
<rect x="458" y="202" width="1.02" height="58" fill="url(#g50)"/>
<rect x="459" y="202" width="1.02" height="58" fill="url(#g51)"/>
<rect x="460" y="202" width="1.02" height="58" fill="url(#g52)"/>
<rect x="461" y="202" width="1.02" height="58" fill="url(#g53)"/>
<rect x="462" y="202" width="1.02" height="58" fill="url(#g34)"/>
<rect x="463" y="202" width="1.02" height="58" fill="url(#g35)"/>
<rect x="464" y="202" width="1.02" height="58" fill="url(#g36)"/>
<rect x="465" y="202" width="1.02" height="58" fill="url(#g37)"/>
<rect x="466" y="202" width="1.02" height="58" fill="url(#g38)"/>
<rect x="467" y="202" width="1.02" height="58" fill="url(#g39)"/>
<rect x="468" y="202" width="1.02" height="58" fill="url(#g40)"/>
<rect x="469" y="202" width="1.02" height="58" fill="url(#g41)"/>
<rect x="470" y="202" width="1.02" height="58" fill="url(#g42)"/>
<rect x="471" y="202" width="1.02" height="58" fill="url(#g43)"/>
<rect x="472" y="202" width="1.02" height="58" fill="url(#g43)"/>
<rect x="473" y="202" width="1.02" height="58" fill="url(#g44)"/>
<rect x="474" y="202" width="1.02" height="58" fill="url(#g45)"/>
<rect x="475" y="202" width="1.02" height="58" fill="url(#g46)"/>
<rect x="476" y="202" width="1.02" height="58" fill="url(#g47)"/>
<rect x="477" y="202" width="1.02" height="58" fill="url(#g48)"/>
<rect x="478" y="202" width="1.02" height="58" fill="url(#g49)"/>
<rect x="479" y="202" width="1.02" height="58" fill="url(#g50)"/>
</g>
<g clip-path="url(#cf)"><path d="M354.8 237.6 L355.05 239.31 L355.36 240.95 L355.7 242.52 L356.07 244.02 L356.44 245.44 L356.83 246.79 L357.23 248.06 L357.64 249.27 L358.05 250.4 L358.47 251.45 L358.89 252.44 L359.32 253.35 L359.75 254.19 L360.18 254.95 L360.62 255.65 L361.06 256.27 L361.5 256.81 L361.94 257.29 L362.39 257.69 L362.83 258.02 L363.28 258.27 L363.73 258.45 L364.18 258.56 L364.62 258.6 L365.07 258.56 L365.52 258.45 L365.97 258.27 L366.42 258.02 L366.86 257.69 L367.31 257.29 L367.75 256.81 L368.19 256.27 L368.63 255.65 L369.07 254.95 L369.5 254.19 L369.93 253.35 L370.36 252.44 L370.78 251.45 L371.2 250.4 L371.61 249.27 L372.02 248.06 L372.42 246.79 L372.81 245.44 L373.18 244.02 L373.55 242.52 L373.89 240.95 L374.2 239.31 L374.45 237.6M375.85 237.6 L376.1 239.31 L376.41 240.95 L376.75 242.52 L377.12 244.02 L377.49 245.44 L377.88 246.79 L378.28 248.06 L378.69 249.27 L379.1 250.4 L379.52 251.45 L379.94 252.44 L380.37 253.35 L380.8 254.19 L381.23 254.95 L381.67 255.65 L382.11 256.27 L382.55 256.81 L382.99 257.29 L383.44 257.69 L383.88 258.02 L384.33 258.27 L384.78 258.45 L385.23 258.56 L385.68 258.6 L386.12 258.56 L386.57 258.45 L387.02 258.27 L387.47 258.02 L387.91 257.69 L388.36 257.29 L388.8 256.81 L389.24 256.27 L389.68 255.65 L390.12 254.95 L390.55 254.19 L390.98 253.35 L391.41 252.44 L391.83 251.45 L392.25 250.4 L392.66 249.27 L393.07 248.06 L393.47 246.79 L393.86 245.44 L394.23 244.02 L394.6 242.52 L394.94 240.95 L395.25 239.31 L395.5 237.6M396.9 237.6 L397.15 239.31 L397.46 240.95 L397.8 242.52 L398.17 244.02 L398.54 245.44 L398.93 246.79 L399.33 248.06 L399.74 249.27 L400.15 250.4 L400.57 251.45 L400.99 252.44 L401.42 253.35 L401.85 254.19 L402.28 254.95 L402.72 255.65 L403.16 256.27 L403.6 256.81 L404.04 257.29 L404.49 257.69 L404.93 258.02 L405.38 258.27 L405.83 258.45 L406.28 258.56 L406.73 258.6 L407.17 258.56 L407.62 258.45 L408.07 258.27 L408.52 258.02 L408.96 257.69 L409.41 257.29 L409.85 256.81 L410.29 256.27 L410.73 255.65 L411.17 254.95 L411.6 254.19 L412.03 253.35 L412.46 252.44 L412.88 251.45 L413.3 250.4 L413.71 249.27 L414.12 248.06 L414.52 246.79 L414.91 245.44 L415.28 244.02 L415.65 242.52 L415.99 240.95 L416.3 239.31 L416.55 237.6M417.95 237.6 L418.2 239.31 L418.51 240.95 L418.85 242.52 L419.22 244.02 L419.59 245.44 L419.98 246.79 L420.38 248.06 L420.79 249.27 L421.2 250.4 L421.62 251.45 L422.04 252.44 L422.47 253.35 L422.9 254.19 L423.33 254.95 L423.77 255.65 L424.21 256.27 L424.65 256.81 L425.09 257.29 L425.54 257.69 L425.98 258.02 L426.43 258.27 L426.88 258.45 L427.33 258.56 L427.78 258.6 L428.22 258.56 L428.67 258.45 L429.12 258.27 L429.57 258.02 L430.01 257.69 L430.46 257.29 L430.9 256.81 L431.34 256.27 L431.78 255.65 L432.22 254.95 L432.65 254.19 L433.08 253.35 L433.51 252.44 L433.93 251.45 L434.35 250.4 L434.76 249.27 L435.17 248.06 L435.57 246.79 L435.96 245.44 L436.33 244.02 L436.7 242.52 L437.04 240.95 L437.35 239.31 L437.6 237.6M439 237.6 L439.25 239.31 L439.56 240.95 L439.9 242.52 L440.27 244.02 L440.64 245.44 L441.03 246.79 L441.43 248.06 L441.84 249.27 L442.25 250.4 L442.67 251.45 L443.09 252.44 L443.52 253.35 L443.95 254.19 L444.38 254.95 L444.82 255.65 L445.26 256.27 L445.7 256.81 L446.14 257.29 L446.59 257.69 L447.03 258.02 L447.48 258.27 L447.93 258.45 L448.38 258.56 L448.83 258.6 L449.27 258.56 L449.72 258.45 L450.17 258.27 L450.62 258.02 L451.06 257.69 L451.51 257.29 L451.95 256.81 L452.39 256.27 L452.83 255.65 L453.27 254.95 L453.7 254.19 L454.13 253.35 L454.56 252.44 L454.98 251.45 L455.4 250.4 L455.81 249.27 L456.22 248.06 L456.62 246.79 L457.01 245.44 L457.38 244.02 L457.75 242.52 L458.09 240.95 L458.4 239.31 L458.65 237.6M460.05 237.6 L460.3 239.31 L460.61 240.95 L460.95 242.52 L461.32 244.02 L461.69 245.44 L462.08 246.79 L462.48 248.06 L462.89 249.27 L463.3 250.4 L463.72 251.45 L464.14 252.44 L464.57 253.35 L465 254.19 L465.43 254.95 L465.87 255.65 L466.31 256.27 L466.75 256.81 L467.19 257.29 L467.64 257.69 L468.08 258.02 L468.53 258.27 L468.98 258.45 L469.43 258.56 L469.88 258.6 L470.32 258.56 L470.77 258.45 L471.22 258.27 L471.67 258.02 L472.11 257.69 L472.56 257.29 L473 256.81 L473.44 256.27 L473.88 255.65 L474.32 254.95 L474.75 254.19 L475.18 253.35 L475.61 252.44 L476.03 251.45 L476.45 250.4 L476.86 249.27 L477.27 248.06 L477.67 246.79 L478.06 245.44 L478.43 244.02 L478.8 242.52 L479.14 240.95 L479.45 239.31 L479.7 237.6M481.1 237.6 L481.35 239.31 L481.66 240.95 L482 242.52 L482.37 244.02 L482.74 245.44 L483.13 246.79 L483.53 248.06 L483.94 249.27 L484.35 250.4 L484.77 251.45 L485.19 252.44 L485.62 253.35 L486.05 254.19 L486.48 254.95 L486.92 255.65 L487.36 256.27 L487.8 256.81 L488.24 257.29 L488.69 257.69 L489.13 258.02 L489.58 258.27 L490.03 258.45 L490.48 258.56 L490.93 258.6 L491.37 258.56 L491.82 258.45 L492.27 258.27 L492.72 258.02 L493.16 257.69 L493.61 257.29 L494.05 256.81 L494.49 256.27 L494.93 255.65 L495.37 254.95 L495.8 254.19 L496.23 253.35 L496.66 252.44 L497.08 251.45 L497.5 250.4 L497.91 249.27 L498.32 248.06 L498.72 246.79 L499.11 245.44 L499.48 244.02 L499.85 242.52 L500.19 240.95 L500.5 239.31 L500.75 237.6M502.15 237.6 L502.4 239.31 L502.71 240.95 L503.05 242.52 L503.42 244.02 L503.79 245.44 L504.18 246.79 L504.58 248.06 L504.99 249.27 L505.4 250.4 L505.82 251.45 L506.24 252.44 L506.67 253.35 L507.1 254.19 L507.53 254.95 L507.97 255.65 L508.41 256.27 L508.85 256.81 L509.29 257.29 L509.74 257.69 L510.18 258.02 L510.63 258.27 L511.08 258.45 L511.53 258.56 L511.98 258.6 L512.42 258.56 L512.87 258.45 L513.32 258.27 L513.77 258.02 L514.21 257.69 L514.66 257.29 L515.1 256.81 L515.54 256.27 L515.98 255.65 L516.42 254.95 L516.85 254.19 L517.28 253.35 L517.71 252.44 L518.13 251.45 L518.55 250.4 L518.96 249.27 L519.37 248.06 L519.77 246.79 L520.16 245.44 L520.53 244.02 L520.9 242.52 L521.24 240.95 L521.55 239.31 L521.8 237.6" fill="none" stroke="#fff" stroke-width="1.1" opacity="0.8"/></g>
<line x1="378" y1="188.8" x2="479.4" y2="188.8" stroke="#d4d8ff" stroke-width="1.3" stroke-dasharray="4.4 2.45" stroke-dashoffset="-1.8" opacity="0.92"/>
<line x1="378" y1="201.1" x2="479.4" y2="201.1" stroke="#d4d8ff" stroke-width="1.3" stroke-dasharray="4.4 2.45" stroke-dashoffset="-1.8" opacity="0.92"/>
<line x1="378" y1="260.2" x2="479.4" y2="260.2" stroke="#d4d8ff" stroke-width="1.3" stroke-dasharray="4.4 2.45" stroke-dashoffset="-1.8" opacity="0.92"/>
<line x1="378" y1="266.1" x2="479.4" y2="266.1" stroke="#d4d8ff" stroke-width="1.3" stroke-dasharray="4.4 2.45" stroke-dashoffset="-1.8" opacity="0.92"/>
<line x1="378.4" y1="291.1" x2="378.4" y2="174.1" stroke="#0a0a0a" stroke-width="1.25" />
<path d="M376.7 175.5 L378.4 171.6 L380.1 175.5 Z" fill="#0a0a0a"/>
<line x1="373.5" y1="290.5" x2="484" y2="290.5" stroke="#0a0a0a" stroke-width="1.2" />
<path d="M482.7 288.8 L486.5 290.5 L482.7 292.2 Z" fill="#0a0a0a"/>
<line x1="373.4" y1="290.5" x2="378" y2="290.5" stroke="#0a0a0a" stroke-width="1" />
<line x1="376.2" y1="271.75" x2="378" y2="271.75" stroke="#0a0a0a" stroke-width="1" />
<line x1="373.4" y1="253" x2="378" y2="253" stroke="#0a0a0a" stroke-width="1" />
<line x1="376.2" y1="234.25" x2="378" y2="234.25" stroke="#0a0a0a" stroke-width="1" />
<line x1="373.4" y1="215.5" x2="378" y2="215.5" stroke="#0a0a0a" stroke-width="1" />
<line x1="376.2" y1="196.75" x2="378" y2="196.75" stroke="#0a0a0a" stroke-width="1" />
<line x1="373.4" y1="178" x2="378" y2="178" stroke="#0a0a0a" stroke-width="1" />
<text x="372.4" y="294.3" font-size="11.8" text-anchor="end" font-family='"Liberation Sans", sans-serif' font-weight="normal" fill="#151515"  stroke="#151515" stroke-width="0.28">0</text>
<text x="372.4" y="256.8" font-size="11.8" text-anchor="end" font-family='"Liberation Sans", sans-serif' font-weight="normal" fill="#151515"  stroke="#151515" stroke-width="0.28">0.5</text>
<text x="372.4" y="219.3" font-size="11.8" text-anchor="end" font-family='"Liberation Sans", sans-serif' font-weight="normal" fill="#151515"  stroke="#151515" stroke-width="0.28">1</text>
<text x="372.4" y="181.8" font-size="11.8" text-anchor="end" font-family='"Liberation Sans", sans-serif' font-weight="normal" fill="#151515"  stroke="#151515" stroke-width="0.28">1.5</text>
<line x1="380.82" y1="290.5" x2="380.82" y2="292.3" stroke="#0a0a0a" stroke-width="1" />
<line x1="396.45" y1="290.5" x2="396.45" y2="294.1" stroke="#0a0a0a" stroke-width="1" />
<line x1="412.07" y1="290.5" x2="412.07" y2="292.3" stroke="#0a0a0a" stroke-width="1" />
<line x1="427.7" y1="290.5" x2="427.7" y2="294.1" stroke="#0a0a0a" stroke-width="1" />
<line x1="443.32" y1="290.5" x2="443.32" y2="292.3" stroke="#0a0a0a" stroke-width="1" />
<line x1="458.95" y1="290.5" x2="458.95" y2="294.1" stroke="#0a0a0a" stroke-width="1" />
<line x1="474.57" y1="290.5" x2="474.57" y2="292.3" stroke="#0a0a0a" stroke-width="1" />
<text x="393.6" y="305.9" font-size="11.3" text-anchor="middle" font-family='"Liberation Sans", sans-serif' font-weight="normal" fill="#151515"  stroke="#151515" stroke-width="0.28">-1</text>
<text x="429.2" y="305.9" font-size="11.3" text-anchor="middle" font-family='"Liberation Sans", sans-serif' font-weight="normal" fill="#151515"  stroke="#151515" stroke-width="0.28">0</text>
<text x="458.5" y="305.9" font-size="11.3" text-anchor="middle" font-family='"Liberation Sans", sans-serif' font-weight="normal" fill="#151515"  stroke="#151515" stroke-width="0.28">1</text>
<text x="430" y="316.3" font-size="12.1" text-anchor="middle" font-family='"Liberation Serif", serif' font-weight="normal" fill="#151515"  stroke="#151515" stroke-width="0.28">X (μm)</text>
<text x="0" y="0" font-size="12" font-family='"Liberation Serif", serif' fill="#151515" stroke="#151515" stroke-width="0.28" text-anchor="middle" transform="translate(352.2 225.9) rotate(-90)">Z (μm)</text>
<text x="346.8" y="169" font-size="11.4" text-anchor="start" font-family='"Liberation Sans", sans-serif' font-weight="normal" fill="#222"  stroke="#222" stroke-width="0.28">(f)</text>
<text x="423.3" y="285" font-size="15.8" text-anchor="middle" font-family='"Liberation Serif", serif' font-weight="bold" fill="#e0183e" >SIO-8</text>
<rect x="492.3" y="179" width="8.6" height="111.8" fill="url(#cb54)"/>
<line x1="492.3" y1="179.3" x2="500.9" y2="179.3" stroke="#300000" stroke-width="0.8" />
<line x1="492.3" y1="290.5" x2="500.9" y2="290.5" stroke="#000030" stroke-width="0.8" />
<line x1="500.9" y1="290.8" x2="505.2" y2="290.8" stroke="#0a0a0a" stroke-width="1" />
<text x="506.7" y="292.6" font-size="8.3" text-anchor="start" font-family='"Liberation Sans", sans-serif' font-weight="normal" fill="#202020"  stroke="#202020" stroke-width="0.28">0</text>
<line x1="496.8" y1="268.44" x2="505.2" y2="268.44" stroke="#0a0a0a" stroke-width="1" />
<text x="506.7" y="271.54" font-size="8.3" text-anchor="start" font-family='"Liberation Sans", sans-serif' font-weight="normal" fill="#202020"  stroke="#202020" stroke-width="0.28">0.2</text>
<line x1="496.8" y1="246.08" x2="505.2" y2="246.08" stroke="#0a0a0a" stroke-width="1" />
<text x="506.7" y="249.18" font-size="8.3" text-anchor="start" font-family='"Liberation Sans", sans-serif' font-weight="normal" fill="#202020"  stroke="#202020" stroke-width="0.28">0.4</text>
<line x1="496.8" y1="223.72" x2="505.2" y2="223.72" stroke="#0a0a0a" stroke-width="1" />
<text x="506.7" y="226.82" font-size="8.3" text-anchor="start" font-family='"Liberation Sans", sans-serif' font-weight="normal" fill="#202020"  stroke="#202020" stroke-width="0.28">0.6</text>
<line x1="496.8" y1="201.36" x2="505.2" y2="201.36" stroke="#0a0a0a" stroke-width="1" />
<text x="506.7" y="204.46" font-size="8.3" text-anchor="start" font-family='"Liberation Sans", sans-serif' font-weight="normal" fill="#202020"  stroke="#202020" stroke-width="0.28">0.8</text>
<line x1="500.9" y1="179" x2="505.2" y2="179" stroke="#0a0a0a" stroke-width="1" />
<text x="506.7" y="182.1" font-size="8.3" text-anchor="start" font-family='"Liberation Sans", sans-serif' font-weight="normal" fill="#202020"  stroke="#202020" stroke-width="0.28">1.0</text>
</svg></body></html>
